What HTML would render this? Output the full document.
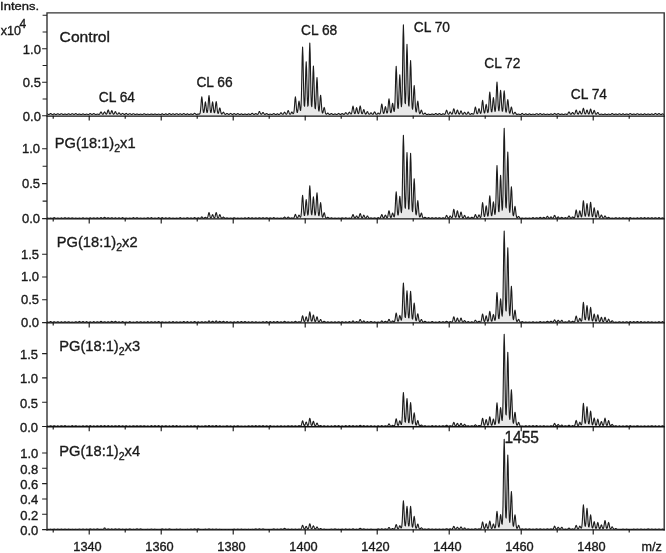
<!DOCTYPE html>
<html><head><meta charset="utf-8"><title>Mass spectra</title>
<style>
html,body{margin:0;padding:0;background:#fff}
body{width:666px;height:553px;overflow:hidden}
svg{display:block;filter:blur(0.35px)}
text{font-family:"Liberation Sans",sans-serif;fill:#1a1a1a;stroke:#1a1a1a;stroke-width:0.35px}
</style></head><body>
<svg width="666" height="553" viewBox="0 0 666 553">
<rect width="666" height="553" fill="#fff"/>
<g id="traces">
<path d="M47.0 113.7l0.4 0.1 0.4 0.3 0.4 0.3 0.4 0.1 0.4 0 0.4-0.2 0.4-0.3 0.4-0.4 0.4-0.1 0.4 0.1 0.4 0.4 0.4 0.3 0.4 0.2 0.4 0 0.4-0.1 0.4-0.2 0.4-0.3 0.4-0.1 0.4 0.1 0.4 0.3 0.4 0.2 0.4 0.1 0.4 0 0.4-0.1 0.4-0.3 0.4-0.2 0.4-0.1 0.4 0.1 0.4 0.2 0.4 0.3 0.4 0.1 0.4 0 0.4-0.1 0.4-0.3 0.4-0.3 0.4-0.1 0.4 0.1 0.4 0.3 0.4 0.3 0.4 0.1 0.4 0 0.4-0.1 0.4-0.1 0.4-0.2 0.4-0.1 0.4 0.1 0.4 0.2 0.4 0.1 0.4 0.1 0.4 0 0.4-0.1 0.4-0.3 0.4-0.2 0.4-0.1 0.4 0.1 0.4 0.2 0.4 0.3 0.4 0.1 0.4 0 0.4-0.1 0.4-0.3 0.4-0.3 0.4-0.1 0.4 0.1 0.4 0.3 0.4 0.2 0.4 0.2 0.4 0 0.4-0.2 0.4-0.3 0.4-0.3 0.4-0.1 0.4 0.1 0.4 0.3 0.4 0.3 0.4 0.2 0.4 0 0.4-0.1 0.4-0.1 0.4-0.2 0.4 0 0.4 0 0.4 0.2 0.4 0.2 0.4 0 0.4 0 0.4-0.1 0.4-0.2 0.4-0.2 0.4-0.1 0.4 0.1 0.4 0.2 0.4 0.2 0.4 0.1 0.4 0 0.4 0 0.4-0.2 0.4-0.1 0.4-0.1 0.4 0.1 0.4 0.1 0.4 0.2 0.4 0 0.4 0 0.4-0.2 0.4-0.3 0.4-0.3 0.4-0.2 0.4 0.2 0.4 0.3 0.4 0.3 0.4 0.2 0.4 0 0.4-0.2 0.4-0.2 0.4-0.3 0.4-0.2 0.4 0.2 0.4 0.3 0.4 0.2 0.4 0.2 0.4 0 0.4 0 0.4-0.2 0.4-0.1 0.4-0.1 0.4 0.1 0.4 0.1 0.4 0.1 0.4 0.1 0.4-0.2 0.4-0.4 0.4-0.8 0.4-0.8 0.4-0.4 0.4 0.4 0.4 0.8 0.4 0.8 0.4 0.3 0.4 0 0.4-0.3 0.4-0.8 0.4-0.8 0.4-0.4 0.4 0.4 0.4 0.8 0.4 0.7 0.4 0.4 0.4-0.2 0.4-0.6 0.4-1.4 0.4-1.4 0.4-0.7 0.4 0.7 0.4 1.4 0.4 1.3 0.4 0.7 0.4 0 0.4-0.5 0.4-1 0.4-1.3 0.4-0.5 0.4 0.5 0.4 1.3 0.4 1.1 0.4 0.5 0.4 0.1 0.4-0.4 0.4-0.9 0.4-0.9 0.4-0.4 0.4 0.4 0.4 1 0.4 0.8 0.4 0.4 0.4 0.1 0.4-0.2 0.4-0.5 0.4-0.6 0.4-0.2 0.4 0.3 0.4 0.5 0.4 0.5 0.4 0.3 0.4 0 0.4-0.1 0.4-0.4 0.4-0.3 0.4-0.2 0.4 0.2 0.4 0.3 0.4 0.4 0.4 0.1 0.4 0 0.4-0.1 0.4-0.3 0.4-0.4 0.4-0.2 0.4 0.2 0.4 0.4 0.4 0.3 0.4 0.2 0.4 0 0.4-0.2 0.4-0.2 0.4-0.3 0.4-0.1 0.4 0.1 0.4 0.3 0.4 0.2 0.4 0.2 0.4 0 0.4-0.1 0.4-0.3 0.4-0.3 0.4-0.1 0.4 0.1 0.4 0.3 0.4 0.3 0.4 0.1 0.4 0 0.4-0.1 0.4-0.1 0.4-0.2 0.4-0.1 0.4 0.1 0.4 0.2 0.4 0.1 0.4 0.1 0.4 0 0.4 0 0.4-0.2 0.4-0.1 0.4-0.1 0.4 0.1 0.4 0.1 0.4 0.2 0.4 0 0.4 0 0.4-0.1 0.4-0.3 0.4-0.2 0.4-0.1 0.4 0.1 0.4 0.2 0.4 0.3 0.4 0.1 0.4 0 0.4 0 0.4-0.2 0.4-0.1 0.4-0.1 0.4 0.1 0.4 0.1 0.4 0.2 0.4 0 0.4 0 0.4-0.1 0.4-0.1 0.4-0.2 0.4-0.1 0.4 0.1 0.4 0.2 0.4 0.1 0.4 0.1 0.4 0 0.4-0.1 0.4-0.1 0.4-0.2 0.4-0.1 0.4 0.1 0.4 0.2 0.4 0.1 0.4 0.1 0.4 0 0.4 0 0.4-0.2 0.4-0.1 0.4-0.1 0.4 0.1 0.4 0.1 0.4 0.2 0.4 0 0.4 0 0.4-0.1 0.4-0.2 0.4-0.3 0.4-0.1 0.4 0.1 0.4 0.3 0.4 0.2 0.4 0.1 0.4 0 0.4-0.1 0.4-0.2 0.4-0.3 0.4-0.1 0.4 0.1 0.4 0.3 0.4 0.2 0.4 0.1 0.4 0 0.4-0.2 0.4-0.3 0.4-0.3 0.4-0.2 0.4 0.2 0.4 0.3 0.4 0.3 0.4 0.2 0.4 0 0.4-0.1 0.4-0.3 0.4-0.2 0.4-0.1 0.4 0.1 0.4 0.2 0.4 0.3 0.4 0.1 0.4 0 0.4-0.2 0.4-0.2 0.4-0.3 0.4-0.1 0.4 0.1 0.4 0.3 0.4 0.2 0.4 0.2 0.4 0 0.4-0.1 0.4-0.3 0.4-0.2 0.4-0.1 0.4 0.1 0.4 0.2 0.4 0.3 0.4 0.1 0.4 0 0.4-0.2 0.4-0.2 0.4-0.3 0.4-0.2 0.4 0.2 0.4 0.3 0.4 0.2 0.4 0.2 0.4 0 0.4-0.1 0.4-0.2 0.4-0.3 0.4-0.1 0.4 0.1 0.4 0.3 0.4 0.2 0.4 0.1 0.4 0 0.4-0.1 0.4-0.2 0.4-0.2 0.4-0.1 0.4 0.1 0.4 0.2 0.4 0.2 0.4 0.1 0.4-0.1 0.4-0.2 0.4-0.4 0.4-0.4 0.4-0.2 0.4 0.2 0.4 0.4 0.4 0.4 0.4 0.2 0.4 0.1 0.4-0.1 0.4-0.1 0.4-0.2 0.4-0.1 0.4 0.1 0.4 0 0.4 0 0.4-0.3 0.4-1.1 0.4-2.7 0.4-5 0.4-5.7 0.4-2.5 0.4 2.5 0.4 5.5 0.4 4.9 0.4 2.5 0.4 0.3 0.4-1.6 0.4-3.3 0.4-3.9 0.4-1.8 0.4 1.8 0.4 3.8 0.4 3.4 0.4 1.6 0.4-0.4 0.4-2.7 0.4-5.2 0.4-5.9 0.4-2.7 0.4 2.7 0.4 5.9 0.4 5.2 0.4 2.7 0.4 0.4 0.4-1.6 0.4-3.4 0.4-3.8 0.4-1.8 0.4 1.8 0.4 3.9 0.4 3.4 0.4 1.7 0.4 0 0.4-1.7 0.4-3.6 0.4-4 0.4-1.9 0.4 1.9 0.4 4.1 0.4 3.6 0.4 1.9 0.4 0.4 0.4-0.8 0.4-1.8 0.4-2 0.4-0.9 0.4 0.9 0.4 2.2 0.4 1.8 0.4 1 0.4 0.3 0.4-0.3 0.4-0.6 0.4-0.8 0.4-0.3 0.4 0.3 0.4 0.8 0.4 0.7 0.4 0.4 0.4 0.1 0.4-0.1 0.4-0.4 0.4-0.3 0.4-0.2 0.4 0.2 0.4 0.3 0.4 0.4 0.4 0.1 0.4 0 0.4-0.1 0.4-0.4 0.4-0.3 0.4-0.2 0.4 0.2 0.4 0.3 0.4 0.4 0.4 0.1 0.4 0.1 0.4-0.2 0.4-0.3 0.4-0.3 0.4-0.2 0.4 0.2 0.4 0.3 0.4 0.3 0.4 0.2 0.4 0 0.4-0.2 0.4-0.2 0.4-0.3 0.4-0.2 0.4 0.2 0.4 0.3 0.4 0.2 0.4 0.2 0.4 0 0.4-0.1 0.4-0.2 0.4-0.2 0.4-0.1 0.4 0.1 0.4 0.2 0.4 0.2 0.4 0.1 0.4 0 0.4-0.1 0.4-0.1 0.4-0.2 0.4-0.1 0.4 0.1 0.4 0.2 0.4 0.1 0.4 0.1 0.4 0 0.4-0.1 0.4-0.2 0.4-0.2 0.4-0.1 0.4 0.1 0.4 0.2 0.4 0.2 0.4 0.1 0.4-0.1 0.4-0.2 0.4-0.4 0.4-0.4 0.4-0.2 0.4 0.2 0.4 0.4 0.4 0.4 0.4 0.2 0.4 0.1 0.4-0.2 0.4-0.3 0.4-0.3 0.4-0.1 0.4 0.1 0.4 0.3 0.4 0.3 0.4 0.1 0.4-0.1 0.4-0.5 0.4-0.9 0.4-1 0.4-0.4 0.4 0.4 0.4 1 0.4 0.9 0.4 0.4 0.4 0.1 0.4-0.3 0.4-0.6 0.4-0.6 0.4-0.3 0.4 0.3 0.4 0.7 0.4 0.5 0.4 0.4 0.4 0 0.4-0.1 0.4-0.3 0.4-0.3 0.4-0.1 0.4 0.1 0.4 0.4 0.4 0.2 0.4 0.2 0.4 0 0.4 0 0.4-0.2 0.4-0.1 0.4-0.1 0.4 0.1 0.4 0.1 0.4 0.2 0.4 0 0.4 0 0.4-0.2 0.4-0.3 0.4-0.3 0.4-0.1 0.4 0.1 0.4 0.3 0.4 0.3 0.4 0.2 0.4 0 0.4-0.1 0.4-0.2 0.4-0.2 0.4-0.2 0.4 0.1 0.4 0.3 0.4 0.2 0.4 0.1 0.4-0.1 0.4-0.3 0.4-0.5 0.4-0.6 0.4-0.3 0.4 0.3 0.4 0.6 0.4 0.5 0.4 0.2 0.4 0 0.4-0.4 0.4-0.7 0.4-0.8 0.4-0.3 0.4 0.3 0.4 0.8 0.4 0.7 0.4 0.3 0.4-0.1 0.4-0.6 0.4-1.1 0.4-1.3 0.4-0.6 0.4 0.6 0.4 1.3 0.4 1.1 0.4 0.6 0.4 0.1 0.4-0.3 0.4-0.7 0.4-0.8 0.4-0.4 0.4 0.3 0.4 0.7 0.4 0.6 0.4 0 0.4-0.9 0.4-2.7 0.4-5 0.4-5.6 0.4-2.5 0.4 2.5 0.4 5.4 0.4 4.9 0.4 2.5 0.4 0.2 0.4-1.7 0.4-3.6 0.4-4.1 0.4-1.9 0.4 1.7 0.4 3.8 0.4 3.1 0.4 0.7 0.4-3.4 0.4-10.2 0.4-18.8 0.4-21.2 0.4-9.8 0.4 9.6 0.4 20.9 0.4 18.5 0.4 9.4 0.4 0.9 0.4-6.8 0.4-14.1 0.4-16.2 0.4-7.5 0.4 7.4 0.4 16.2 0.4 14.2 0.4 6.7 0.4-1.2 0.4-10 0.4-19.6 0.4-22.1 0.4-10.2 0.4 10.2 0.4 22.2 0.4 19.6 0.4 10.1 0.4 1.4 0.4-6 0.4-13 0.4-14.8 0.4-6.8 0.4 6.9 0.4 15.1 0.4 13.2 0.4 6.8 0.4 0.7 0.4-4.7 0.4-9.9 0.4-11.3 0.4-5.2 0.4 5.3 0.4 11.5 0.4 10.2 0.4 5.4 0.4 1.1 0.4-2.3 0.4-5.1 0.4-5.9 0.4-2.6 0.4 2.8 0.4 6.1 0.4 5.3 0.4 2.9 0.4 0.8 0.4-0.7 0.4-1.9 0.4-2.1 0.4-1 0.4 1.1 0.4 2.2 0.4 2 0.4 1.1 0.4 0.4 0.4-0.1 0.4-0.4 0.4-0.4 0.4-0.2 0.4 0.2 0.4 0.5 0.4 0.4 0.4 0.2 0.4 0 0.4-0.1 0.4-0.3 0.4-0.3 0.4-0.2 0.4 0.2 0.4 0.3 0.4 0.3 0.4 0.2 0.4 0 0.4-0.1 0.4-0.2 0.4-0.2 0.4-0.1 0.4 0.1 0.4 0.2 0.4 0.2 0.4 0.1 0.4 0 0.4-0.2 0.4-0.3 0.4-0.4 0.4-0.2 0.4 0.2 0.4 0.4 0.4 0.3 0.4 0.1 0.4 0.1 0.4-0.2 0.4-0.3 0.4-0.3 0.4-0.2 0.4 0.2 0.4 0.3 0.4 0.3 0.4 0.1 0.4 0 0.4-0.3 0.4-0.6 0.4-0.6 0.4-0.3 0.4 0.3 0.4 0.6 0.4 0.5 0.4 0.3 0.4 0 0.4-0.4 0.4-0.7 0.4-0.8 0.4-0.3 0.4 0.3 0.4 0.8 0.4 0.6 0.4 0.2 0.4-0.3 0.4-1.3 0.4-2.4 0.4-2.7 0.4-1.2 0.4 1.2 0.4 2.7 0.4 2.3 0.4 1.2 0.4 0.1 0.4-0.9 0.4-1.9 0.4-2.2 0.4-1 0.4 1 0.4 2.2 0.4 1.9 0.4 0.9 0.4-0.1 0.4-1.2 0.4-2.4 0.4-2.8 0.4-1.2 0.4 1.2 0.4 2.8 0.4 2.4 0.4 1.3 0.4 0.2 0.4-0.6 0.4-1.4 0.4-1.5 0.4-0.7 0.4 0.7 0.4 1.6 0.4 1.4 0.4 0.7 0.4 0.1 0.4-0.3 0.4-0.9 0.4-0.9 0.4-0.4 0.4 0.4 0.4 1 0.4 0.8 0.4 0.4 0.4 0.1 0.4-0.2 0.4-0.5 0.4-0.6 0.4-0.2 0.4 0.2 0.4 0.6 0.4 0.5 0.4 0.2 0.4 0 0.4-0.4 0.4-0.8 0.4-0.9 0.4-0.4 0.4 0.4 0.4 0.9 0.4 0.8 0.4 0.4 0.4 0 0.4-0.1 0.4-0.4 0.4-0.5 0.4-0.2 0.4 0.1 0.4 0.5 0.4 0.3 0.4 0 0.4-0.6 0.4-1.6 0.4-3 0.4-3.3 0.4-1.5 0.4 1.5 0.4 3.3 0.4 2.9 0.4 1.5 0.4 0.2 0.4-1.1 0.4-2.1 0.4-2.4 0.4-1.2 0.4 1.1 0.4 2.5 0.4 2 0.4 0.9 0.4-0.4 0.4-2.3 0.4-4.4 0.4-4.9 0.4-2.3 0.4 2.3 0.4 4.9 0.4 4.3 0.4 2.2 0.4 0.2 0.4-1.4 0.4-3 0.4-3.4 0.4-1.7 0.4 1.5 0.4 3.3 0.4 2.7 0.4 0.7 0.4-2.3 0.4-7.3 0.4-13.5 0.4-15.2 0.4-6.9 0.4 6.8 0.4 15 0.4 13.2 0.4 6.7 0.4 0.5 0.4-5.1 0.4-10.7 0.4-12.2 0.4-5.7 0.4 5.5 0.4 12 0.4 10.3 0.4 4.3 0.4-3.1 0.4-13.2 0.4-24.8 0.4-28 0.4-12.8 0.4 12.7 0.4 27.8 0.4 24.6 0.4 12.5 0.4 1.2 0.4-9.1 0.4-18.8 0.4-21.6 0.4-9.8 0.4 10 0.4 21.8 0.4 19.1 0.4 9.8 0.4 1 0.4-6.9 0.4-14.5 0.4-16.6 0.4-7.6 0.4 7.8 0.4 16.8 0.4 14.9 0.4 7.8 0.4 1.5 0.4-3.3 0.4-7.6 0.4-8.8 0.4-4 0.4 4.2 0.4 9 0.4 8 0.4 4.2 0.4 1 0.4-1.5 0.4-3.6 0.4-4 0.4-1.9 0.4 2 0.4 4.2 0.4 3.8 0.4 2 0.4 0.6 0.4-0.4 0.4-1.1 0.4-1.4 0.4-0.5 0.4 0.6 0.4 1.4 0.4 1.2 0.4 0.7 0.4 0.2 0.4-0.2 0.4-0.4 0.4-0.4 0.4-0.2 0.4 0.2 0.4 0.5 0.4 0.4 0.4 0.2 0.4 0.1 0.4 0 0.4-0.2 0.4-0.1 0.4-0.1 0.4 0.1 0.4 0.2 0.4 0.1 0.4 0 0.4 0 0.4-0.1 0.4-0.1 0.4-0.2 0.4-0.1 0.4 0.1 0.4 0.2 0.4 0.1 0.4 0.1 0.4 0 0.4-0.2 0.4-0.3 0.4-0.4 0.4-0.1 0.4 0.1 0.4 0.4 0.4 0.3 0.4 0.1 0.4 0.1 0.4-0.2 0.4-0.3 0.4-0.3 0.4-0.2 0.4 0.2 0.4 0.3 0.4 0.3 0.4 0.2 0.4 0 0.4-0.1 0.4-0.2 0.4-0.3 0.4-0.1 0.4 0.1 0.4 0.2 0.4 0.2 0.4 0.1 0.4-0.3 0.4-0.6 0.4-1.3 0.4-1.4 0.4-0.6 0.4 0.6 0.4 1.4 0.4 1.2 0.4 0.7 0.4 0.1 0.4-0.3 0.4-0.7 0.4-0.9 0.4-0.3 0.4 0.3 0.4 0.8 0.4 0.7 0.4 0.3 0.4-0.2 0.4-0.8 0.4-1.7 0.4-1.9 0.4-0.8 0.4 0.8 0.4 1.9 0.4 1.6 0.4 0.9 0.4 0 0.4-0.6 0.4-1.2 0.4-1.5 0.4-0.6 0.4 0.6 0.4 1.5 0.4 1.3 0.4 0.6 0.4 0.1 0.4-0.5 0.4-1 0.4-1.2 0.4-0.5 0.4 0.5 0.4 1.2 0.4 1 0.4 0.6 0.4 0 0.4-0.2 0.4-0.7 0.4-0.7 0.4-0.3 0.4 0.3 0.4 0.7 0.4 0.7 0.4 0.3 0.4 0 0.4-0.4 0.4-0.7 0.4-0.8 0.4-0.4 0.4 0.4 0.4 0.8 0.4 0.7 0.4 0.4 0.4 0.1 0.4-0.1 0.4-0.3 0.4-0.4 0.4-0.1 0.4 0.1 0.4 0.3 0.4 0.3 0.4 0 0.4-0.4 0.4-1.2 0.4-2.1 0.4-2.4 0.4-1.1 0.4 1.1 0.4 2.4 0.4 2.1 0.4 1 0.4 0.1 0.4-0.7 0.4-1.7 0.4-1.8 0.4-0.9 0.4 0.9 0.4 1.8 0.4 1.5 0.4 0.6 0.4-0.5 0.4-2.1 0.4-3.9 0.4-4.5 0.4-2 0.4 2 0.4 4.4 0.4 3.9 0.4 2 0.4 0.3 0.4-1.3 0.4-2.7 0.4-3.2 0.4-1.4 0.4 1.4 0.4 3.1 0.4 2.6 0.4 1.1 0.4-0.7 0.4-3.3 0.4-6.3 0.4-7 0.4-3.3 0.4 3.2 0.4 7 0.4 6.2 0.4 3.2 0.4 0.3 0.4-2.2 0.4-4.5 0.4-5.2 0.4-2.5 0.4 2.4 0.4 5.2 0.4 4.4 0.4 2 0.4-1 0.4-4.7 0.4-8.9 0.4-10.2 0.4-4.6 0.4 4.6 0.4 10.1 0.4 8.9 0.4 4.5 0.4 0.6 0.4-3.1 0.4-6.5 0.4-7.4 0.4-3.4 0.4 3.5 0.4 7.4 0.4 6.5 0.4 3.3 0.4 0 0.4-3.2 0.4-6.4 0.4-7.4 0.4-3.3 0.4 3.4 0.4 7.4 0.4 6.5 0.4 3.4 0.4 0.6 0.4-1.9 0.4-4 0.4-4.6 0.4-2.1 0.4 2.2 0.4 4.7 0.4 4.2 0.4 2.1 0.4 0.5 0.4-0.9 0.4-2 0.4-2.3 0.4-1 0.4 1.1 0.4 2.4 0.4 2.1 0.4 1.2 0.4 0.3 0.4-0.2 0.4-0.6 0.4-0.7 0.4-0.3 0.4 0.3 0.4 0.8 0.4 0.6 0.4 0.4 0.4 0.1 0.4-0.1 0.4-0.1 0.4-0.1 0.4-0.1 0.4 0.1 0.4 0.1 0.4 0.2 0.4 0 0.4 0 0.4-0.2 0.4-0.3 0.4-0.4 0.4-0.2 0.4 0.2 0.4 0.4 0.4 0.3 0.4 0.2 0.4 0 0.4-0.1 0.4-0.2 0.4-0.3 0.4-0.1 0.4 0.1 0.4 0.3 0.4 0.2 0.4 0.1 0.4 0 0.4-0.1 0.4-0.2 0.4-0.2 0.4-0.2 0.4 0.2 0.4 0.2 0.4 0.2 0.4 0.1 0.4 0 0.4 0 0.4-0.2 0.4-0.1 0.4-0.1 0.4 0.1 0.4 0.1 0.4 0.2 0.4 0 0.4 0 0.4-0.1 0.4-0.3 0.4-0.3 0.4-0.1 0.4 0.1 0.4 0.3 0.4 0.2 0.4 0.2 0.4 0 0.4-0.2 0.4-0.3 0.4-0.3 0.4-0.1 0.4 0.1 0.4 0.3 0.4 0.3 0.4 0.2 0.4 0 0.4-0.1 0.4-0.2 0.4-0.2 0.4-0.1 0.4 0.1 0.4 0.2 0.4 0.2 0.4 0.1 0.4 0 0.4 0 0.4-0.2 0.4-0.1 0.4-0.1 0.4 0.1 0.4 0.1 0.4 0.2 0.4 0 0.4 0 0.4-0.1 0.4-0.2 0.4-0.2 0.4-0.1 0.4 0.1 0.4 0.2 0.4 0.2 0.4 0.1 0.4 0 0.4-0.2 0.4-0.3 0.4-0.4 0.4-0.2 0.4 0.2 0.4 0.4 0.4 0.3 0.4 0.1 0.4 0.1 0.4-0.2 0.4-0.3 0.4-0.3 0.4-0.1 0.4 0.1 0.4 0.3 0.4 0.3 0.4 0.2 0.4 0 0.4-0.1 0.4-0.1 0.4-0.2 0.4 0 0.4 0 0.4 0.2 0.4 0.2 0.4 0 0.4 0 0.4-0.1 0.4-0.1 0.4-0.2 0.4-0.1 0.4 0 0.4 0.2 0.4 0.2 0.4 0 0.4-0.1 0.4-0.4 0.4-0.8 0.4-0.8 0.4-0.4 0.4 0.4 0.4 0.8 0.4 0.8 0.4 0.4 0.4 0 0.4-0.3 0.4-0.6 0.4-0.6 0.4-0.3 0.4 0.3 0.4 0.6 0.4 0.6 0.4 0.2 0.4-0.1 0.4-0.7 0.4-1.3 0.4-1.4 0.4-0.7 0.4 0.6 0.4 1.5 0.4 1.3 0.4 0.6 0.4 0.1 0.4-0.5 0.4-0.9 0.4-1.1 0.4-0.5 0.4 0.5 0.4 1.1 0.4 0.9 0.4 0.4 0.4-0.1 0.4-1 0.4-1.7 0.4-2 0.4-0.9 0.4 0.9 0.4 2 0.4 1.7 0.4 0.9 0.4 0.1 0.4-0.6 0.4-1.2 0.4-1.5 0.4-0.6 0.4 0.6 0.4 1.5 0.4 1.2 0.4 0.6 0.4 0 0.4-0.8 0.4-1.6 0.4-1.7 0.4-0.8 0.4 0.8 0.4 1.7 0.4 1.6 0.4 0.8 0.4 0.1 0.4-0.6 0.4-1.1 0.4-1.3 0.4-0.6 0.4 0.6 0.4 1.3 0.4 1.2 0.4 0.6 0.4 0.1 0.4-0.2 0.4-0.6 0.4-0.6 0.4-0.3 0.4 0.3 0.4 0.7 0.4 0.6 0.4 0.3 0.4 0.1 0.4-0.1 0.4-0.1 0.4-0.1 0.4-0.1 0.4 0.1 0.4 0.1 0.4 0.2 0.4 0 0.4 0 0.4 0 0.4-0.2 0.4-0.2 0.4 0 0.4 0 0.4 0.2 0.4 0.2 0.4 0 0.4 0 0.4 0 0.4-0.2 0.4-0.1 0.4-0.1 0.4 0.1 0.4 0.1 0.4 0.2 0.4 0 0.4 0 0.4-0.2 0.4-0.3 0.4-0.3 0.4-0.2 0.4 0.2 0.4 0.3 0.4 0.3 0.4 0.2 0.4 0 0.4-0.1 0.4-0.1 0.4-0.2 0.4-0.1 0.4 0.1 0.4 0.2 0.4 0.1 0.4 0.1 0.4 0 0.4-0.1 0.4-0.3 0.4-0.2 0.4-0.2 0.4 0.2 0.4 0.2 0.4 0.3 0.4 0.1 0.4 0 0.4-0.1 0.4-0.2 0.4-0.3 0.4-0.1 0.4 0.1 0.4 0.3 0.4 0.2 0.4 0.1 0.4 0 0.4-0.1 0.4-0.1 0.4-0.2 0.4-0.1 0.4 0.1 0.4 0.2 0.4 0.1 0.4 0.1 0.4 0 0.4-0.2 0.4-0.2 0.4-0.4 0.4-0.1 0.4 0.1 0.4 0.4 0.4 0.2 0.4 0.2 0.4 0 0.4-0.1 0.4-0.1 0.4-0.2 0.4-0.1 0.4 0.1 0.4 0.2 0.4 0.1 0.4 0.1 0.4 0 0.4-0.1 0.4-0.3 0.4-0.3 0.4-0.1 0.4 0.1 0.4 0.3 0.4 0.3 0.4 0.1 0.4 0 0.4-0.1 0.4-0.1 0.4-0.2 0.4 0 0.4 0 0.4 0.2 0.4 0.2 0.4 0 0.4 0 0.4-0.1 0.4-0.2 0.4-0.3 0.4-0.1 0.4 0.1 0.4 0.3 0.4 0.2 0.4 0.1 0.4 0 0.4-0.1 0.4-0.1 0.4-0.2 0.4-0.1 0.4 0.1 0.4 0.2 0.4 0.1 0.4 0.1 0.4 0 0.4-0.1 0.4-0.2 0.4-0.2 0.4-0.1 0.4 0.1 0.4 0.2 0.4 0.2 0.4 0.1 0.4 0 0.4-0.2 0.4-0.3 0.4-0.4 0.4-0.2 0.4 0.2 0.4 0.4 0.4 0.3 0.4 0.1 0.4 0.1 0.4-0.2 0.4-0.3 0.4-0.3 0.4-0.2 0.4 0.2 0.4 0.3 0.4 0.3 0.4 0.2 0.4 0 0.4-0.1 0.4-0.2 0.4-0.2 0.4-0.1 0.4 0.1 0.4 0.2 0.4 0.2 0.4 0.1L664.2 115.8L47.0 115.8Z" fill="#e8e8e8"/>
<path d="M47.0 113.7l0.4 0.1 0.4 0.3 0.4 0.3 0.4 0.1 0.4 0 0.4-0.2 0.4-0.3 0.4-0.4 0.4-0.1 0.4 0.1 0.4 0.4 0.4 0.3 0.4 0.2 0.4 0 0.4-0.1 0.4-0.2 0.4-0.3 0.4-0.1 0.4 0.1 0.4 0.3 0.4 0.2 0.4 0.1 0.4 0 0.4-0.1 0.4-0.3 0.4-0.2 0.4-0.1 0.4 0.1 0.4 0.2 0.4 0.3 0.4 0.1 0.4 0 0.4-0.1 0.4-0.3 0.4-0.3 0.4-0.1 0.4 0.1 0.4 0.3 0.4 0.3 0.4 0.1 0.4 0 0.4-0.1 0.4-0.1 0.4-0.2 0.4-0.1 0.4 0.1 0.4 0.2 0.4 0.1 0.4 0.1 0.4 0 0.4-0.1 0.4-0.3 0.4-0.2 0.4-0.1 0.4 0.1 0.4 0.2 0.4 0.3 0.4 0.1 0.4 0 0.4-0.1 0.4-0.3 0.4-0.3 0.4-0.1 0.4 0.1 0.4 0.3 0.4 0.2 0.4 0.2 0.4 0 0.4-0.2 0.4-0.3 0.4-0.3 0.4-0.1 0.4 0.1 0.4 0.3 0.4 0.3 0.4 0.2 0.4 0 0.4-0.1 0.4-0.1 0.4-0.2 0.4 0 0.4 0 0.4 0.2 0.4 0.2 0.4 0 0.4 0 0.4-0.1 0.4-0.2 0.4-0.2 0.4-0.1 0.4 0.1 0.4 0.2 0.4 0.2 0.4 0.1 0.4 0 0.4 0 0.4-0.2 0.4-0.1 0.4-0.1 0.4 0.1 0.4 0.1 0.4 0.2 0.4 0 0.4 0 0.4-0.2 0.4-0.3 0.4-0.3 0.4-0.2 0.4 0.2 0.4 0.3 0.4 0.3 0.4 0.2 0.4 0 0.4-0.2 0.4-0.2 0.4-0.3 0.4-0.2 0.4 0.2 0.4 0.3 0.4 0.2 0.4 0.2 0.4 0 0.4 0 0.4-0.2 0.4-0.1 0.4-0.1 0.4 0.1 0.4 0.1 0.4 0.1 0.4 0.1 0.4-0.2 0.4-0.4 0.4-0.8 0.4-0.8 0.4-0.4 0.4 0.4 0.4 0.8 0.4 0.8 0.4 0.3 0.4 0 0.4-0.3 0.4-0.8 0.4-0.8 0.4-0.4 0.4 0.4 0.4 0.8 0.4 0.7 0.4 0.4 0.4-0.2 0.4-0.6 0.4-1.4 0.4-1.4 0.4-0.7 0.4 0.7 0.4 1.4 0.4 1.3 0.4 0.7 0.4 0 0.4-0.5 0.4-1 0.4-1.3 0.4-0.5 0.4 0.5 0.4 1.3 0.4 1.1 0.4 0.5 0.4 0.1 0.4-0.4 0.4-0.9 0.4-0.9 0.4-0.4 0.4 0.4 0.4 1 0.4 0.8 0.4 0.4 0.4 0.1 0.4-0.2 0.4-0.5 0.4-0.6 0.4-0.2 0.4 0.3 0.4 0.5 0.4 0.5 0.4 0.3 0.4 0 0.4-0.1 0.4-0.4 0.4-0.3 0.4-0.2 0.4 0.2 0.4 0.3 0.4 0.4 0.4 0.1 0.4 0 0.4-0.1 0.4-0.3 0.4-0.4 0.4-0.2 0.4 0.2 0.4 0.4 0.4 0.3 0.4 0.2 0.4 0 0.4-0.2 0.4-0.2 0.4-0.3 0.4-0.1 0.4 0.1 0.4 0.3 0.4 0.2 0.4 0.2 0.4 0 0.4-0.1 0.4-0.3 0.4-0.3 0.4-0.1 0.4 0.1 0.4 0.3 0.4 0.3 0.4 0.1 0.4 0 0.4-0.1 0.4-0.1 0.4-0.2 0.4-0.1 0.4 0.1 0.4 0.2 0.4 0.1 0.4 0.1 0.4 0 0.4 0 0.4-0.2 0.4-0.1 0.4-0.1 0.4 0.1 0.4 0.1 0.4 0.2 0.4 0 0.4 0 0.4-0.1 0.4-0.3 0.4-0.2 0.4-0.1 0.4 0.1 0.4 0.2 0.4 0.3 0.4 0.1 0.4 0 0.4 0 0.4-0.2 0.4-0.1 0.4-0.1 0.4 0.1 0.4 0.1 0.4 0.2 0.4 0 0.4 0 0.4-0.1 0.4-0.1 0.4-0.2 0.4-0.1 0.4 0.1 0.4 0.2 0.4 0.1 0.4 0.1 0.4 0 0.4-0.1 0.4-0.1 0.4-0.2 0.4-0.1 0.4 0.1 0.4 0.2 0.4 0.1 0.4 0.1 0.4 0 0.4 0 0.4-0.2 0.4-0.1 0.4-0.1 0.4 0.1 0.4 0.1 0.4 0.2 0.4 0 0.4 0 0.4-0.1 0.4-0.2 0.4-0.3 0.4-0.1 0.4 0.1 0.4 0.3 0.4 0.2 0.4 0.1 0.4 0 0.4-0.1 0.4-0.2 0.4-0.3 0.4-0.1 0.4 0.1 0.4 0.3 0.4 0.2 0.4 0.1 0.4 0 0.4-0.2 0.4-0.3 0.4-0.3 0.4-0.2 0.4 0.2 0.4 0.3 0.4 0.3 0.4 0.2 0.4 0 0.4-0.1 0.4-0.3 0.4-0.2 0.4-0.1 0.4 0.1 0.4 0.2 0.4 0.3 0.4 0.1 0.4 0 0.4-0.2 0.4-0.2 0.4-0.3 0.4-0.1 0.4 0.1 0.4 0.3 0.4 0.2 0.4 0.2 0.4 0 0.4-0.1 0.4-0.3 0.4-0.2 0.4-0.1 0.4 0.1 0.4 0.2 0.4 0.3 0.4 0.1 0.4 0 0.4-0.2 0.4-0.2 0.4-0.3 0.4-0.2 0.4 0.2 0.4 0.3 0.4 0.2 0.4 0.2 0.4 0 0.4-0.1 0.4-0.2 0.4-0.3 0.4-0.1 0.4 0.1 0.4 0.3 0.4 0.2 0.4 0.1 0.4 0 0.4-0.1 0.4-0.2 0.4-0.2 0.4-0.1 0.4 0.1 0.4 0.2 0.4 0.2 0.4 0.1 0.4-0.1 0.4-0.2 0.4-0.4 0.4-0.4 0.4-0.2 0.4 0.2 0.4 0.4 0.4 0.4 0.4 0.2 0.4 0.1 0.4-0.1 0.4-0.1 0.4-0.2 0.4-0.1 0.4 0.1 0.4 0 0.4 0 0.4-0.3 0.4-1.1 0.4-2.7 0.4-5 0.4-5.7 0.4-2.5 0.4 2.5 0.4 5.5 0.4 4.9 0.4 2.5 0.4 0.3 0.4-1.6 0.4-3.3 0.4-3.9 0.4-1.8 0.4 1.8 0.4 3.8 0.4 3.4 0.4 1.6 0.4-0.4 0.4-2.7 0.4-5.2 0.4-5.9 0.4-2.7 0.4 2.7 0.4 5.9 0.4 5.2 0.4 2.7 0.4 0.4 0.4-1.6 0.4-3.4 0.4-3.8 0.4-1.8 0.4 1.8 0.4 3.9 0.4 3.4 0.4 1.7 0.4 0 0.4-1.7 0.4-3.6 0.4-4 0.4-1.9 0.4 1.9 0.4 4.1 0.4 3.6 0.4 1.9 0.4 0.4 0.4-0.8 0.4-1.8 0.4-2 0.4-0.9 0.4 0.9 0.4 2.2 0.4 1.8 0.4 1 0.4 0.3 0.4-0.3 0.4-0.6 0.4-0.8 0.4-0.3 0.4 0.3 0.4 0.8 0.4 0.7 0.4 0.4 0.4 0.1 0.4-0.1 0.4-0.4 0.4-0.3 0.4-0.2 0.4 0.2 0.4 0.3 0.4 0.4 0.4 0.1 0.4 0 0.4-0.1 0.4-0.4 0.4-0.3 0.4-0.2 0.4 0.2 0.4 0.3 0.4 0.4 0.4 0.1 0.4 0.1 0.4-0.2 0.4-0.3 0.4-0.3 0.4-0.2 0.4 0.2 0.4 0.3 0.4 0.3 0.4 0.2 0.4 0 0.4-0.2 0.4-0.2 0.4-0.3 0.4-0.2 0.4 0.2 0.4 0.3 0.4 0.2 0.4 0.2 0.4 0 0.4-0.1 0.4-0.2 0.4-0.2 0.4-0.1 0.4 0.1 0.4 0.2 0.4 0.2 0.4 0.1 0.4 0 0.4-0.1 0.4-0.1 0.4-0.2 0.4-0.1 0.4 0.1 0.4 0.2 0.4 0.1 0.4 0.1 0.4 0 0.4-0.1 0.4-0.2 0.4-0.2 0.4-0.1 0.4 0.1 0.4 0.2 0.4 0.2 0.4 0.1 0.4-0.1 0.4-0.2 0.4-0.4 0.4-0.4 0.4-0.2 0.4 0.2 0.4 0.4 0.4 0.4 0.4 0.2 0.4 0.1 0.4-0.2 0.4-0.3 0.4-0.3 0.4-0.1 0.4 0.1 0.4 0.3 0.4 0.3 0.4 0.1 0.4-0.1 0.4-0.5 0.4-0.9 0.4-1 0.4-0.4 0.4 0.4 0.4 1 0.4 0.9 0.4 0.4 0.4 0.1 0.4-0.3 0.4-0.6 0.4-0.6 0.4-0.3 0.4 0.3 0.4 0.7 0.4 0.5 0.4 0.4 0.4 0 0.4-0.1 0.4-0.3 0.4-0.3 0.4-0.1 0.4 0.1 0.4 0.4 0.4 0.2 0.4 0.2 0.4 0 0.4 0 0.4-0.2 0.4-0.1 0.4-0.1 0.4 0.1 0.4 0.1 0.4 0.2 0.4 0 0.4 0 0.4-0.2 0.4-0.3 0.4-0.3 0.4-0.1 0.4 0.1 0.4 0.3 0.4 0.3 0.4 0.2 0.4 0 0.4-0.1 0.4-0.2 0.4-0.2 0.4-0.2 0.4 0.1 0.4 0.3 0.4 0.2 0.4 0.1 0.4-0.1 0.4-0.3 0.4-0.5 0.4-0.6 0.4-0.3 0.4 0.3 0.4 0.6 0.4 0.5 0.4 0.2 0.4 0 0.4-0.4 0.4-0.7 0.4-0.8 0.4-0.3 0.4 0.3 0.4 0.8 0.4 0.7 0.4 0.3 0.4-0.1 0.4-0.6 0.4-1.1 0.4-1.3 0.4-0.6 0.4 0.6 0.4 1.3 0.4 1.1 0.4 0.6 0.4 0.1 0.4-0.3 0.4-0.7 0.4-0.8 0.4-0.4 0.4 0.3 0.4 0.7 0.4 0.6 0.4 0 0.4-0.9 0.4-2.7 0.4-5 0.4-5.6 0.4-2.5 0.4 2.5 0.4 5.4 0.4 4.9 0.4 2.5 0.4 0.2 0.4-1.7 0.4-3.6 0.4-4.1 0.4-1.9 0.4 1.7 0.4 3.8 0.4 3.1 0.4 0.7 0.4-3.4 0.4-10.2 0.4-18.8 0.4-21.2 0.4-9.8 0.4 9.6 0.4 20.9 0.4 18.5 0.4 9.4 0.4 0.9 0.4-6.8 0.4-14.1 0.4-16.2 0.4-7.5 0.4 7.4 0.4 16.2 0.4 14.2 0.4 6.7 0.4-1.2 0.4-10 0.4-19.6 0.4-22.1 0.4-10.2 0.4 10.2 0.4 22.2 0.4 19.6 0.4 10.1 0.4 1.4 0.4-6 0.4-13 0.4-14.8 0.4-6.8 0.4 6.9 0.4 15.1 0.4 13.2 0.4 6.8 0.4 0.7 0.4-4.7 0.4-9.9 0.4-11.3 0.4-5.2 0.4 5.3 0.4 11.5 0.4 10.2 0.4 5.4 0.4 1.1 0.4-2.3 0.4-5.1 0.4-5.9 0.4-2.6 0.4 2.8 0.4 6.1 0.4 5.3 0.4 2.9 0.4 0.8 0.4-0.7 0.4-1.9 0.4-2.1 0.4-1 0.4 1.1 0.4 2.2 0.4 2 0.4 1.1 0.4 0.4 0.4-0.1 0.4-0.4 0.4-0.4 0.4-0.2 0.4 0.2 0.4 0.5 0.4 0.4 0.4 0.2 0.4 0 0.4-0.1 0.4-0.3 0.4-0.3 0.4-0.2 0.4 0.2 0.4 0.3 0.4 0.3 0.4 0.2 0.4 0 0.4-0.1 0.4-0.2 0.4-0.2 0.4-0.1 0.4 0.1 0.4 0.2 0.4 0.2 0.4 0.1 0.4 0 0.4-0.2 0.4-0.3 0.4-0.4 0.4-0.2 0.4 0.2 0.4 0.4 0.4 0.3 0.4 0.1 0.4 0.1 0.4-0.2 0.4-0.3 0.4-0.3 0.4-0.2 0.4 0.2 0.4 0.3 0.4 0.3 0.4 0.1 0.4 0 0.4-0.3 0.4-0.6 0.4-0.6 0.4-0.3 0.4 0.3 0.4 0.6 0.4 0.5 0.4 0.3 0.4 0 0.4-0.4 0.4-0.7 0.4-0.8 0.4-0.3 0.4 0.3 0.4 0.8 0.4 0.6 0.4 0.2 0.4-0.3 0.4-1.3 0.4-2.4 0.4-2.7 0.4-1.2 0.4 1.2 0.4 2.7 0.4 2.3 0.4 1.2 0.4 0.1 0.4-0.9 0.4-1.9 0.4-2.2 0.4-1 0.4 1 0.4 2.2 0.4 1.9 0.4 0.9 0.4-0.1 0.4-1.2 0.4-2.4 0.4-2.8 0.4-1.2 0.4 1.2 0.4 2.8 0.4 2.4 0.4 1.3 0.4 0.2 0.4-0.6 0.4-1.4 0.4-1.5 0.4-0.7 0.4 0.7 0.4 1.6 0.4 1.4 0.4 0.7 0.4 0.1 0.4-0.3 0.4-0.9 0.4-0.9 0.4-0.4 0.4 0.4 0.4 1 0.4 0.8 0.4 0.4 0.4 0.1 0.4-0.2 0.4-0.5 0.4-0.6 0.4-0.2 0.4 0.2 0.4 0.6 0.4 0.5 0.4 0.2 0.4 0 0.4-0.4 0.4-0.8 0.4-0.9 0.4-0.4 0.4 0.4 0.4 0.9 0.4 0.8 0.4 0.4 0.4 0 0.4-0.1 0.4-0.4 0.4-0.5 0.4-0.2 0.4 0.1 0.4 0.5 0.4 0.3 0.4 0 0.4-0.6 0.4-1.6 0.4-3 0.4-3.3 0.4-1.5 0.4 1.5 0.4 3.3 0.4 2.9 0.4 1.5 0.4 0.2 0.4-1.1 0.4-2.1 0.4-2.4 0.4-1.2 0.4 1.1 0.4 2.5 0.4 2 0.4 0.9 0.4-0.4 0.4-2.3 0.4-4.4 0.4-4.9 0.4-2.3 0.4 2.3 0.4 4.9 0.4 4.3 0.4 2.2 0.4 0.2 0.4-1.4 0.4-3 0.4-3.4 0.4-1.7 0.4 1.5 0.4 3.3 0.4 2.7 0.4 0.7 0.4-2.3 0.4-7.3 0.4-13.5 0.4-15.2 0.4-6.9 0.4 6.8 0.4 15 0.4 13.2 0.4 6.7 0.4 0.5 0.4-5.1 0.4-10.7 0.4-12.2 0.4-5.7 0.4 5.5 0.4 12 0.4 10.3 0.4 4.3 0.4-3.1 0.4-13.2 0.4-24.8 0.4-28 0.4-12.8 0.4 12.7 0.4 27.8 0.4 24.6 0.4 12.5 0.4 1.2 0.4-9.1 0.4-18.8 0.4-21.6 0.4-9.8 0.4 10 0.4 21.8 0.4 19.1 0.4 9.8 0.4 1 0.4-6.9 0.4-14.5 0.4-16.6 0.4-7.6 0.4 7.8 0.4 16.8 0.4 14.9 0.4 7.8 0.4 1.5 0.4-3.3 0.4-7.6 0.4-8.8 0.4-4 0.4 4.2 0.4 9 0.4 8 0.4 4.2 0.4 1 0.4-1.5 0.4-3.6 0.4-4 0.4-1.9 0.4 2 0.4 4.2 0.4 3.8 0.4 2 0.4 0.6 0.4-0.4 0.4-1.1 0.4-1.4 0.4-0.5 0.4 0.6 0.4 1.4 0.4 1.2 0.4 0.7 0.4 0.2 0.4-0.2 0.4-0.4 0.4-0.4 0.4-0.2 0.4 0.2 0.4 0.5 0.4 0.4 0.4 0.2 0.4 0.1 0.4 0 0.4-0.2 0.4-0.1 0.4-0.1 0.4 0.1 0.4 0.2 0.4 0.1 0.4 0 0.4 0 0.4-0.1 0.4-0.1 0.4-0.2 0.4-0.1 0.4 0.1 0.4 0.2 0.4 0.1 0.4 0.1 0.4 0 0.4-0.2 0.4-0.3 0.4-0.4 0.4-0.1 0.4 0.1 0.4 0.4 0.4 0.3 0.4 0.1 0.4 0.1 0.4-0.2 0.4-0.3 0.4-0.3 0.4-0.2 0.4 0.2 0.4 0.3 0.4 0.3 0.4 0.2 0.4 0 0.4-0.1 0.4-0.2 0.4-0.3 0.4-0.1 0.4 0.1 0.4 0.2 0.4 0.2 0.4 0.1 0.4-0.3 0.4-0.6 0.4-1.3 0.4-1.4 0.4-0.6 0.4 0.6 0.4 1.4 0.4 1.2 0.4 0.7 0.4 0.1 0.4-0.3 0.4-0.7 0.4-0.9 0.4-0.3 0.4 0.3 0.4 0.8 0.4 0.7 0.4 0.3 0.4-0.2 0.4-0.8 0.4-1.7 0.4-1.9 0.4-0.8 0.4 0.8 0.4 1.9 0.4 1.6 0.4 0.9 0.4 0 0.4-0.6 0.4-1.2 0.4-1.5 0.4-0.6 0.4 0.6 0.4 1.5 0.4 1.3 0.4 0.6 0.4 0.1 0.4-0.5 0.4-1 0.4-1.2 0.4-0.5 0.4 0.5 0.4 1.2 0.4 1 0.4 0.6 0.4 0 0.4-0.2 0.4-0.7 0.4-0.7 0.4-0.3 0.4 0.3 0.4 0.7 0.4 0.7 0.4 0.3 0.4 0 0.4-0.4 0.4-0.7 0.4-0.8 0.4-0.4 0.4 0.4 0.4 0.8 0.4 0.7 0.4 0.4 0.4 0.1 0.4-0.1 0.4-0.3 0.4-0.4 0.4-0.1 0.4 0.1 0.4 0.3 0.4 0.3 0.4 0 0.4-0.4 0.4-1.2 0.4-2.1 0.4-2.4 0.4-1.1 0.4 1.1 0.4 2.4 0.4 2.1 0.4 1 0.4 0.1 0.4-0.7 0.4-1.7 0.4-1.8 0.4-0.9 0.4 0.9 0.4 1.8 0.4 1.5 0.4 0.6 0.4-0.5 0.4-2.1 0.4-3.9 0.4-4.5 0.4-2 0.4 2 0.4 4.4 0.4 3.9 0.4 2 0.4 0.3 0.4-1.3 0.4-2.7 0.4-3.2 0.4-1.4 0.4 1.4 0.4 3.1 0.4 2.6 0.4 1.1 0.4-0.7 0.4-3.3 0.4-6.3 0.4-7 0.4-3.3 0.4 3.2 0.4 7 0.4 6.2 0.4 3.2 0.4 0.3 0.4-2.2 0.4-4.5 0.4-5.2 0.4-2.5 0.4 2.4 0.4 5.2 0.4 4.4 0.4 2 0.4-1 0.4-4.7 0.4-8.9 0.4-10.2 0.4-4.6 0.4 4.6 0.4 10.1 0.4 8.9 0.4 4.5 0.4 0.6 0.4-3.1 0.4-6.5 0.4-7.4 0.4-3.4 0.4 3.5 0.4 7.4 0.4 6.5 0.4 3.3 0.4 0 0.4-3.2 0.4-6.4 0.4-7.4 0.4-3.3 0.4 3.4 0.4 7.4 0.4 6.5 0.4 3.4 0.4 0.6 0.4-1.9 0.4-4 0.4-4.6 0.4-2.1 0.4 2.2 0.4 4.7 0.4 4.2 0.4 2.1 0.4 0.5 0.4-0.9 0.4-2 0.4-2.3 0.4-1 0.4 1.1 0.4 2.4 0.4 2.1 0.4 1.2 0.4 0.3 0.4-0.2 0.4-0.6 0.4-0.7 0.4-0.3 0.4 0.3 0.4 0.8 0.4 0.6 0.4 0.4 0.4 0.1 0.4-0.1 0.4-0.1 0.4-0.1 0.4-0.1 0.4 0.1 0.4 0.1 0.4 0.2 0.4 0 0.4 0 0.4-0.2 0.4-0.3 0.4-0.4 0.4-0.2 0.4 0.2 0.4 0.4 0.4 0.3 0.4 0.2 0.4 0 0.4-0.1 0.4-0.2 0.4-0.3 0.4-0.1 0.4 0.1 0.4 0.3 0.4 0.2 0.4 0.1 0.4 0 0.4-0.1 0.4-0.2 0.4-0.2 0.4-0.2 0.4 0.2 0.4 0.2 0.4 0.2 0.4 0.1 0.4 0 0.4 0 0.4-0.2 0.4-0.1 0.4-0.1 0.4 0.1 0.4 0.1 0.4 0.2 0.4 0 0.4 0 0.4-0.1 0.4-0.3 0.4-0.3 0.4-0.1 0.4 0.1 0.4 0.3 0.4 0.2 0.4 0.2 0.4 0 0.4-0.2 0.4-0.3 0.4-0.3 0.4-0.1 0.4 0.1 0.4 0.3 0.4 0.3 0.4 0.2 0.4 0 0.4-0.1 0.4-0.2 0.4-0.2 0.4-0.1 0.4 0.1 0.4 0.2 0.4 0.2 0.4 0.1 0.4 0 0.4 0 0.4-0.2 0.4-0.1 0.4-0.1 0.4 0.1 0.4 0.1 0.4 0.2 0.4 0 0.4 0 0.4-0.1 0.4-0.2 0.4-0.2 0.4-0.1 0.4 0.1 0.4 0.2 0.4 0.2 0.4 0.1 0.4 0 0.4-0.2 0.4-0.3 0.4-0.4 0.4-0.2 0.4 0.2 0.4 0.4 0.4 0.3 0.4 0.1 0.4 0.1 0.4-0.2 0.4-0.3 0.4-0.3 0.4-0.1 0.4 0.1 0.4 0.3 0.4 0.3 0.4 0.2 0.4 0 0.4-0.1 0.4-0.1 0.4-0.2 0.4 0 0.4 0 0.4 0.2 0.4 0.2 0.4 0 0.4 0 0.4-0.1 0.4-0.1 0.4-0.2 0.4-0.1 0.4 0 0.4 0.2 0.4 0.2 0.4 0 0.4-0.1 0.4-0.4 0.4-0.8 0.4-0.8 0.4-0.4 0.4 0.4 0.4 0.8 0.4 0.8 0.4 0.4 0.4 0 0.4-0.3 0.4-0.6 0.4-0.6 0.4-0.3 0.4 0.3 0.4 0.6 0.4 0.6 0.4 0.2 0.4-0.1 0.4-0.7 0.4-1.3 0.4-1.4 0.4-0.7 0.4 0.6 0.4 1.5 0.4 1.3 0.4 0.6 0.4 0.1 0.4-0.5 0.4-0.9 0.4-1.1 0.4-0.5 0.4 0.5 0.4 1.1 0.4 0.9 0.4 0.4 0.4-0.1 0.4-1 0.4-1.7 0.4-2 0.4-0.9 0.4 0.9 0.4 2 0.4 1.7 0.4 0.9 0.4 0.1 0.4-0.6 0.4-1.2 0.4-1.5 0.4-0.6 0.4 0.6 0.4 1.5 0.4 1.2 0.4 0.6 0.4 0 0.4-0.8 0.4-1.6 0.4-1.7 0.4-0.8 0.4 0.8 0.4 1.7 0.4 1.6 0.4 0.8 0.4 0.1 0.4-0.6 0.4-1.1 0.4-1.3 0.4-0.6 0.4 0.6 0.4 1.3 0.4 1.2 0.4 0.6 0.4 0.1 0.4-0.2 0.4-0.6 0.4-0.6 0.4-0.3 0.4 0.3 0.4 0.7 0.4 0.6 0.4 0.3 0.4 0.1 0.4-0.1 0.4-0.1 0.4-0.1 0.4-0.1 0.4 0.1 0.4 0.1 0.4 0.2 0.4 0 0.4 0 0.4 0 0.4-0.2 0.4-0.2 0.4 0 0.4 0 0.4 0.2 0.4 0.2 0.4 0 0.4 0 0.4 0 0.4-0.2 0.4-0.1 0.4-0.1 0.4 0.1 0.4 0.1 0.4 0.2 0.4 0 0.4 0 0.4-0.2 0.4-0.3 0.4-0.3 0.4-0.2 0.4 0.2 0.4 0.3 0.4 0.3 0.4 0.2 0.4 0 0.4-0.1 0.4-0.1 0.4-0.2 0.4-0.1 0.4 0.1 0.4 0.2 0.4 0.1 0.4 0.1 0.4 0 0.4-0.1 0.4-0.3 0.4-0.2 0.4-0.2 0.4 0.2 0.4 0.2 0.4 0.3 0.4 0.1 0.4 0 0.4-0.1 0.4-0.2 0.4-0.3 0.4-0.1 0.4 0.1 0.4 0.3 0.4 0.2 0.4 0.1 0.4 0 0.4-0.1 0.4-0.1 0.4-0.2 0.4-0.1 0.4 0.1 0.4 0.2 0.4 0.1 0.4 0.1 0.4 0 0.4-0.2 0.4-0.2 0.4-0.4 0.4-0.1 0.4 0.1 0.4 0.4 0.4 0.2 0.4 0.2 0.4 0 0.4-0.1 0.4-0.1 0.4-0.2 0.4-0.1 0.4 0.1 0.4 0.2 0.4 0.1 0.4 0.1 0.4 0 0.4-0.1 0.4-0.3 0.4-0.3 0.4-0.1 0.4 0.1 0.4 0.3 0.4 0.3 0.4 0.1 0.4 0 0.4-0.1 0.4-0.1 0.4-0.2 0.4 0 0.4 0 0.4 0.2 0.4 0.2 0.4 0 0.4 0 0.4-0.1 0.4-0.2 0.4-0.3 0.4-0.1 0.4 0.1 0.4 0.3 0.4 0.2 0.4 0.1 0.4 0 0.4-0.1 0.4-0.1 0.4-0.2 0.4-0.1 0.4 0.1 0.4 0.2 0.4 0.1 0.4 0.1 0.4 0 0.4-0.1 0.4-0.2 0.4-0.2 0.4-0.1 0.4 0.1 0.4 0.2 0.4 0.2 0.4 0.1 0.4 0 0.4-0.2 0.4-0.3 0.4-0.4 0.4-0.2 0.4 0.2 0.4 0.4 0.4 0.3 0.4 0.1 0.4 0.1 0.4-0.2 0.4-0.3 0.4-0.3 0.4-0.2 0.4 0.2 0.4 0.3 0.4 0.3 0.4 0.2 0.4 0 0.4-0.1 0.4-0.2 0.4-0.2 0.4-0.1 0.4 0.1 0.4 0.2 0.4 0.2 0.4 0.1" fill="none" stroke="#1c1c1c" stroke-width="1.1" stroke-linejoin="round"/>
<path d="M47.0 217.7l0.4 0.1 0.4 0.2 0.4 0.2 0.4 0.1 0.4 0 0.4 0 0.4-0.1 0.4-0.1 0.4-0.1 0.4 0.1 0.4 0.1 0.4 0.1 0.4 0 0.4 0 0.4-0.1 0.4-0.3 0.4-0.2 0.4-0.1 0.4 0.1 0.4 0.2 0.4 0.3 0.4 0.1 0.4 0 0.4 0 0.4-0.1 0.4-0.2 0.4 0 0.4 0 0.4 0.2 0.4 0.1 0.4 0 0.4 0 0.4 0 0.4-0.1 0.4-0.2 0.4-0.1 0.4 0.1 0.4 0.2 0.4 0.1 0.4 0 0.4 0 0.4-0.1 0.4-0.2 0.4-0.2 0.4-0.1 0.4 0.1 0.4 0.2 0.4 0.2 0.4 0.1 0.4 0 0.4 0 0.4-0.2 0.4-0.1 0.4-0.1 0.4 0.1 0.4 0.1 0.4 0.2 0.4 0 0.4 0 0.4 0 0.4-0.2 0.4-0.1 0.4-0.1 0.4 0.1 0.4 0.1 0.4 0.2 0.4 0 0.4 0 0.4 0 0.4-0.1 0.4-0.1 0.4-0.1 0.4 0.1 0.4 0.1 0.4 0.1 0.4 0.1 0.4 0 0.4-0.1 0.4-0.1 0.4-0.1 0.4-0.1 0.4 0.1 0.4 0.1 0.4 0.1 0.4 0 0.4 0 0.4-0.1 0.4-0.1 0.4-0.2 0.4-0.1 0.4 0.1 0.4 0.2 0.4 0.1 0.4 0.1 0.4 0 0.4 0 0.4-0.1 0.4-0.2 0.4 0 0.4 0 0.4 0.2 0.4 0.1 0.4 0 0.4 0 0.4-0.1 0.4-0.1 0.4-0.2 0.4-0.1 0.4 0.1 0.4 0.2 0.4 0.1 0.4 0.1 0.4 0 0.4 0 0.4-0.2 0.4-0.1 0.4-0.1 0.4 0.1 0.4 0.1 0.4 0.2 0.4 0 0.4 0 0.4 0 0.4-0.2 0.4-0.2 0.4-0.1 0.4 0.1 0.4 0.2 0.4 0.1 0.4 0.1 0.4 0 0.4-0.1 0.4-0.2 0.4-0.3 0.4-0.1 0.4 0.1 0.4 0.3 0.4 0.2 0.4 0.1 0.4 0 0.4-0.2 0.4-0.2 0.4-0.4 0.4-0.1 0.4 0.1 0.4 0.4 0.4 0.2 0.4 0.2 0.4 0 0.4-0.1 0.4-0.2 0.4-0.2 0.4-0.1 0.4 0.1 0.4 0.2 0.4 0.2 0.4 0.1 0.4 0 0.4-0.1 0.4-0.2 0.4-0.2 0.4-0.1 0.4 0.1 0.4 0.2 0.4 0.2 0.4 0.1 0.4 0 0.4-0.1 0.4-0.1 0.4-0.2 0.4-0.1 0.4 0.1 0.4 0.2 0.4 0.1 0.4 0.1 0.4 0 0.4-0.1 0.4-0.1 0.4-0.2 0.4-0.1 0.4 0.1 0.4 0.2 0.4 0.1 0.4 0.1 0.4 0 0.4-0.1 0.4-0.2 0.4-0.3 0.4-0.1 0.4 0.1 0.4 0.3 0.4 0.2 0.4 0.1 0.4 0 0.4 0 0.4-0.1 0.4-0.2 0.4 0 0.4 0 0.4 0.2 0.4 0.1 0.4 0 0.4 0 0.4 0 0.4-0.1 0.4-0.1 0.4-0.1 0.4 0.1 0.4 0.1 0.4 0.1 0.4 0 0.4 0 0.4-0.1 0.4-0.2 0.4-0.3 0.4-0.1 0.4 0.1 0.4 0.3 0.4 0.2 0.4 0.1 0.4 0 0.4-0.1 0.4-0.2 0.4-0.2 0.4-0.1 0.4 0.1 0.4 0.2 0.4 0.2 0.4 0.1 0.4 0 0.4 0 0.4-0.1 0.4-0.2 0.4 0 0.4 0 0.4 0.2 0.4 0.1 0.4 0 0.4 0 0.4 0 0.4-0.1 0.4-0.2 0.4 0 0.4 0 0.4 0.2 0.4 0.1 0.4 0 0.4 0 0.4-0.1 0.4-0.2 0.4-0.2 0.4-0.1 0.4 0.1 0.4 0.2 0.4 0.2 0.4 0.1 0.4 0 0.4-0.1 0.4-0.2 0.4-0.3 0.4-0.1 0.4 0.1 0.4 0.3 0.4 0.2 0.4 0.1 0.4 0 0.4 0 0.4-0.1 0.4-0.2 0.4 0 0.4 0 0.4 0.2 0.4 0.1 0.4 0 0.4 0 0.4-0.1 0.4-0.2 0.4-0.3 0.4-0.1 0.4 0.1 0.4 0.3 0.4 0.2 0.4 0.1 0.4 0 0.4-0.1 0.4-0.2 0.4-0.3 0.4-0.1 0.4 0.1 0.4 0.3 0.4 0.2 0.4 0.1 0.4 0 0.4-0.1 0.4-0.1 0.4-0.2 0.4-0.1 0.4 0.1 0.4 0.2 0.4 0.1 0.4 0.1 0.4 0 0.4 0 0.4-0.2 0.4-0.2 0.4 0 0.4 0 0.4 0.2 0.4 0.2 0.4 0 0.4 0 0.4 0 0.4-0.1 0.4-0.1 0.4-0.1 0.4 0.1 0.4 0.1 0.4 0.1 0.4 0.1 0.4 0 0.4-0.1 0.4-0.1 0.4-0.1 0.4 0 0.4 0 0.4 0.1 0.4 0.1 0.4 0 0.4 0 0.4-0.1 0.4-0.2 0.4-0.3 0.4-0.1 0.4 0.1 0.4 0.3 0.4 0.2 0.4 0.1 0.4 0 0.4 0 0.4-0.1 0.4-0.2 0.4 0 0.4 0 0.4 0.2 0.4 0.1 0.4 0 0.4 0 0.4-0.1 0.4-0.2 0.4-0.2 0.4-0.1 0.4 0.1 0.4 0.2 0.4 0.2 0.4 0.1 0.4 0 0.4 0 0.4-0.1 0.4-0.2 0.4-0.1 0.4 0.1 0.4 0.2 0.4 0.1 0.4 0 0.4 0 0.4-0.1 0.4-0.2 0.4-0.2 0.4-0.2 0.4 0.2 0.4 0.2 0.4 0.2 0.4 0.1 0.4 0 0.4-0.1 0.4-0.1 0.4-0.2 0.4-0.1 0.4 0.1 0.4 0.1 0.4 0.2 0.4 0.1 0.4-0.1 0.4-0.2 0.4-0.4 0.4-0.5 0.4-0.2 0.4 0.2 0.4 0.5 0.4 0.4 0.4 0.2 0.4 0 0.4-0.1 0.4-0.3 0.4-0.3 0.4-0.1 0.4 0.1 0.4 0.3 0.4 0.2 0.4 0.1 0.4-0.3 0.4-0.9 0.4-1.6 0.4-1.9 0.4-0.8 0.4 0.8 0.4 1.8 0.4 1.7 0.4 0.8 0.4 0.1 0.4-0.4 0.4-1 0.4-1.2 0.4-0.5 0.4 0.5 0.4 1.2 0.4 1 0.4 0.4 0.4-0.1 0.4-0.8 0.4-1.7 0.4-1.8 0.4-0.8 0.4 0.8 0.4 1.8 0.4 1.7 0.4 0.8 0.4 0.1 0.4-0.4 0.4-1 0.4-1.2 0.4-0.5 0.4 0.5 0.4 1.2 0.4 1 0.4 0.6 0.4 0.1 0.4-0.1 0.4-0.3 0.4-0.4 0.4-0.2 0.4 0.2 0.4 0.4 0.4 0.4 0.4 0.2 0.4 0 0.4 0 0.4-0.2 0.4-0.1 0.4-0.1 0.4 0.1 0.4 0.1 0.4 0.2 0.4 0 0.4 0 0.4 0 0.4-0.1 0.4-0.2 0.4 0 0.4 0 0.4 0.2 0.4 0.1 0.4 0 0.4 0 0.4-0.1 0.4-0.2 0.4-0.2 0.4-0.1 0.4 0.1 0.4 0.2 0.4 0.2 0.4 0.1 0.4 0 0.4 0 0.4-0.1 0.4-0.1 0.4-0.1 0.4 0.1 0.4 0.1 0.4 0.1 0.4 0 0.4 0 0.4 0 0.4-0.1 0.4-0.2 0.4 0 0.4 0 0.4 0.2 0.4 0.1 0.4 0 0.4 0 0.4-0.1 0.4-0.1 0.4-0.2 0.4-0.1 0.4 0.1 0.4 0.2 0.4 0.1 0.4 0.1 0.4 0 0.4-0.1 0.4-0.2 0.4-0.3 0.4-0.1 0.4 0.1 0.4 0.3 0.4 0.2 0.4 0.1 0.4 0 0.4-0.1 0.4-0.2 0.4-0.1 0.4-0.1 0.4 0.1 0.4 0.2 0.4 0.1 0.4 0.1 0.4 0 0.4 0 0.4-0.2 0.4-0.1 0.4-0.1 0.4 0.1 0.4 0.1 0.4 0.2 0.4 0 0.4 0 0.4-0.1 0.4-0.2 0.4-0.2 0.4-0.1 0.4 0.1 0.4 0.2 0.4 0.2 0.4 0.1 0.4 0 0.4-0.1 0.4-0.2 0.4-0.2 0.4-0.1 0.4 0.1 0.4 0.2 0.4 0.2 0.4 0.1 0.4 0 0.4-0.1 0.4-0.2 0.4-0.2 0.4-0.1 0.4 0.1 0.4 0.2 0.4 0.2 0.4 0.1 0.4 0 0.4 0 0.4-0.2 0.4-0.1 0.4-0.1 0.4 0.1 0.4 0.1 0.4 0.2 0.4 0 0.4 0 0.4-0.1 0.4-0.2 0.4-0.3 0.4-0.1 0.4 0.1 0.4 0.3 0.4 0.2 0.4 0.1 0.4 0 0.4 0 0.4-0.1 0.4-0.2 0.4 0 0.4 0 0.4 0.2 0.4 0.1 0.4 0 0.4 0.1 0.4-0.1 0.4-0.1 0.4-0.1 0.4 0 0.4 0 0.4 0.1 0.4 0.1 0.4 0 0.4 0 0.4-0.2 0.4-0.4 0.4-0.4 0.4-0.2 0.4 0.2 0.4 0.4 0.4 0.3 0.4 0.2 0.4 0 0.4-0.2 0.4-0.3 0.4-0.4 0.4-0.2 0.4 0.2 0.4 0.4 0.4 0.4 0.4 0.2 0.4 0 0.4 0 0.4-0.2 0.4-0.1 0.4-0.1 0.4 0.1 0.4 0.1 0.4 0.1 0.4 0 0.4-0.2 0.4-0.6 0.4-1.2 0.4-1.2 0.4-0.6 0.4 0.6 0.4 1.2 0.4 1.1 0.4 0.6 0.4 0 0.4-0.4 0.4-0.9 0.4-1 0.4-0.5 0.4 0.4 0.4 0.9 0.4 0.7 0.4 0 0.4-1.2 0.4-3.6 0.4-6.4 0.4-7.3 0.4-3.4 0.4 3.3 0.4 7.2 0.4 6.3 0.4 3.2 0.4 0.3 0.4-2.4 0.4-5.1 0.4-5.7 0.4-2.7 0.4 2.6 0.4 5.7 0.4 5 0.4 2.2 0.4-0.9 0.4-4.7 0.4-9 0.4-10.1 0.4-4.7 0.4 4.6 0.4 10.2 0.4 9 0.4 4.6 0.4 0.7 0.4-2.6 0.4-5.8 0.4-6.6 0.4-3 0.4 3.1 0.4 6.6 0.4 5.8 0.4 2.8 0.4-0.3 0.4-3.5 0.4-7 0.4-8 0.4-3.6 0.4 3.7 0.4 8 0.4 7 0.4 3.7 0.4 0.6 0.4-1.9 0.4-4.2 0.4-4.8 0.4-2.2 0.4 2.3 0.4 4.9 0.4 4.4 0.4 2.3 0.4 0.7 0.4-0.6 0.4-1.5 0.4-1.7 0.4-0.7 0.4 0.8 0.4 1.8 0.4 1.6 0.4 0.9 0.4 0.3 0.4-0.1 0.4-0.3 0.4-0.4 0.4-0.1 0.4 0.2 0.4 0.3 0.4 0.4 0.4 0.2 0.4 0 0.4-0.1 0.4-0.1 0.4-0.2 0.4-0.1 0.4 0.1 0.4 0.2 0.4 0.2 0.4 0 0.4 0 0.4 0 0.4-0.1 0.4-0.1 0.4 0 0.4 0 0.4 0.1 0.4 0.1 0.4 0.1 0.4-0.1 0.4 0 0.4-0.1 0.4-0.2 0.4 0 0.4 0 0.4 0.2 0.4 0.1 0.4 0 0.4 0 0.4 0 0.4-0.2 0.4-0.1 0.4-0.1 0.4 0.1 0.4 0.1 0.4 0.2 0.4 0 0.4 0 0.4-0.1 0.4-0.1 0.4-0.2 0.4-0.1 0.4 0.1 0.4 0.2 0.4 0.1 0.4 0.1 0.4 0 0.4 0 0.4-0.1 0.4-0.1 0.4-0.1 0.4 0.1 0.4 0.1 0.4 0 0.4 0 0.4-0.2 0.4-0.6 0.4-1.1 0.4-1.2 0.4-0.6 0.4 0.6 0.4 1.2 0.4 1.1 0.4 0.5 0.4 0.1 0.4-0.3 0.4-0.6 0.4-0.8 0.4-0.3 0.4 0.3 0.4 0.8 0.4 0.6 0.4 0.3 0.4-0.2 0.4-0.7 0.4-1.4 0.4-1.5 0.4-0.7 0.4 0.7 0.4 1.5 0.4 1.4 0.4 0.7 0.4 0.1 0.4-0.4 0.4-0.9 0.4-1 0.4-0.4 0.4 0.4 0.4 1.1 0.4 0.8 0.4 0.5 0.4 0 0.4-0.3 0.4-0.6 0.4-0.8 0.4-0.3 0.4 0.3 0.4 0.8 0.4 0.7 0.4 0.3 0.4 0.2 0.4-0.1 0.4-0.1 0.4-0.1 0.4-0.1 0.4 0.1 0.4 0.1 0.4 0.2 0.4 0 0.4 0 0.4 0 0.4-0.2 0.4-0.1 0.4-0.1 0.4 0.1 0.4 0.1 0.4 0.2 0.4 0 0.4 0 0.4-0.1 0.4-0.2 0.4-0.3 0.4-0.1 0.4 0.1 0.4 0.2 0.4 0.2 0.4 0.1 0.4-0.2 0.4-0.6 0.4-1.1 0.4-1.2 0.4-0.6 0.4 0.5 0.4 1.3 0.4 1.1 0.4 0.5 0.4 0 0.4-0.4 0.4-0.9 0.4-1.1 0.4-0.4 0.4 0.4 0.4 1.1 0.4 0.8 0.4 0.4 0.4-0.3 0.4-1.1 0.4-2.2 0.4-2.4 0.4-1.1 0.4 1.1 0.4 2.4 0.4 2.1 0.4 1.1 0.4 0.2 0.4-0.7 0.4-1.5 0.4-1.6 0.4-0.8 0.4 0.7 0.4 1.5 0.4 1.3 0.4 0.3 0.4-1.3 0.4-4.1 0.4-7.3 0.4-8.4 0.4-3.8 0.4 3.7 0.4 8.2 0.4 7.3 0.4 3.6 0.4 0.3 0.4-2.9 0.4-5.9 0.4-6.8 0.4-3.2 0.4 2.9 0.4 6.5 0.4 5.4 0.4 1.7 0.4-3.8 0.4-12.5 0.4-23.2 0.4-26.1 0.4-11.9 0.4 11.7 0.4 25.9 0.4 22.7 0.4 11.6 0.4 1.1 0.4-8.5 0.4-17.7 0.4-20.3 0.4-9.2 0.4 9.3 0.4 20.4 0.4 17.8 0.4 8.9 0.4 0 0.4-8.7 0.4-17.6 0.4-20.1 0.4-9.2 0.4 9.3 0.4 20.3 0.4 17.8 0.4 9.3 0.4 1.6 0.4-4.8 0.4-10.5 0.4-12.1 0.4-5.4 0.4 5.7 0.4 12.3 0.4 11 0.4 5.8 0.4 1.3 0.4-1.9 0.4-4.6 0.4-5.4 0.4-2.4 0.4 2.6 0.4 5.5 0.4 5 0.4 2.6 0.4 0.8 0.4-0.4 0.4-1.4 0.4-1.5 0.4-0.8 0.4 0.8 0.4 1.7 0.4 1.5 0.4 0.8 0.4 0.3 0.4-0.1 0.4-0.3 0.4-0.4 0.4-0.1 0.4 0.2 0.4 0.3 0.4 0.4 0.4 0.2 0.4 0 0.4-0.1 0.4-0.3 0.4-0.2 0.4-0.1 0.4 0.1 0.4 0.2 0.4 0.3 0.4 0.1 0.4 0 0.4-0.1 0.4-0.2 0.4-0.2 0.4-0.1 0.4 0.1 0.4 0.2 0.4 0.2 0.4 0.1 0.4 0 0.4-0.1 0.4-0.2 0.4-0.2 0.4-0.1 0.4 0.1 0.4 0.2 0.4 0.2 0.4 0.1 0.4 0 0.4-0.1 0.4-0.2 0.4-0.2 0.4-0.1 0.4 0.1 0.4 0.2 0.4 0.2 0.4 0.1 0.4 0 0.4-0.1 0.4-0.1 0.4-0.2 0.4-0.1 0.4 0.1 0.4 0.1 0.4 0.2 0.4 0 0.4-0.1 0.4-0.5 0.4-0.8 0.4-1 0.4-0.4 0.4 0.4 0.4 1 0.4 0.8 0.4 0.4 0.4 0.1 0.4-0.4 0.4-0.6 0.4-0.8 0.4-0.3 0.4 0.3 0.4 0.7 0.4 0.6 0.4 0.2 0.4-0.4 0.4-1.4 0.4-2.6 0.4-2.9 0.4-1.3 0.4 1.3 0.4 2.9 0.4 2.5 0.4 1.3 0.4 0.1 0.4-1 0.4-2.1 0.4-2.4 0.4-1.1 0.4 1.1 0.4 2.4 0.4 2.1 0.4 1.1 0.4 0.1 0.4-0.9 0.4-1.7 0.4-2 0.4-0.9 0.4 0.9 0.4 2 0.4 1.8 0.4 1 0.4 0.2 0.4-0.4 0.4-0.8 0.4-0.9 0.4-0.4 0.4 0.4 0.4 1 0.4 0.8 0.4 0.5 0.4 0 0.4-0.1 0.4-0.4 0.4-0.5 0.4-0.2 0.4 0.2 0.4 0.5 0.4 0.4 0.4 0.2 0.4 0 0.4-0.1 0.4-0.3 0.4-0.4 0.4-0.1 0.4 0.1 0.4 0.4 0.4 0.3 0.4 0 0.4-0.1 0.4-0.6 0.4-1.1 0.4-1.2 0.4-0.6 0.4 0.5 0.4 1.3 0.4 1 0.4 0.6 0.4 0 0.4-0.5 0.4-0.9 0.4-1 0.4-0.6 0.4 0.5 0.4 1 0.4 0.8 0.4 0.2 0.4-0.8 0.4-2.4 0.4-4.4 0.4-5 0.4-2.3 0.4 2.2 0.4 5 0.4 4.3 0.4 2.2 0.4 0.2 0.4-1.6 0.4-3.4 0.4-3.8 0.4-1.8 0.4 1.7 0.4 3.9 0.4 3.3 0.4 1.5 0.4-0.7 0.4-3.2 0.4-6.2 0.4-7.1 0.4-3.2 0.4 3.2 0.4 7 0.4 6.2 0.4 3.2 0.4 0.3 0.4-2 0.4-4.4 0.4-5.1 0.4-2.3 0.4 2.2 0.4 4.8 0.4 4.2 0.4 1.4 0.4-2.3 0.4-7.8 0.4-14.7 0.4-16.6 0.4-7.6 0.4 7.5 0.4 16.4 0.4 14.4 0.4 7.3 0.4 0.6 0.4-5.6 0.4-11.5 0.4-13.3 0.4-6.1 0.4 5.9 0.4 13.1 0.4 11.2 0.4 4.8 0.4-2.9 0.4-13.2 0.4-24.9 0.4-28.1 0.4-12.9 0.4 12.8 0.4 28 0.4 24.7 0.4 12.7 0.4 1.5 0.4-8.5 0.4-17.7 0.4-20.4 0.4-9.2 0.4 9.5 0.4 20.7 0.4 18.3 0.4 9.6 0.4 2.2 0.4-3.6 0.4-8.2 0.4-9.6 0.4-4.3 0.4 4.6 0.4 9.9 0.4 8.7 0.4 4.7 0.4 1.2 0.4-1.2 0.4-3 0.4-3.6 0.4-1.6 0.4 1.8 0.4 3.7 0.4 3.3 0.4 1.9 0.4 0.6 0.4-0.1 0.4-0.4 0.4-0.6 0.4-0.2 0.4 0.3 0.4 0.6 0.4 0.6 0.4 0.3 0.4 0.1 0.4 0 0.4-0.1 0.4-0.1 0.4-0.1 0.4 0.1 0.4 0.1 0.4 0.1 0.4 0 0.4 0.1 0.4-0.1 0.4-0.1 0.4-0.1 0.4 0 0.4 0 0.4 0.1 0.4 0.1 0.4 0.1 0.4 0 0.4-0.1 0.4-0.1 0.4-0.1 0.4 0 0.4 0 0.4 0.1 0.4 0.1 0.4 0 0.4 0 0.4-0.1 0.4-0.2 0.4-0.3 0.4-0.1 0.4 0.1 0.4 0.3 0.4 0.2 0.4 0.1 0.4 0 0.4-0.1 0.4-0.2 0.4-0.2 0.4-0.1 0.4 0.1 0.4 0.2 0.4 0.2 0.4 0.1 0.4 0 0.4-0.2 0.4-0.2 0.4-0.4 0.4-0.1 0.4 0.1 0.4 0.4 0.4 0.2 0.4 0.2 0.4 0 0.4-0.2 0.4-0.2 0.4-0.4 0.4-0.1 0.4 0.1 0.4 0.3 0.4 0.3 0.4 0.1 0.4 0 0.4-0.4 0.4-0.5 0.4-0.7 0.4-0.3 0.4 0.3 0.4 0.7 0.4 0.5 0.4 0.3 0.4 0.1 0.4-0.2 0.4-0.4 0.4-0.5 0.4-0.2 0.4 0.2 0.4 0.5 0.4 0.4 0.4 0.1 0.4-0.1 0.4-0.4 0.4-0.9 0.4-1 0.4-0.4 0.4 0.4 0.4 1 0.4 0.9 0.4 0.4 0.4 0.1 0.4-0.1 0.4-0.4 0.4-0.5 0.4-0.2 0.4 0.2 0.4 0.5 0.4 0.4 0.4 0.2 0.4 0 0.4-0.1 0.4-0.3 0.4-0.3 0.4-0.1 0.4 0.1 0.4 0.4 0.4 0.2 0.4 0.2 0.4 0 0.4-0.1 0.4-0.3 0.4-0.2 0.4-0.1 0.4 0.1 0.4 0.2 0.4 0.2 0.4 0.1 0.4-0.1 0.4-0.4 0.4-0.7 0.4-0.7 0.4-0.4 0.4 0.4 0.4 0.7 0.4 0.7 0.4 0.4 0.4 0.1 0.4-0.2 0.4-0.4 0.4-0.5 0.4-0.2 0.4 0.2 0.4 0.4 0.4 0.4 0.4 0 0.4-0.4 0.4-1.3 0.4-2.4 0.4-2.7 0.4-1.2 0.4 1.2 0.4 2.7 0.4 2.3 0.4 1.2 0.4 0 0.4-1 0.4-2.1 0.4-2.4 0.4-1.1 0.4 1.1 0.4 2.3 0.4 2 0.4 0.8 0.4-0.6 0.4-2.6 0.4-4.9 0.4-5.5 0.4-2.6 0.4 2.5 0.4 5.5 0.4 4.8 0.4 2.5 0.4 0.1 0.4-1.9 0.4-4 0.4-4.6 0.4-2.1 0.4 2.1 0.4 4.6 0.4 4 0.4 2 0.4-0.1 0.4-2.2 0.4-4.4 0.4-5 0.4-2.3 0.4 2.3 0.4 5.1 0.4 4.4 0.4 2.3 0.4 0.4 0.4-1.3 0.4-2.9 0.4-3.3 0.4-1.5 0.4 1.6 0.4 3.3 0.4 2.9 0.4 1.6 0.4 0.1 0.4-1 0.4-2.1 0.4-2.4 0.4-1.1 0.4 1.1 0.4 2.5 0.4 2.2 0.4 1.1 0.4 0.3 0.4-0.4 0.4-0.9 0.4-1.1 0.4-0.4 0.4 0.5 0.4 1 0.4 1 0.4 0.5 0.4 0 0.4-0.3 0.4-0.7 0.4-0.8 0.4-0.3 0.4 0.4 0.4 0.7 0.4 0.7 0.4 0.4 0.4 0.1 0.4-0.1 0.4-0.3 0.4-0.3 0.4-0.1 0.4 0.1 0.4 0.4 0.4 0.2 0.4 0.2 0.4 0 0.4 0 0.4-0.1 0.4-0.1 0.4 0 0.4 0 0.4 0.1 0.4 0.1 0.4 0 0.4 0 0.4-0.1 0.4-0.2 0.4-0.2 0.4-0.1 0.4 0.1 0.4 0.2 0.4 0.2 0.4 0.1 0.4 0 0.4-0.1 0.4-0.1 0.4-0.2 0.4-0.1 0.4 0.1 0.4 0.2 0.4 0.1 0.4 0.1 0.4 0 0.4-0.1 0.4-0.2 0.4-0.2 0.4-0.1 0.4 0.1 0.4 0.2 0.4 0.2 0.4 0.1 0.4 0 0.4 0 0.4-0.2 0.4-0.1 0.4-0.1 0.4 0.1 0.4 0.1 0.4 0.2 0.4 0 0.4 0 0.4-0.1 0.4-0.3 0.4-0.2 0.4-0.1 0.4 0.1 0.4 0.2 0.4 0.3 0.4 0.1 0.4 0 0.4 0 0.4-0.1 0.4-0.1 0.4-0.1 0.4 0.1 0.4 0.1 0.4 0.1 0.4 0 0.4 0 0.4-0.1 0.4-0.1 0.4-0.2 0.4-0.1 0.4 0.1 0.4 0.2 0.4 0.1 0.4 0.1 0.4 0 0.4-0.1 0.4-0.2 0.4-0.2 0.4-0.1 0.4 0.1 0.4 0.2 0.4 0.2 0.4 0.1 0.4 0 0.4-0.1 0.4-0.2 0.4-0.3 0.4-0.1 0.4 0.1 0.4 0.3 0.4 0.2 0.4 0.1 0.4 0 0.4-0.1 0.4-0.2 0.4-0.2 0.4-0.1 0.4 0.1 0.4 0.2 0.4 0.2 0.4 0.1 0.4 0 0.4-0.1 0.4-0.2 0.4-0.2 0.4-0.1 0.4 0.1 0.4 0.2 0.4 0.2 0.4 0.1 0.4 0 0.4-0.1 0.4-0.2 0.4-0.2 0.4-0.1 0.4 0.1 0.4 0.2 0.4 0.2 0.4 0.1 0.4 0 0.4-0.1 0.4-0.2 0.4-0.3 0.4-0.1 0.4 0.1 0.4 0.3 0.4 0.2 0.4 0.1 0.4 0 0.4 0 0.4-0.2 0.4-0.1 0.4-0.1 0.4 0.1 0.4 0.1 0.4 0.2 0.4 0L664.2 218.6L47.0 218.6Z" fill="#e8e8e8"/>
<path d="M47.0 217.7l0.4 0.1 0.4 0.2 0.4 0.2 0.4 0.1 0.4 0 0.4 0 0.4-0.1 0.4-0.1 0.4-0.1 0.4 0.1 0.4 0.1 0.4 0.1 0.4 0 0.4 0 0.4-0.1 0.4-0.3 0.4-0.2 0.4-0.1 0.4 0.1 0.4 0.2 0.4 0.3 0.4 0.1 0.4 0 0.4 0 0.4-0.1 0.4-0.2 0.4 0 0.4 0 0.4 0.2 0.4 0.1 0.4 0 0.4 0 0.4 0 0.4-0.1 0.4-0.2 0.4-0.1 0.4 0.1 0.4 0.2 0.4 0.1 0.4 0 0.4 0 0.4-0.1 0.4-0.2 0.4-0.2 0.4-0.1 0.4 0.1 0.4 0.2 0.4 0.2 0.4 0.1 0.4 0 0.4 0 0.4-0.2 0.4-0.1 0.4-0.1 0.4 0.1 0.4 0.1 0.4 0.2 0.4 0 0.4 0 0.4 0 0.4-0.2 0.4-0.1 0.4-0.1 0.4 0.1 0.4 0.1 0.4 0.2 0.4 0 0.4 0 0.4 0 0.4-0.1 0.4-0.1 0.4-0.1 0.4 0.1 0.4 0.1 0.4 0.1 0.4 0.1 0.4 0 0.4-0.1 0.4-0.1 0.4-0.1 0.4-0.1 0.4 0.1 0.4 0.1 0.4 0.1 0.4 0 0.4 0 0.4-0.1 0.4-0.1 0.4-0.2 0.4-0.1 0.4 0.1 0.4 0.2 0.4 0.1 0.4 0.1 0.4 0 0.4 0 0.4-0.1 0.4-0.2 0.4 0 0.4 0 0.4 0.2 0.4 0.1 0.4 0 0.4 0 0.4-0.1 0.4-0.1 0.4-0.2 0.4-0.1 0.4 0.1 0.4 0.2 0.4 0.1 0.4 0.1 0.4 0 0.4 0 0.4-0.2 0.4-0.1 0.4-0.1 0.4 0.1 0.4 0.1 0.4 0.2 0.4 0 0.4 0 0.4 0 0.4-0.2 0.4-0.2 0.4-0.1 0.4 0.1 0.4 0.2 0.4 0.1 0.4 0.1 0.4 0 0.4-0.1 0.4-0.2 0.4-0.3 0.4-0.1 0.4 0.1 0.4 0.3 0.4 0.2 0.4 0.1 0.4 0 0.4-0.2 0.4-0.2 0.4-0.4 0.4-0.1 0.4 0.1 0.4 0.4 0.4 0.2 0.4 0.2 0.4 0 0.4-0.1 0.4-0.2 0.4-0.2 0.4-0.1 0.4 0.1 0.4 0.2 0.4 0.2 0.4 0.1 0.4 0 0.4-0.1 0.4-0.2 0.4-0.2 0.4-0.1 0.4 0.1 0.4 0.2 0.4 0.2 0.4 0.1 0.4 0 0.4-0.1 0.4-0.1 0.4-0.2 0.4-0.1 0.4 0.1 0.4 0.2 0.4 0.1 0.4 0.1 0.4 0 0.4-0.1 0.4-0.1 0.4-0.2 0.4-0.1 0.4 0.1 0.4 0.2 0.4 0.1 0.4 0.1 0.4 0 0.4-0.1 0.4-0.2 0.4-0.3 0.4-0.1 0.4 0.1 0.4 0.3 0.4 0.2 0.4 0.1 0.4 0 0.4 0 0.4-0.1 0.4-0.2 0.4 0 0.4 0 0.4 0.2 0.4 0.1 0.4 0 0.4 0 0.4 0 0.4-0.1 0.4-0.1 0.4-0.1 0.4 0.1 0.4 0.1 0.4 0.1 0.4 0 0.4 0 0.4-0.1 0.4-0.2 0.4-0.3 0.4-0.1 0.4 0.1 0.4 0.3 0.4 0.2 0.4 0.1 0.4 0 0.4-0.1 0.4-0.2 0.4-0.2 0.4-0.1 0.4 0.1 0.4 0.2 0.4 0.2 0.4 0.1 0.4 0 0.4 0 0.4-0.1 0.4-0.2 0.4 0 0.4 0 0.4 0.2 0.4 0.1 0.4 0 0.4 0 0.4 0 0.4-0.1 0.4-0.2 0.4 0 0.4 0 0.4 0.2 0.4 0.1 0.4 0 0.4 0 0.4-0.1 0.4-0.2 0.4-0.2 0.4-0.1 0.4 0.1 0.4 0.2 0.4 0.2 0.4 0.1 0.4 0 0.4-0.1 0.4-0.2 0.4-0.3 0.4-0.1 0.4 0.1 0.4 0.3 0.4 0.2 0.4 0.1 0.4 0 0.4 0 0.4-0.1 0.4-0.2 0.4 0 0.4 0 0.4 0.2 0.4 0.1 0.4 0 0.4 0 0.4-0.1 0.4-0.2 0.4-0.3 0.4-0.1 0.4 0.1 0.4 0.3 0.4 0.2 0.4 0.1 0.4 0 0.4-0.1 0.4-0.2 0.4-0.3 0.4-0.1 0.4 0.1 0.4 0.3 0.4 0.2 0.4 0.1 0.4 0 0.4-0.1 0.4-0.1 0.4-0.2 0.4-0.1 0.4 0.1 0.4 0.2 0.4 0.1 0.4 0.1 0.4 0 0.4 0 0.4-0.2 0.4-0.2 0.4 0 0.4 0 0.4 0.2 0.4 0.2 0.4 0 0.4 0 0.4 0 0.4-0.1 0.4-0.1 0.4-0.1 0.4 0.1 0.4 0.1 0.4 0.1 0.4 0.1 0.4 0 0.4-0.1 0.4-0.1 0.4-0.1 0.4 0 0.4 0 0.4 0.1 0.4 0.1 0.4 0 0.4 0 0.4-0.1 0.4-0.2 0.4-0.3 0.4-0.1 0.4 0.1 0.4 0.3 0.4 0.2 0.4 0.1 0.4 0 0.4 0 0.4-0.1 0.4-0.2 0.4 0 0.4 0 0.4 0.2 0.4 0.1 0.4 0 0.4 0 0.4-0.1 0.4-0.2 0.4-0.2 0.4-0.1 0.4 0.1 0.4 0.2 0.4 0.2 0.4 0.1 0.4 0 0.4 0 0.4-0.1 0.4-0.2 0.4-0.1 0.4 0.1 0.4 0.2 0.4 0.1 0.4 0 0.4 0 0.4-0.1 0.4-0.2 0.4-0.2 0.4-0.2 0.4 0.2 0.4 0.2 0.4 0.2 0.4 0.1 0.4 0 0.4-0.1 0.4-0.1 0.4-0.2 0.4-0.1 0.4 0.1 0.4 0.1 0.4 0.2 0.4 0.1 0.4-0.1 0.4-0.2 0.4-0.4 0.4-0.5 0.4-0.2 0.4 0.2 0.4 0.5 0.4 0.4 0.4 0.2 0.4 0 0.4-0.1 0.4-0.3 0.4-0.3 0.4-0.1 0.4 0.1 0.4 0.3 0.4 0.2 0.4 0.1 0.4-0.3 0.4-0.9 0.4-1.6 0.4-1.9 0.4-0.8 0.4 0.8 0.4 1.8 0.4 1.7 0.4 0.8 0.4 0.1 0.4-0.4 0.4-1 0.4-1.2 0.4-0.5 0.4 0.5 0.4 1.2 0.4 1 0.4 0.4 0.4-0.1 0.4-0.8 0.4-1.7 0.4-1.8 0.4-0.8 0.4 0.8 0.4 1.8 0.4 1.7 0.4 0.8 0.4 0.1 0.4-0.4 0.4-1 0.4-1.2 0.4-0.5 0.4 0.5 0.4 1.2 0.4 1 0.4 0.6 0.4 0.1 0.4-0.1 0.4-0.3 0.4-0.4 0.4-0.2 0.4 0.2 0.4 0.4 0.4 0.4 0.4 0.2 0.4 0 0.4 0 0.4-0.2 0.4-0.1 0.4-0.1 0.4 0.1 0.4 0.1 0.4 0.2 0.4 0 0.4 0 0.4 0 0.4-0.1 0.4-0.2 0.4 0 0.4 0 0.4 0.2 0.4 0.1 0.4 0 0.4 0 0.4-0.1 0.4-0.2 0.4-0.2 0.4-0.1 0.4 0.1 0.4 0.2 0.4 0.2 0.4 0.1 0.4 0 0.4 0 0.4-0.1 0.4-0.1 0.4-0.1 0.4 0.1 0.4 0.1 0.4 0.1 0.4 0 0.4 0 0.4 0 0.4-0.1 0.4-0.2 0.4 0 0.4 0 0.4 0.2 0.4 0.1 0.4 0 0.4 0 0.4-0.1 0.4-0.1 0.4-0.2 0.4-0.1 0.4 0.1 0.4 0.2 0.4 0.1 0.4 0.1 0.4 0 0.4-0.1 0.4-0.2 0.4-0.3 0.4-0.1 0.4 0.1 0.4 0.3 0.4 0.2 0.4 0.1 0.4 0 0.4-0.1 0.4-0.2 0.4-0.1 0.4-0.1 0.4 0.1 0.4 0.2 0.4 0.1 0.4 0.1 0.4 0 0.4 0 0.4-0.2 0.4-0.1 0.4-0.1 0.4 0.1 0.4 0.1 0.4 0.2 0.4 0 0.4 0 0.4-0.1 0.4-0.2 0.4-0.2 0.4-0.1 0.4 0.1 0.4 0.2 0.4 0.2 0.4 0.1 0.4 0 0.4-0.1 0.4-0.2 0.4-0.2 0.4-0.1 0.4 0.1 0.4 0.2 0.4 0.2 0.4 0.1 0.4 0 0.4-0.1 0.4-0.2 0.4-0.2 0.4-0.1 0.4 0.1 0.4 0.2 0.4 0.2 0.4 0.1 0.4 0 0.4 0 0.4-0.2 0.4-0.1 0.4-0.1 0.4 0.1 0.4 0.1 0.4 0.2 0.4 0 0.4 0 0.4-0.1 0.4-0.2 0.4-0.3 0.4-0.1 0.4 0.1 0.4 0.3 0.4 0.2 0.4 0.1 0.4 0 0.4 0 0.4-0.1 0.4-0.2 0.4 0 0.4 0 0.4 0.2 0.4 0.1 0.4 0 0.4 0.1 0.4-0.1 0.4-0.1 0.4-0.1 0.4 0 0.4 0 0.4 0.1 0.4 0.1 0.4 0 0.4 0 0.4-0.2 0.4-0.4 0.4-0.4 0.4-0.2 0.4 0.2 0.4 0.4 0.4 0.3 0.4 0.2 0.4 0 0.4-0.2 0.4-0.3 0.4-0.4 0.4-0.2 0.4 0.2 0.4 0.4 0.4 0.4 0.4 0.2 0.4 0 0.4 0 0.4-0.2 0.4-0.1 0.4-0.1 0.4 0.1 0.4 0.1 0.4 0.1 0.4 0 0.4-0.2 0.4-0.6 0.4-1.2 0.4-1.2 0.4-0.6 0.4 0.6 0.4 1.2 0.4 1.1 0.4 0.6 0.4 0 0.4-0.4 0.4-0.9 0.4-1 0.4-0.5 0.4 0.4 0.4 0.9 0.4 0.7 0.4 0 0.4-1.2 0.4-3.6 0.4-6.4 0.4-7.3 0.4-3.4 0.4 3.3 0.4 7.2 0.4 6.3 0.4 3.2 0.4 0.3 0.4-2.4 0.4-5.1 0.4-5.7 0.4-2.7 0.4 2.6 0.4 5.7 0.4 5 0.4 2.2 0.4-0.9 0.4-4.7 0.4-9 0.4-10.1 0.4-4.7 0.4 4.6 0.4 10.2 0.4 9 0.4 4.6 0.4 0.7 0.4-2.6 0.4-5.8 0.4-6.6 0.4-3 0.4 3.1 0.4 6.6 0.4 5.8 0.4 2.8 0.4-0.3 0.4-3.5 0.4-7 0.4-8 0.4-3.6 0.4 3.7 0.4 8 0.4 7 0.4 3.7 0.4 0.6 0.4-1.9 0.4-4.2 0.4-4.8 0.4-2.2 0.4 2.3 0.4 4.9 0.4 4.4 0.4 2.3 0.4 0.7 0.4-0.6 0.4-1.5 0.4-1.7 0.4-0.7 0.4 0.8 0.4 1.8 0.4 1.6 0.4 0.9 0.4 0.3 0.4-0.1 0.4-0.3 0.4-0.4 0.4-0.1 0.4 0.2 0.4 0.3 0.4 0.4 0.4 0.2 0.4 0 0.4-0.1 0.4-0.1 0.4-0.2 0.4-0.1 0.4 0.1 0.4 0.2 0.4 0.2 0.4 0 0.4 0 0.4 0 0.4-0.1 0.4-0.1 0.4 0 0.4 0 0.4 0.1 0.4 0.1 0.4 0.1 0.4-0.1 0.4 0 0.4-0.1 0.4-0.2 0.4 0 0.4 0 0.4 0.2 0.4 0.1 0.4 0 0.4 0 0.4 0 0.4-0.2 0.4-0.1 0.4-0.1 0.4 0.1 0.4 0.1 0.4 0.2 0.4 0 0.4 0 0.4-0.1 0.4-0.1 0.4-0.2 0.4-0.1 0.4 0.1 0.4 0.2 0.4 0.1 0.4 0.1 0.4 0 0.4 0 0.4-0.1 0.4-0.1 0.4-0.1 0.4 0.1 0.4 0.1 0.4 0 0.4 0 0.4-0.2 0.4-0.6 0.4-1.1 0.4-1.2 0.4-0.6 0.4 0.6 0.4 1.2 0.4 1.1 0.4 0.5 0.4 0.1 0.4-0.3 0.4-0.6 0.4-0.8 0.4-0.3 0.4 0.3 0.4 0.8 0.4 0.6 0.4 0.3 0.4-0.2 0.4-0.7 0.4-1.4 0.4-1.5 0.4-0.7 0.4 0.7 0.4 1.5 0.4 1.4 0.4 0.7 0.4 0.1 0.4-0.4 0.4-0.9 0.4-1 0.4-0.4 0.4 0.4 0.4 1.1 0.4 0.8 0.4 0.5 0.4 0 0.4-0.3 0.4-0.6 0.4-0.8 0.4-0.3 0.4 0.3 0.4 0.8 0.4 0.7 0.4 0.3 0.4 0.2 0.4-0.1 0.4-0.1 0.4-0.1 0.4-0.1 0.4 0.1 0.4 0.1 0.4 0.2 0.4 0 0.4 0 0.4 0 0.4-0.2 0.4-0.1 0.4-0.1 0.4 0.1 0.4 0.1 0.4 0.2 0.4 0 0.4 0 0.4-0.1 0.4-0.2 0.4-0.3 0.4-0.1 0.4 0.1 0.4 0.2 0.4 0.2 0.4 0.1 0.4-0.2 0.4-0.6 0.4-1.1 0.4-1.2 0.4-0.6 0.4 0.5 0.4 1.3 0.4 1.1 0.4 0.5 0.4 0 0.4-0.4 0.4-0.9 0.4-1.1 0.4-0.4 0.4 0.4 0.4 1.1 0.4 0.8 0.4 0.4 0.4-0.3 0.4-1.1 0.4-2.2 0.4-2.4 0.4-1.1 0.4 1.1 0.4 2.4 0.4 2.1 0.4 1.1 0.4 0.2 0.4-0.7 0.4-1.5 0.4-1.6 0.4-0.8 0.4 0.7 0.4 1.5 0.4 1.3 0.4 0.3 0.4-1.3 0.4-4.1 0.4-7.3 0.4-8.4 0.4-3.8 0.4 3.7 0.4 8.2 0.4 7.3 0.4 3.6 0.4 0.3 0.4-2.9 0.4-5.9 0.4-6.8 0.4-3.2 0.4 2.9 0.4 6.5 0.4 5.4 0.4 1.7 0.4-3.8 0.4-12.5 0.4-23.2 0.4-26.1 0.4-11.9 0.4 11.7 0.4 25.9 0.4 22.7 0.4 11.6 0.4 1.1 0.4-8.5 0.4-17.7 0.4-20.3 0.4-9.2 0.4 9.3 0.4 20.4 0.4 17.8 0.4 8.9 0.4 0 0.4-8.7 0.4-17.6 0.4-20.1 0.4-9.2 0.4 9.3 0.4 20.3 0.4 17.8 0.4 9.3 0.4 1.6 0.4-4.8 0.4-10.5 0.4-12.1 0.4-5.4 0.4 5.7 0.4 12.3 0.4 11 0.4 5.8 0.4 1.3 0.4-1.9 0.4-4.6 0.4-5.4 0.4-2.4 0.4 2.6 0.4 5.5 0.4 5 0.4 2.6 0.4 0.8 0.4-0.4 0.4-1.4 0.4-1.5 0.4-0.8 0.4 0.8 0.4 1.7 0.4 1.5 0.4 0.8 0.4 0.3 0.4-0.1 0.4-0.3 0.4-0.4 0.4-0.1 0.4 0.2 0.4 0.3 0.4 0.4 0.4 0.2 0.4 0 0.4-0.1 0.4-0.3 0.4-0.2 0.4-0.1 0.4 0.1 0.4 0.2 0.4 0.3 0.4 0.1 0.4 0 0.4-0.1 0.4-0.2 0.4-0.2 0.4-0.1 0.4 0.1 0.4 0.2 0.4 0.2 0.4 0.1 0.4 0 0.4-0.1 0.4-0.2 0.4-0.2 0.4-0.1 0.4 0.1 0.4 0.2 0.4 0.2 0.4 0.1 0.4 0 0.4-0.1 0.4-0.2 0.4-0.2 0.4-0.1 0.4 0.1 0.4 0.2 0.4 0.2 0.4 0.1 0.4 0 0.4-0.1 0.4-0.1 0.4-0.2 0.4-0.1 0.4 0.1 0.4 0.1 0.4 0.2 0.4 0 0.4-0.1 0.4-0.5 0.4-0.8 0.4-1 0.4-0.4 0.4 0.4 0.4 1 0.4 0.8 0.4 0.4 0.4 0.1 0.4-0.4 0.4-0.6 0.4-0.8 0.4-0.3 0.4 0.3 0.4 0.7 0.4 0.6 0.4 0.2 0.4-0.4 0.4-1.4 0.4-2.6 0.4-2.9 0.4-1.3 0.4 1.3 0.4 2.9 0.4 2.5 0.4 1.3 0.4 0.1 0.4-1 0.4-2.1 0.4-2.4 0.4-1.1 0.4 1.1 0.4 2.4 0.4 2.1 0.4 1.1 0.4 0.1 0.4-0.9 0.4-1.7 0.4-2 0.4-0.9 0.4 0.9 0.4 2 0.4 1.8 0.4 1 0.4 0.2 0.4-0.4 0.4-0.8 0.4-0.9 0.4-0.4 0.4 0.4 0.4 1 0.4 0.8 0.4 0.5 0.4 0 0.4-0.1 0.4-0.4 0.4-0.5 0.4-0.2 0.4 0.2 0.4 0.5 0.4 0.4 0.4 0.2 0.4 0 0.4-0.1 0.4-0.3 0.4-0.4 0.4-0.1 0.4 0.1 0.4 0.4 0.4 0.3 0.4 0 0.4-0.1 0.4-0.6 0.4-1.1 0.4-1.2 0.4-0.6 0.4 0.5 0.4 1.3 0.4 1 0.4 0.6 0.4 0 0.4-0.5 0.4-0.9 0.4-1 0.4-0.6 0.4 0.5 0.4 1 0.4 0.8 0.4 0.2 0.4-0.8 0.4-2.4 0.4-4.4 0.4-5 0.4-2.3 0.4 2.2 0.4 5 0.4 4.3 0.4 2.2 0.4 0.2 0.4-1.6 0.4-3.4 0.4-3.8 0.4-1.8 0.4 1.7 0.4 3.9 0.4 3.3 0.4 1.5 0.4-0.7 0.4-3.2 0.4-6.2 0.4-7.1 0.4-3.2 0.4 3.2 0.4 7 0.4 6.2 0.4 3.2 0.4 0.3 0.4-2 0.4-4.4 0.4-5.1 0.4-2.3 0.4 2.2 0.4 4.8 0.4 4.2 0.4 1.4 0.4-2.3 0.4-7.8 0.4-14.7 0.4-16.6 0.4-7.6 0.4 7.5 0.4 16.4 0.4 14.4 0.4 7.3 0.4 0.6 0.4-5.6 0.4-11.5 0.4-13.3 0.4-6.1 0.4 5.9 0.4 13.1 0.4 11.2 0.4 4.8 0.4-2.9 0.4-13.2 0.4-24.9 0.4-28.1 0.4-12.9 0.4 12.8 0.4 28 0.4 24.7 0.4 12.7 0.4 1.5 0.4-8.5 0.4-17.7 0.4-20.4 0.4-9.2 0.4 9.5 0.4 20.7 0.4 18.3 0.4 9.6 0.4 2.2 0.4-3.6 0.4-8.2 0.4-9.6 0.4-4.3 0.4 4.6 0.4 9.9 0.4 8.7 0.4 4.7 0.4 1.2 0.4-1.2 0.4-3 0.4-3.6 0.4-1.6 0.4 1.8 0.4 3.7 0.4 3.3 0.4 1.9 0.4 0.6 0.4-0.1 0.4-0.4 0.4-0.6 0.4-0.2 0.4 0.3 0.4 0.6 0.4 0.6 0.4 0.3 0.4 0.1 0.4 0 0.4-0.1 0.4-0.1 0.4-0.1 0.4 0.1 0.4 0.1 0.4 0.1 0.4 0 0.4 0.1 0.4-0.1 0.4-0.1 0.4-0.1 0.4 0 0.4 0 0.4 0.1 0.4 0.1 0.4 0.1 0.4 0 0.4-0.1 0.4-0.1 0.4-0.1 0.4 0 0.4 0 0.4 0.1 0.4 0.1 0.4 0 0.4 0 0.4-0.1 0.4-0.2 0.4-0.3 0.4-0.1 0.4 0.1 0.4 0.3 0.4 0.2 0.4 0.1 0.4 0 0.4-0.1 0.4-0.2 0.4-0.2 0.4-0.1 0.4 0.1 0.4 0.2 0.4 0.2 0.4 0.1 0.4 0 0.4-0.2 0.4-0.2 0.4-0.4 0.4-0.1 0.4 0.1 0.4 0.4 0.4 0.2 0.4 0.2 0.4 0 0.4-0.2 0.4-0.2 0.4-0.4 0.4-0.1 0.4 0.1 0.4 0.3 0.4 0.3 0.4 0.1 0.4 0 0.4-0.4 0.4-0.5 0.4-0.7 0.4-0.3 0.4 0.3 0.4 0.7 0.4 0.5 0.4 0.3 0.4 0.1 0.4-0.2 0.4-0.4 0.4-0.5 0.4-0.2 0.4 0.2 0.4 0.5 0.4 0.4 0.4 0.1 0.4-0.1 0.4-0.4 0.4-0.9 0.4-1 0.4-0.4 0.4 0.4 0.4 1 0.4 0.9 0.4 0.4 0.4 0.1 0.4-0.1 0.4-0.4 0.4-0.5 0.4-0.2 0.4 0.2 0.4 0.5 0.4 0.4 0.4 0.2 0.4 0 0.4-0.1 0.4-0.3 0.4-0.3 0.4-0.1 0.4 0.1 0.4 0.4 0.4 0.2 0.4 0.2 0.4 0 0.4-0.1 0.4-0.3 0.4-0.2 0.4-0.1 0.4 0.1 0.4 0.2 0.4 0.2 0.4 0.1 0.4-0.1 0.4-0.4 0.4-0.7 0.4-0.7 0.4-0.4 0.4 0.4 0.4 0.7 0.4 0.7 0.4 0.4 0.4 0.1 0.4-0.2 0.4-0.4 0.4-0.5 0.4-0.2 0.4 0.2 0.4 0.4 0.4 0.4 0.4 0 0.4-0.4 0.4-1.3 0.4-2.4 0.4-2.7 0.4-1.2 0.4 1.2 0.4 2.7 0.4 2.3 0.4 1.2 0.4 0 0.4-1 0.4-2.1 0.4-2.4 0.4-1.1 0.4 1.1 0.4 2.3 0.4 2 0.4 0.8 0.4-0.6 0.4-2.6 0.4-4.9 0.4-5.5 0.4-2.6 0.4 2.5 0.4 5.5 0.4 4.8 0.4 2.5 0.4 0.1 0.4-1.9 0.4-4 0.4-4.6 0.4-2.1 0.4 2.1 0.4 4.6 0.4 4 0.4 2 0.4-0.1 0.4-2.2 0.4-4.4 0.4-5 0.4-2.3 0.4 2.3 0.4 5.1 0.4 4.4 0.4 2.3 0.4 0.4 0.4-1.3 0.4-2.9 0.4-3.3 0.4-1.5 0.4 1.6 0.4 3.3 0.4 2.9 0.4 1.6 0.4 0.1 0.4-1 0.4-2.1 0.4-2.4 0.4-1.1 0.4 1.1 0.4 2.5 0.4 2.2 0.4 1.1 0.4 0.3 0.4-0.4 0.4-0.9 0.4-1.1 0.4-0.4 0.4 0.5 0.4 1 0.4 1 0.4 0.5 0.4 0 0.4-0.3 0.4-0.7 0.4-0.8 0.4-0.3 0.4 0.4 0.4 0.7 0.4 0.7 0.4 0.4 0.4 0.1 0.4-0.1 0.4-0.3 0.4-0.3 0.4-0.1 0.4 0.1 0.4 0.4 0.4 0.2 0.4 0.2 0.4 0 0.4 0 0.4-0.1 0.4-0.1 0.4 0 0.4 0 0.4 0.1 0.4 0.1 0.4 0 0.4 0 0.4-0.1 0.4-0.2 0.4-0.2 0.4-0.1 0.4 0.1 0.4 0.2 0.4 0.2 0.4 0.1 0.4 0 0.4-0.1 0.4-0.1 0.4-0.2 0.4-0.1 0.4 0.1 0.4 0.2 0.4 0.1 0.4 0.1 0.4 0 0.4-0.1 0.4-0.2 0.4-0.2 0.4-0.1 0.4 0.1 0.4 0.2 0.4 0.2 0.4 0.1 0.4 0 0.4 0 0.4-0.2 0.4-0.1 0.4-0.1 0.4 0.1 0.4 0.1 0.4 0.2 0.4 0 0.4 0 0.4-0.1 0.4-0.3 0.4-0.2 0.4-0.1 0.4 0.1 0.4 0.2 0.4 0.3 0.4 0.1 0.4 0 0.4 0 0.4-0.1 0.4-0.1 0.4-0.1 0.4 0.1 0.4 0.1 0.4 0.1 0.4 0 0.4 0 0.4-0.1 0.4-0.1 0.4-0.2 0.4-0.1 0.4 0.1 0.4 0.2 0.4 0.1 0.4 0.1 0.4 0 0.4-0.1 0.4-0.2 0.4-0.2 0.4-0.1 0.4 0.1 0.4 0.2 0.4 0.2 0.4 0.1 0.4 0 0.4-0.1 0.4-0.2 0.4-0.3 0.4-0.1 0.4 0.1 0.4 0.3 0.4 0.2 0.4 0.1 0.4 0 0.4-0.1 0.4-0.2 0.4-0.2 0.4-0.1 0.4 0.1 0.4 0.2 0.4 0.2 0.4 0.1 0.4 0 0.4-0.1 0.4-0.2 0.4-0.2 0.4-0.1 0.4 0.1 0.4 0.2 0.4 0.2 0.4 0.1 0.4 0 0.4-0.1 0.4-0.2 0.4-0.2 0.4-0.1 0.4 0.1 0.4 0.2 0.4 0.2 0.4 0.1 0.4 0 0.4-0.1 0.4-0.2 0.4-0.3 0.4-0.1 0.4 0.1 0.4 0.3 0.4 0.2 0.4 0.1 0.4 0 0.4 0 0.4-0.2 0.4-0.1 0.4-0.1 0.4 0.1 0.4 0.1 0.4 0.2 0.4 0" fill="none" stroke="#1c1c1c" stroke-width="1.1" stroke-linejoin="round"/>
<path d="M47.0 321.6l0.4 0.1 0.4 0.2 0.4 0.3 0.4 0.1 0.4 0 0.4-0.1 0.4-0.3 0.4-0.3 0.4-0.1 0.4 0.1 0.4 0.3 0.4 0.3 0.4 0.1 0.4 0 0.4-0.1 0.4-0.2 0.4-0.2 0.4-0.1 0.4 0.1 0.4 0.2 0.4 0.2 0.4 0.1 0.4 0 0.4-0.1 0.4-0.2 0.4-0.2 0.4-0.1 0.4 0.1 0.4 0.2 0.4 0.2 0.4 0.1 0.4 0 0.4-0.1 0.4-0.1 0.4-0.2 0.4-0.1 0.4 0.1 0.4 0.2 0.4 0.1 0.4 0.1 0.4 0 0.4-0.1 0.4-0.2 0.4-0.2 0.4-0.1 0.4 0.1 0.4 0.2 0.4 0.2 0.4 0.1 0.4 0 0.4-0.1 0.4-0.2 0.4-0.2 0.4-0.1 0.4 0.1 0.4 0.2 0.4 0.2 0.4 0.1 0.4 0 0.4 0 0.4-0.1 0.4-0.2 0.4 0 0.4 0 0.4 0.2 0.4 0.1 0.4 0 0.4 0 0.4-0.1 0.4-0.2 0.4-0.2 0.4-0.1 0.4 0.1 0.4 0.2 0.4 0.2 0.4 0.1 0.4 0 0.4-0.2 0.4-0.2 0.4-0.3 0.4-0.2 0.4 0.2 0.4 0.3 0.4 0.2 0.4 0.2 0.4 0 0.4-0.1 0.4-0.3 0.4-0.3 0.4-0.1 0.4 0.1 0.4 0.3 0.4 0.3 0.4 0.1 0.4 0 0.4-0.1 0.4-0.2 0.4-0.3 0.4-0.1 0.4 0.1 0.4 0.3 0.4 0.2 0.4 0.1 0.4 0 0.4-0.1 0.4-0.1 0.4-0.2 0.4-0.1 0.4 0.1 0.4 0.2 0.4 0.1 0.4 0.1 0.4 0 0.4-0.1 0.4-0.2 0.4-0.3 0.4-0.1 0.4 0.1 0.4 0.3 0.4 0.2 0.4 0.1 0.4 0 0.4-0.1 0.4-0.2 0.4-0.2 0.4-0.1 0.4 0.1 0.4 0.2 0.4 0.2 0.4 0.1 0.4 0 0.4-0.2 0.4-0.2 0.4-0.4 0.4-0.1 0.4 0.1 0.4 0.4 0.4 0.2 0.4 0.2 0.4 0 0.4-0.1 0.4-0.2 0.4-0.2 0.4-0.1 0.4 0.1 0.4 0.2 0.4 0.2 0.4 0.1 0.4 0 0.4-0.1 0.4-0.2 0.4-0.2 0.4-0.1 0.4 0.1 0.4 0.2 0.4 0.2 0.4 0.1 0.4 0 0.4-0.2 0.4-0.2 0.4-0.4 0.4-0.1 0.4 0.1 0.4 0.4 0.4 0.2 0.4 0.2 0.4 0 0.4-0.2 0.4-0.2 0.4-0.4 0.4-0.1 0.4 0.1 0.4 0.4 0.4 0.2 0.4 0.2 0.4 0 0.4-0.1 0.4-0.1 0.4-0.2 0.4-0.1 0.4 0.1 0.4 0.2 0.4 0.1 0.4 0.1 0.4 0 0.4-0.1 0.4-0.3 0.4-0.2 0.4-0.2 0.4 0.2 0.4 0.2 0.4 0.3 0.4 0.1 0.4 0 0.4 0 0.4-0.1 0.4-0.2 0.4 0 0.4 0 0.4 0.2 0.4 0.1 0.4 0 0.4 0 0.4-0.1 0.4-0.2 0.4-0.3 0.4-0.1 0.4 0.1 0.4 0.3 0.4 0.2 0.4 0.1 0.4 0 0.4 0 0.4-0.1 0.4-0.1 0.4-0.1 0.4 0.1 0.4 0.1 0.4 0.1 0.4 0 0.4 0 0.4-0.1 0.4-0.2 0.4-0.2 0.4-0.1 0.4 0.1 0.4 0.2 0.4 0.2 0.4 0.1 0.4 0 0.4-0.1 0.4-0.2 0.4-0.2 0.4-0.1 0.4 0.1 0.4 0.2 0.4 0.2 0.4 0.1 0.4 0 0.4 0 0.4-0.2 0.4-0.1 0.4-0.1 0.4 0.1 0.4 0.1 0.4 0.2 0.4 0 0.4 0 0.4-0.1 0.4-0.2 0.4-0.3 0.4-0.1 0.4 0.1 0.4 0.3 0.4 0.2 0.4 0.1 0.4 0 0.4-0.1 0.4-0.2 0.4-0.2 0.4-0.1 0.4 0.1 0.4 0.2 0.4 0.2 0.4 0.1 0.4 0 0.4-0.1 0.4-0.2 0.4-0.2 0.4-0.1 0.4 0.1 0.4 0.2 0.4 0.2 0.4 0.1 0.4 0 0.4-0.1 0.4-0.3 0.4-0.3 0.4-0.1 0.4 0.1 0.4 0.3 0.4 0.3 0.4 0.1 0.4 0 0.4 0 0.4-0.2 0.4-0.1 0.4-0.1 0.4 0.1 0.4 0.1 0.4 0.2 0.4 0 0.4 0 0.4 0 0.4-0.1 0.4-0.1 0.4-0.1 0.4 0.1 0.4 0.1 0.4 0.1 0.4 0 0.4 0 0.4 0 0.4-0.2 0.4-0.2 0.4 0 0.4 0 0.4 0.2 0.4 0.1 0.4 0.1 0.4 0 0.4-0.1 0.4-0.2 0.4-0.3 0.4-0.1 0.4 0.1 0.4 0.3 0.4 0.2 0.4 0.1 0.4 0 0.4 0 0.4-0.2 0.4-0.1 0.4-0.1 0.4 0.1 0.4 0.1 0.4 0.2 0.4 0 0.4 0 0.4 0 0.4-0.2 0.4-0.1 0.4-0.1 0.4 0.1 0.4 0.1 0.4 0.2 0.4 0 0.4 0 0.4-0.1 0.4-0.3 0.4-0.3 0.4-0.1 0.4 0.1 0.4 0.3 0.4 0.3 0.4 0.1 0.4 0 0.4-0.1 0.4-0.2 0.4-0.3 0.4-0.1 0.4 0.1 0.4 0.3 0.4 0.2 0.4 0.1 0.4 0 0.4-0.1 0.4-0.1 0.4-0.2 0.4-0.1 0.4 0.1 0.4 0.2 0.4 0.1 0.4 0.1 0.4 0 0.4-0.1 0.4-0.3 0.4-0.3 0.4-0.1 0.4 0.1 0.4 0.3 0.4 0.3 0.4 0.1 0.4 0 0.4-0.1 0.4-0.1 0.4-0.2 0.4-0.1 0.4 0.1 0.4 0.2 0.4 0.1 0.4 0.1 0.4 0 0.4-0.1 0.4-0.2 0.4-0.2 0.4-0.1 0.4 0.1 0.4 0.2 0.4 0.2 0.4 0.1 0.4 0 0.4-0.1 0.4-0.2 0.4-0.2 0.4-0.1 0.4 0.1 0.4 0.2 0.4 0.2 0.4 0.1 0.4-0.1 0.4-0.2 0.4-0.4 0.4-0.5 0.4-0.2 0.4 0.2 0.4 0.5 0.4 0.4 0.4 0.2 0.4 0 0.4-0.1 0.4-0.3 0.4-0.4 0.4-0.1 0.4 0.1 0.4 0.4 0.4 0.3 0.4 0.1 0.4 0 0.4-0.2 0.4-0.4 0.4-0.5 0.4-0.2 0.4 0.2 0.4 0.5 0.4 0.4 0.4 0.2 0.4 0 0.4-0.1 0.4-0.3 0.4-0.3 0.4-0.1 0.4 0.1 0.4 0.4 0.4 0.2 0.4 0.2 0.4 0 0.4-0.2 0.4-0.2 0.4-0.4 0.4-0.1 0.4 0.1 0.4 0.4 0.4 0.2 0.4 0.2 0.4 0 0.4-0.1 0.4-0.2 0.4-0.3 0.4-0.1 0.4 0.1 0.4 0.3 0.4 0.2 0.4 0.1 0.4 0 0.4 0 0.4-0.2 0.4-0.1 0.4-0.1 0.4 0.1 0.4 0.1 0.4 0.2 0.4 0 0.4 0 0.4-0.1 0.4-0.1 0.4-0.2 0.4-0.1 0.4 0.1 0.4 0.2 0.4 0.1 0.4 0.1 0.4 0 0.4-0.1 0.4-0.3 0.4-0.2 0.4-0.1 0.4 0.1 0.4 0.2 0.4 0.3 0.4 0.1 0.4 0 0.4-0.1 0.4-0.3 0.4-0.3 0.4-0.1 0.4 0.1 0.4 0.3 0.4 0.3 0.4 0.1 0.4 0 0.4-0.1 0.4-0.3 0.4-0.3 0.4-0.1 0.4 0.1 0.4 0.3 0.4 0.3 0.4 0.1 0.4 0 0.4-0.1 0.4-0.1 0.4-0.2 0.4-0.1 0.4 0.1 0.4 0.2 0.4 0.1 0.4 0.1 0.4 0 0.4-0.1 0.4-0.2 0.4-0.2 0.4-0.1 0.4 0.1 0.4 0.2 0.4 0.2 0.4 0.1 0.4 0 0.4-0.1 0.4-0.1 0.4-0.2 0.4-0.1 0.4 0.1 0.4 0.2 0.4 0.2 0.4 0 0.4 0 0.4 0 0.4-0.1 0.4-0.2 0.4 0 0.4 0 0.4 0.2 0.4 0.1 0.4 0 0.4 0 0.4-0.1 0.4-0.2 0.4-0.2 0.4-0.1 0.4 0.1 0.4 0.2 0.4 0.2 0.4 0.1 0.4 0 0.4-0.1 0.4-0.3 0.4-0.2 0.4-0.2 0.4 0.2 0.4 0.2 0.4 0.3 0.4 0.1 0.4 0 0.4-0.1 0.4-0.3 0.4-0.2 0.4-0.2 0.4 0.2 0.4 0.2 0.4 0.3 0.4 0.1 0.4 0 0.4-0.1 0.4-0.2 0.4-0.3 0.4-0.1 0.4 0.1 0.4 0.3 0.4 0.2 0.4 0.1 0.4 0 0.4-0.2 0.4-0.2 0.4-0.3 0.4-0.1 0.4 0.1 0.4 0.3 0.4 0.3 0.4 0.1 0.4 0 0.4 0 0.4-0.2 0.4-0.2 0.4 0 0.4 0 0.4 0.2 0.4 0.1 0.4 0.1 0.4 0 0.4-0.2 0.4-0.2 0.4-0.4 0.4-0.1 0.4 0.1 0.4 0.4 0.4 0.2 0.4 0.2 0.4 0 0.4 0 0.4-0.2 0.4-0.1 0.4-0.1 0.4 0.1 0.4 0.1 0.4 0.2 0.4 0 0.4 0 0.4-0.1 0.4-0.1 0.4-0.2 0.4-0.1 0.4 0.1 0.4 0.2 0.4 0.1 0.4 0.1 0.4 0 0.4-0.2 0.4-0.2 0.4-0.4 0.4-0.1 0.4 0.1 0.4 0.4 0.4 0.2 0.4 0.2 0.4 0 0.4-0.1 0.4-0.2 0.4-0.2 0.4-0.1 0.4 0.1 0.4 0.2 0.4 0.1 0.4 0 0.4-0.4 0.4-1 0.4-1.9 0.4-2.1 0.4-0.9 0.4 0.9 0.4 2.1 0.4 1.8 0.4 0.9 0.4 0.1 0.4-0.7 0.4-1.6 0.4-1.7 0.4-0.8 0.4 0.7 0.4 1.8 0.4 1.5 0.4 0.7 0.4-0.3 0.4-1.6 0.4-3 0.4-3.3 0.4-1.5 0.4 1.5 0.4 3.3 0.4 3 0.4 1.5 0.4 0.2 0.4-1 0.4-2 0.4-2.3 0.4-1 0.4 1 0.4 2.4 0.4 2 0.4 1.1 0.4 0.1 0.4-0.8 0.4-1.5 0.4-1.7 0.4-0.8 0.4 0.8 0.4 1.8 0.4 1.5 0.4 0.8 0.4 0.2 0.4-0.3 0.4-0.8 0.4-0.9 0.4-0.4 0.4 0.4 0.4 0.9 0.4 0.8 0.4 0.5 0.4 0.1 0.4-0.1 0.4-0.3 0.4-0.4 0.4-0.1 0.4 0.2 0.4 0.3 0.4 0.3 0.4 0.2 0.4 0 0.4-0.1 0.4-0.1 0.4-0.2 0.4 0 0.4 0 0.4 0.2 0.4 0.2 0.4 0 0.4 0 0.4 0 0.4-0.2 0.4-0.1 0.4-0.1 0.4 0.1 0.4 0.1 0.4 0.2 0.4 0 0.4 0 0.4-0.1 0.4-0.1 0.4-0.2 0.4-0.1 0.4 0.1 0.4 0.2 0.4 0.1 0.4 0.1 0.4 0 0.4-0.1 0.4-0.2 0.4-0.2 0.4-0.1 0.4 0.1 0.4 0.2 0.4 0.2 0.4 0.1 0.4 0 0.4-0.1 0.4-0.2 0.4-0.2 0.4-0.1 0.4 0.1 0.4 0.2 0.4 0.2 0.4 0.1 0.4 0 0.4-0.1 0.4-0.1 0.4-0.2 0.4-0.1 0.4 0.1 0.4 0.2 0.4 0.1 0.4 0.1 0.4 0 0.4-0.1 0.4-0.3 0.4-0.2 0.4-0.2 0.4 0.2 0.4 0.2 0.4 0.3 0.4 0.1 0.4-0.1 0.4-0.2 0.4-0.4 0.4-0.5 0.4-0.2 0.4 0.2 0.4 0.5 0.4 0.4 0.4 0.2 0.4 0.1 0.4-0.1 0.4-0.2 0.4-0.3 0.4-0.1 0.4 0.1 0.4 0.2 0.4 0.2 0.4 0.1 0.4-0.1 0.4-0.5 0.4-0.8 0.4-0.9 0.4-0.4 0.4 0.4 0.4 0.9 0.4 0.8 0.4 0.5 0.4 0 0.4-0.1 0.4-0.4 0.4-0.5 0.4-0.2 0.4 0.2 0.4 0.5 0.4 0.4 0.4 0.2 0.4 0.1 0.4-0.1 0.4-0.2 0.4-0.3 0.4-0.1 0.4 0.1 0.4 0.3 0.4 0.2 0.4 0.1 0.4 0 0.4-0.2 0.4-0.2 0.4-0.3 0.4-0.2 0.4 0.2 0.4 0.3 0.4 0.2 0.4 0.2 0.4 0 0.4-0.1 0.4-0.1 0.4-0.2 0.4-0.1 0.4 0.1 0.4 0.2 0.4 0.1 0.4 0.1 0.4 0 0.4 0 0.4-0.1 0.4-0.2 0.4 0 0.4 0 0.4 0.2 0.4 0.1 0.4 0 0.4-0.1 0.4-0.2 0.4-0.4 0.4-0.5 0.4-0.2 0.4 0.2 0.4 0.5 0.4 0.4 0.4 0.2 0.4 0 0.4-0.1 0.4-0.3 0.4-0.3 0.4-0.1 0.4 0.1 0.4 0.3 0.4 0.3 0.4 0.1 0.4-0.1 0.4-0.5 0.4-0.9 0.4-1 0.4-0.4 0.4 0.4 0.4 1 0.4 0.9 0.4 0.4 0.4 0.1 0.4-0.1 0.4-0.4 0.4-0.5 0.4-0.2 0.4 0.2 0.4 0.4 0.4 0.4 0.4 0 0.4-0.5 0.4-1.4 0.4-2.7 0.4-3 0.4-1.3 0.4 1.3 0.4 3 0.4 2.6 0.4 1.3 0.4 0.1 0.4-0.9 0.4-1.8 0.4-2.2 0.4-1 0.4 0.8 0.4 2 0.4 1.6 0.4 0.3 0.4-2 0.4-6 0.4-11 0.4-12.4 0.4-5.7 0.4 5.6 0.4 12.2 0.4 10.8 0.4 5.4 0.4 0.5 0.4-4.1 0.4-8.5 0.4-9.7 0.4-4.5 0.4 4.5 0.4 9.8 0.4 8.6 0.4 4.2 0.4 0.1 0.4-4.2 0.4-8.4 0.4-9.7 0.4-4.3 0.4 4.4 0.4 9.7 0.4 8.5 0.4 4.5 0.4 0.7 0.4-2.3 0.4-5.2 0.4-5.9 0.4-2.7 0.4 2.8 0.4 6.1 0.4 5.3 0.4 2.9 0.4 0.6 0.4-0.9 0.4-2.3 0.4-2.6 0.4-1.2 0.4 1.3 0.4 2.7 0.4 2.4 0.4 1.3 0.4 0.4 0.4-0.3 0.4-0.7 0.4-0.9 0.4-0.4 0.4 0.4 0.4 0.9 0.4 0.8 0.4 0.5 0.4 0.1 0.4-0.1 0.4-0.3 0.4-0.4 0.4-0.1 0.4 0.2 0.4 0.3 0.4 0.3 0.4 0.2 0.4 0 0.4 0 0.4-0.1 0.4-0.1 0.4-0.1 0.4 0.1 0.4 0.1 0.4 0.1 0.4 0 0.4 0 0.4-0.1 0.4-0.3 0.4-0.3 0.4-0.1 0.4 0.1 0.4 0.3 0.4 0.3 0.4 0.1 0.4 0 0.4 0 0.4-0.1 0.4-0.1 0.4-0.1 0.4 0.1 0.4 0.1 0.4 0.1 0.4 0 0.4 0 0.4-0.1 0.4-0.2 0.4-0.3 0.4-0.1 0.4 0.1 0.4 0.3 0.4 0.2 0.4 0.1 0.4 0 0.4-0.1 0.4-0.2 0.4-0.2 0.4-0.1 0.4 0.1 0.4 0.2 0.4 0.2 0.4 0.1 0.4 0 0.4-0.2 0.4-0.4 0.4-0.3 0.4-0.2 0.4 0.2 0.4 0.3 0.4 0.4 0.4 0.2 0.4 0 0.4-0.1 0.4-0.2 0.4-0.3 0.4-0.1 0.4 0.1 0.4 0.2 0.4 0.2 0.4 0 0.4-0.3 0.4-0.8 0.4-1.6 0.4-1.8 0.4-0.8 0.4 0.8 0.4 1.7 0.4 1.6 0.4 0.8 0.4 0.1 0.4-0.6 0.4-1.2 0.4-1.4 0.4-0.6 0.4 0.6 0.4 1.4 0.4 1.2 0.4 0.6 0.4 0 0.4-0.6 0.4-1.2 0.4-1.4 0.4-0.6 0.4 0.6 0.4 1.4 0.4 1.2 0.4 0.7 0.4 0.2 0.4-0.2 0.4-0.5 0.4-0.6 0.4-0.2 0.4 0.3 0.4 0.5 0.4 0.5 0.4 0.3 0.4 0.1 0.4-0.1 0.4-0.2 0.4-0.3 0.4-0.1 0.4 0.1 0.4 0.3 0.4 0.2 0.4 0.1 0.4 0 0.4-0.1 0.4-0.1 0.4-0.2 0.4-0.1 0.4 0.1 0.4 0.2 0.4 0.1 0.4 0.1 0.4-0.1 0.4-0.4 0.4-0.6 0.4-0.7 0.4-0.3 0.4 0.3 0.4 0.7 0.4 0.6 0.4 0.3 0.4 0.1 0.4-0.1 0.4-0.4 0.4-0.3 0.4-0.2 0.4 0.1 0.4 0.4 0.4 0.3 0.4 0 0.4-0.5 0.4-1.3 0.4-2.3 0.4-2.7 0.4-1.2 0.4 1.2 0.4 2.6 0.4 2.4 0.4 1.1 0.4 0.2 0.4-0.9 0.4-1.8 0.4-2 0.4-1 0.4 1 0.4 2 0.4 1.8 0.4 0.8 0.4-0.3 0.4-1.6 0.4-3.1 0.4-3.5 0.4-1.6 0.4 1.6 0.4 3.4 0.4 3.1 0.4 1.6 0.4 0.2 0.4-1 0.4-2.2 0.4-2.5 0.4-1.1 0.4 1 0.4 2.4 0.4 2 0.4 0.6 0.4-1.4 0.4-4.5 0.4-8.2 0.4-9.4 0.4-4.3 0.4 4.2 0.4 9.2 0.4 8.2 0.4 4.1 0.4 0.4 0.4-3.1 0.4-6.3 0.4-7.2 0.4-3.4 0.4 3.1 0.4 6.9 0.4 5.7 0.4 1.8 0.4-4.2 0.4-13.7 0.4-25.4 0.4-28.6 0.4-13.2 0.4 12.9 0.4 28.3 0.4 25 0.4 12.7 0.4 1 0.4-9.7 0.4-20.1 0.4-23 0.4-10.5 0.4 10.8 0.4 23.2 0.4 20.6 0.4 10.9 0.4 2.4 0.4-4 0.4-9.4 0.4-10.9 0.4-4.9 0.4 5.2 0.4 11.2 0.4 10 0.4 5.3 0.4 1.5 0.4-1.1 0.4-3.1 0.4-3.7 0.4-1.6 0.4 1.8 0.4 3.8 0.4 3.4 0.4 1.9 0.4 0.6 0.4-0.3 0.4-0.7 0.4-0.9 0.4-0.4 0.4 0.4 0.4 1 0.4 0.9 0.4 0.4 0.4 0.2 0.4-0.1 0.4-0.2 0.4-0.2 0.4-0.1 0.4 0.1 0.4 0.2 0.4 0.3 0.4 0.1 0.4 0 0.4 0 0.4-0.1 0.4-0.1 0.4-0.1 0.4 0.1 0.4 0.1 0.4 0.1 0.4 0 0.4 0 0.4 0 0.4-0.1 0.4-0.2 0.4 0 0.4 0 0.4 0.2 0.4 0.1 0.4 0 0.4 0 0.4-0.1 0.4-0.1 0.4-0.2 0.4-0.1 0.4 0.1 0.4 0.2 0.4 0.1 0.4 0.1 0.4 0 0.4 0 0.4-0.1 0.4-0.1 0.4-0.1 0.4 0.1 0.4 0.1 0.4 0.1 0.4 0 0.4 0 0.4-0.1 0.4-0.3 0.4-0.2 0.4-0.2 0.4 0.2 0.4 0.2 0.4 0.3 0.4 0.1 0.4 0 0.4 0 0.4-0.2 0.4-0.1 0.4-0.1 0.4 0.1 0.4 0.1 0.4 0.2 0.4 0 0.4 0 0.4-0.2 0.4-0.3 0.4-0.3 0.4-0.2 0.4 0.2 0.4 0.3 0.4 0.3 0.4 0.2 0.4 0 0.4-0.2 0.4-0.3 0.4-0.4 0.4-0.1 0.4 0.1 0.4 0.4 0.4 0.3 0.4 0.1 0.4-0.1 0.4-0.4 0.4-0.7 0.4-0.8 0.4-0.4 0.4 0.4 0.4 0.8 0.4 0.7 0.4 0.4 0.4 0 0.4-0.3 0.4-0.6 0.4-0.6 0.4-0.3 0.4 0.3 0.4 0.6 0.4 0.6 0.4 0.3 0.4 0 0.4-0.3 0.4-0.5 0.4-0.7 0.4-0.3 0.4 0.3 0.4 0.7 0.4 0.6 0.4 0.3 0.4 0.1 0.4 0 0.4-0.2 0.4-0.1 0.4-0.1 0.4 0.1 0.4 0.1 0.4 0.2 0.4 0 0.4-0.1 0.4-0.2 0.4-0.5 0.4-0.6 0.4-0.2 0.4 0.2 0.4 0.6 0.4 0.4 0.4 0.3 0.4 0 0.4-0.1 0.4-0.3 0.4-0.4 0.4-0.1 0.4 0.1 0.4 0.3 0.4 0.3 0.4 0.1 0.4-0.4 0.4-1 0.4-1.8 0.4-2 0.4-0.9 0.4 0.9 0.4 2 0.4 1.8 0.4 0.9 0.4 0.1 0.4-0.5 0.4-1 0.4-1.3 0.4-0.6 0.4 0.5 0.4 1.2 0.4 1 0.4 0.2 0.4-1 0.4-3.1 0.4-5.6 0.4-6.3 0.4-2.9 0.4 2.9 0.4 6.2 0.4 5.5 0.4 2.7 0.4 0.2 0.4-2.2 0.4-4.5 0.4-5.2 0.4-2.4 0.4 2.4 0.4 5.2 0.4 4.6 0.4 2.3 0.4 0.2 0.4-2 0.4-4.1 0.4-4.6 0.4-2.1 0.4 2.2 0.4 4.7 0.4 4.1 0.4 2.1 0.4 0.5 0.4-1 0.4-2.2 0.4-2.6 0.4-1.2 0.4 1.2 0.4 2.6 0.4 2.3 0.4 1.2 0.4 0 0.4-1 0.4-2.1 0.4-2.4 0.4-1.1 0.4 1.1 0.4 2.4 0.4 2.2 0.4 1.1 0.4 0.1 0.4-0.6 0.4-1.4 0.4-1.6 0.4-0.7 0.4 0.7 0.4 1.6 0.4 1.4 0.4 0.7 0.4 0 0.4-0.7 0.4-1.4 0.4-1.6 0.4-0.7 0.4 0.7 0.4 1.6 0.4 1.4 0.4 0.8 0.4 0.1 0.4-0.4 0.4-0.9 0.4-1 0.4-0.4 0.4 0.4 0.4 1.1 0.4 0.9 0.4 0.4 0.4 0.1 0.4-0.2 0.4-0.4 0.4-0.6 0.4-0.2 0.4 0.2 0.4 0.6 0.4 0.5 0.4 0.2 0.4 0.1 0.4 0 0.4-0.1 0.4-0.1 0.4-0.1 0.4 0.1 0.4 0.1 0.4 0.1 0.4 0 0.4 0 0.4-0.1 0.4-0.2 0.4-0.2 0.4-0.1 0.4 0.1 0.4 0.2 0.4 0.2 0.4 0.1 0.4 0 0.4-0.1 0.4-0.1 0.4-0.2 0.4-0.1 0.4 0.1 0.4 0.2 0.4 0.1 0.4 0.1 0.4 0 0.4-0.1 0.4-0.2 0.4-0.2 0.4-0.1 0.4 0.1 0.4 0.2 0.4 0.2 0.4 0.1 0.4 0 0.4-0.1 0.4-0.2 0.4-0.2 0.4-0.2 0.4 0.2 0.4 0.2 0.4 0.2 0.4 0.1 0.4 0 0.4-0.1 0.4-0.3 0.4-0.2 0.4-0.1 0.4 0.1 0.4 0.2 0.4 0.3 0.4 0.1 0.4 0 0.4-0.2 0.4-0.2 0.4-0.3 0.4-0.1 0.4 0.1 0.4 0.3 0.4 0.2 0.4 0.2 0.4 0 0.4-0.1 0.4-0.2 0.4-0.3 0.4-0.1 0.4 0.1 0.4 0.3 0.4 0.2 0.4 0.1 0.4 0 0.4 0 0.4-0.2 0.4-0.1 0.4-0.1 0.4 0.1 0.4 0.1 0.4 0.2 0.4 0 0.4 0 0.4-0.1 0.4-0.2 0.4-0.2 0.4 0 0.4 0 0.4 0.2 0.4 0.2 0.4 0.1 0.4 0 0.4 0 0.4-0.2 0.4-0.1 0.4-0.1 0.4 0.1 0.4 0.1 0.4 0.2 0.4 0 0.4 0 0.4 0 0.4-0.1 0.4-0.1 0.4-0.1 0.4 0.1 0.4 0.1 0.4 0.1 0.4 0 0.4 0 0.4-0.1 0.4-0.1 0.4-0.3 0.4 0 0.4 0 0.4 0.2 0.4 0.2 0.4 0.1 0.4 0 0.4-0.1 0.4-0.2 0.4-0.3 0.4-0.1 0.4 0.1 0.4 0.3 0.4 0.2 0.4 0.1L664.2 322.6L47.0 322.6Z" fill="#e8e8e8"/>
<path d="M47.0 321.6l0.4 0.1 0.4 0.2 0.4 0.3 0.4 0.1 0.4 0 0.4-0.1 0.4-0.3 0.4-0.3 0.4-0.1 0.4 0.1 0.4 0.3 0.4 0.3 0.4 0.1 0.4 0 0.4-0.1 0.4-0.2 0.4-0.2 0.4-0.1 0.4 0.1 0.4 0.2 0.4 0.2 0.4 0.1 0.4 0 0.4-0.1 0.4-0.2 0.4-0.2 0.4-0.1 0.4 0.1 0.4 0.2 0.4 0.2 0.4 0.1 0.4 0 0.4-0.1 0.4-0.1 0.4-0.2 0.4-0.1 0.4 0.1 0.4 0.2 0.4 0.1 0.4 0.1 0.4 0 0.4-0.1 0.4-0.2 0.4-0.2 0.4-0.1 0.4 0.1 0.4 0.2 0.4 0.2 0.4 0.1 0.4 0 0.4-0.1 0.4-0.2 0.4-0.2 0.4-0.1 0.4 0.1 0.4 0.2 0.4 0.2 0.4 0.1 0.4 0 0.4 0 0.4-0.1 0.4-0.2 0.4 0 0.4 0 0.4 0.2 0.4 0.1 0.4 0 0.4 0 0.4-0.1 0.4-0.2 0.4-0.2 0.4-0.1 0.4 0.1 0.4 0.2 0.4 0.2 0.4 0.1 0.4 0 0.4-0.2 0.4-0.2 0.4-0.3 0.4-0.2 0.4 0.2 0.4 0.3 0.4 0.2 0.4 0.2 0.4 0 0.4-0.1 0.4-0.3 0.4-0.3 0.4-0.1 0.4 0.1 0.4 0.3 0.4 0.3 0.4 0.1 0.4 0 0.4-0.1 0.4-0.2 0.4-0.3 0.4-0.1 0.4 0.1 0.4 0.3 0.4 0.2 0.4 0.1 0.4 0 0.4-0.1 0.4-0.1 0.4-0.2 0.4-0.1 0.4 0.1 0.4 0.2 0.4 0.1 0.4 0.1 0.4 0 0.4-0.1 0.4-0.2 0.4-0.3 0.4-0.1 0.4 0.1 0.4 0.3 0.4 0.2 0.4 0.1 0.4 0 0.4-0.1 0.4-0.2 0.4-0.2 0.4-0.1 0.4 0.1 0.4 0.2 0.4 0.2 0.4 0.1 0.4 0 0.4-0.2 0.4-0.2 0.4-0.4 0.4-0.1 0.4 0.1 0.4 0.4 0.4 0.2 0.4 0.2 0.4 0 0.4-0.1 0.4-0.2 0.4-0.2 0.4-0.1 0.4 0.1 0.4 0.2 0.4 0.2 0.4 0.1 0.4 0 0.4-0.1 0.4-0.2 0.4-0.2 0.4-0.1 0.4 0.1 0.4 0.2 0.4 0.2 0.4 0.1 0.4 0 0.4-0.2 0.4-0.2 0.4-0.4 0.4-0.1 0.4 0.1 0.4 0.4 0.4 0.2 0.4 0.2 0.4 0 0.4-0.2 0.4-0.2 0.4-0.4 0.4-0.1 0.4 0.1 0.4 0.4 0.4 0.2 0.4 0.2 0.4 0 0.4-0.1 0.4-0.1 0.4-0.2 0.4-0.1 0.4 0.1 0.4 0.2 0.4 0.1 0.4 0.1 0.4 0 0.4-0.1 0.4-0.3 0.4-0.2 0.4-0.2 0.4 0.2 0.4 0.2 0.4 0.3 0.4 0.1 0.4 0 0.4 0 0.4-0.1 0.4-0.2 0.4 0 0.4 0 0.4 0.2 0.4 0.1 0.4 0 0.4 0 0.4-0.1 0.4-0.2 0.4-0.3 0.4-0.1 0.4 0.1 0.4 0.3 0.4 0.2 0.4 0.1 0.4 0 0.4 0 0.4-0.1 0.4-0.1 0.4-0.1 0.4 0.1 0.4 0.1 0.4 0.1 0.4 0 0.4 0 0.4-0.1 0.4-0.2 0.4-0.2 0.4-0.1 0.4 0.1 0.4 0.2 0.4 0.2 0.4 0.1 0.4 0 0.4-0.1 0.4-0.2 0.4-0.2 0.4-0.1 0.4 0.1 0.4 0.2 0.4 0.2 0.4 0.1 0.4 0 0.4 0 0.4-0.2 0.4-0.1 0.4-0.1 0.4 0.1 0.4 0.1 0.4 0.2 0.4 0 0.4 0 0.4-0.1 0.4-0.2 0.4-0.3 0.4-0.1 0.4 0.1 0.4 0.3 0.4 0.2 0.4 0.1 0.4 0 0.4-0.1 0.4-0.2 0.4-0.2 0.4-0.1 0.4 0.1 0.4 0.2 0.4 0.2 0.4 0.1 0.4 0 0.4-0.1 0.4-0.2 0.4-0.2 0.4-0.1 0.4 0.1 0.4 0.2 0.4 0.2 0.4 0.1 0.4 0 0.4-0.1 0.4-0.3 0.4-0.3 0.4-0.1 0.4 0.1 0.4 0.3 0.4 0.3 0.4 0.1 0.4 0 0.4 0 0.4-0.2 0.4-0.1 0.4-0.1 0.4 0.1 0.4 0.1 0.4 0.2 0.4 0 0.4 0 0.4 0 0.4-0.1 0.4-0.1 0.4-0.1 0.4 0.1 0.4 0.1 0.4 0.1 0.4 0 0.4 0 0.4 0 0.4-0.2 0.4-0.2 0.4 0 0.4 0 0.4 0.2 0.4 0.1 0.4 0.1 0.4 0 0.4-0.1 0.4-0.2 0.4-0.3 0.4-0.1 0.4 0.1 0.4 0.3 0.4 0.2 0.4 0.1 0.4 0 0.4 0 0.4-0.2 0.4-0.1 0.4-0.1 0.4 0.1 0.4 0.1 0.4 0.2 0.4 0 0.4 0 0.4 0 0.4-0.2 0.4-0.1 0.4-0.1 0.4 0.1 0.4 0.1 0.4 0.2 0.4 0 0.4 0 0.4-0.1 0.4-0.3 0.4-0.3 0.4-0.1 0.4 0.1 0.4 0.3 0.4 0.3 0.4 0.1 0.4 0 0.4-0.1 0.4-0.2 0.4-0.3 0.4-0.1 0.4 0.1 0.4 0.3 0.4 0.2 0.4 0.1 0.4 0 0.4-0.1 0.4-0.1 0.4-0.2 0.4-0.1 0.4 0.1 0.4 0.2 0.4 0.1 0.4 0.1 0.4 0 0.4-0.1 0.4-0.3 0.4-0.3 0.4-0.1 0.4 0.1 0.4 0.3 0.4 0.3 0.4 0.1 0.4 0 0.4-0.1 0.4-0.1 0.4-0.2 0.4-0.1 0.4 0.1 0.4 0.2 0.4 0.1 0.4 0.1 0.4 0 0.4-0.1 0.4-0.2 0.4-0.2 0.4-0.1 0.4 0.1 0.4 0.2 0.4 0.2 0.4 0.1 0.4 0 0.4-0.1 0.4-0.2 0.4-0.2 0.4-0.1 0.4 0.1 0.4 0.2 0.4 0.2 0.4 0.1 0.4-0.1 0.4-0.2 0.4-0.4 0.4-0.5 0.4-0.2 0.4 0.2 0.4 0.5 0.4 0.4 0.4 0.2 0.4 0 0.4-0.1 0.4-0.3 0.4-0.4 0.4-0.1 0.4 0.1 0.4 0.4 0.4 0.3 0.4 0.1 0.4 0 0.4-0.2 0.4-0.4 0.4-0.5 0.4-0.2 0.4 0.2 0.4 0.5 0.4 0.4 0.4 0.2 0.4 0 0.4-0.1 0.4-0.3 0.4-0.3 0.4-0.1 0.4 0.1 0.4 0.4 0.4 0.2 0.4 0.2 0.4 0 0.4-0.2 0.4-0.2 0.4-0.4 0.4-0.1 0.4 0.1 0.4 0.4 0.4 0.2 0.4 0.2 0.4 0 0.4-0.1 0.4-0.2 0.4-0.3 0.4-0.1 0.4 0.1 0.4 0.3 0.4 0.2 0.4 0.1 0.4 0 0.4 0 0.4-0.2 0.4-0.1 0.4-0.1 0.4 0.1 0.4 0.1 0.4 0.2 0.4 0 0.4 0 0.4-0.1 0.4-0.1 0.4-0.2 0.4-0.1 0.4 0.1 0.4 0.2 0.4 0.1 0.4 0.1 0.4 0 0.4-0.1 0.4-0.3 0.4-0.2 0.4-0.1 0.4 0.1 0.4 0.2 0.4 0.3 0.4 0.1 0.4 0 0.4-0.1 0.4-0.3 0.4-0.3 0.4-0.1 0.4 0.1 0.4 0.3 0.4 0.3 0.4 0.1 0.4 0 0.4-0.1 0.4-0.3 0.4-0.3 0.4-0.1 0.4 0.1 0.4 0.3 0.4 0.3 0.4 0.1 0.4 0 0.4-0.1 0.4-0.1 0.4-0.2 0.4-0.1 0.4 0.1 0.4 0.2 0.4 0.1 0.4 0.1 0.4 0 0.4-0.1 0.4-0.2 0.4-0.2 0.4-0.1 0.4 0.1 0.4 0.2 0.4 0.2 0.4 0.1 0.4 0 0.4-0.1 0.4-0.1 0.4-0.2 0.4-0.1 0.4 0.1 0.4 0.2 0.4 0.2 0.4 0 0.4 0 0.4 0 0.4-0.1 0.4-0.2 0.4 0 0.4 0 0.4 0.2 0.4 0.1 0.4 0 0.4 0 0.4-0.1 0.4-0.2 0.4-0.2 0.4-0.1 0.4 0.1 0.4 0.2 0.4 0.2 0.4 0.1 0.4 0 0.4-0.1 0.4-0.3 0.4-0.2 0.4-0.2 0.4 0.2 0.4 0.2 0.4 0.3 0.4 0.1 0.4 0 0.4-0.1 0.4-0.3 0.4-0.2 0.4-0.2 0.4 0.2 0.4 0.2 0.4 0.3 0.4 0.1 0.4 0 0.4-0.1 0.4-0.2 0.4-0.3 0.4-0.1 0.4 0.1 0.4 0.3 0.4 0.2 0.4 0.1 0.4 0 0.4-0.2 0.4-0.2 0.4-0.3 0.4-0.1 0.4 0.1 0.4 0.3 0.4 0.3 0.4 0.1 0.4 0 0.4 0 0.4-0.2 0.4-0.2 0.4 0 0.4 0 0.4 0.2 0.4 0.1 0.4 0.1 0.4 0 0.4-0.2 0.4-0.2 0.4-0.4 0.4-0.1 0.4 0.1 0.4 0.4 0.4 0.2 0.4 0.2 0.4 0 0.4 0 0.4-0.2 0.4-0.1 0.4-0.1 0.4 0.1 0.4 0.1 0.4 0.2 0.4 0 0.4 0 0.4-0.1 0.4-0.1 0.4-0.2 0.4-0.1 0.4 0.1 0.4 0.2 0.4 0.1 0.4 0.1 0.4 0 0.4-0.2 0.4-0.2 0.4-0.4 0.4-0.1 0.4 0.1 0.4 0.4 0.4 0.2 0.4 0.2 0.4 0 0.4-0.1 0.4-0.2 0.4-0.2 0.4-0.1 0.4 0.1 0.4 0.2 0.4 0.1 0.4 0 0.4-0.4 0.4-1 0.4-1.9 0.4-2.1 0.4-0.9 0.4 0.9 0.4 2.1 0.4 1.8 0.4 0.9 0.4 0.1 0.4-0.7 0.4-1.6 0.4-1.7 0.4-0.8 0.4 0.7 0.4 1.8 0.4 1.5 0.4 0.7 0.4-0.3 0.4-1.6 0.4-3 0.4-3.3 0.4-1.5 0.4 1.5 0.4 3.3 0.4 3 0.4 1.5 0.4 0.2 0.4-1 0.4-2 0.4-2.3 0.4-1 0.4 1 0.4 2.4 0.4 2 0.4 1.1 0.4 0.1 0.4-0.8 0.4-1.5 0.4-1.7 0.4-0.8 0.4 0.8 0.4 1.8 0.4 1.5 0.4 0.8 0.4 0.2 0.4-0.3 0.4-0.8 0.4-0.9 0.4-0.4 0.4 0.4 0.4 0.9 0.4 0.8 0.4 0.5 0.4 0.1 0.4-0.1 0.4-0.3 0.4-0.4 0.4-0.1 0.4 0.2 0.4 0.3 0.4 0.3 0.4 0.2 0.4 0 0.4-0.1 0.4-0.1 0.4-0.2 0.4 0 0.4 0 0.4 0.2 0.4 0.2 0.4 0 0.4 0 0.4 0 0.4-0.2 0.4-0.1 0.4-0.1 0.4 0.1 0.4 0.1 0.4 0.2 0.4 0 0.4 0 0.4-0.1 0.4-0.1 0.4-0.2 0.4-0.1 0.4 0.1 0.4 0.2 0.4 0.1 0.4 0.1 0.4 0 0.4-0.1 0.4-0.2 0.4-0.2 0.4-0.1 0.4 0.1 0.4 0.2 0.4 0.2 0.4 0.1 0.4 0 0.4-0.1 0.4-0.2 0.4-0.2 0.4-0.1 0.4 0.1 0.4 0.2 0.4 0.2 0.4 0.1 0.4 0 0.4-0.1 0.4-0.1 0.4-0.2 0.4-0.1 0.4 0.1 0.4 0.2 0.4 0.1 0.4 0.1 0.4 0 0.4-0.1 0.4-0.3 0.4-0.2 0.4-0.2 0.4 0.2 0.4 0.2 0.4 0.3 0.4 0.1 0.4-0.1 0.4-0.2 0.4-0.4 0.4-0.5 0.4-0.2 0.4 0.2 0.4 0.5 0.4 0.4 0.4 0.2 0.4 0.1 0.4-0.1 0.4-0.2 0.4-0.3 0.4-0.1 0.4 0.1 0.4 0.2 0.4 0.2 0.4 0.1 0.4-0.1 0.4-0.5 0.4-0.8 0.4-0.9 0.4-0.4 0.4 0.4 0.4 0.9 0.4 0.8 0.4 0.5 0.4 0 0.4-0.1 0.4-0.4 0.4-0.5 0.4-0.2 0.4 0.2 0.4 0.5 0.4 0.4 0.4 0.2 0.4 0.1 0.4-0.1 0.4-0.2 0.4-0.3 0.4-0.1 0.4 0.1 0.4 0.3 0.4 0.2 0.4 0.1 0.4 0 0.4-0.2 0.4-0.2 0.4-0.3 0.4-0.2 0.4 0.2 0.4 0.3 0.4 0.2 0.4 0.2 0.4 0 0.4-0.1 0.4-0.1 0.4-0.2 0.4-0.1 0.4 0.1 0.4 0.2 0.4 0.1 0.4 0.1 0.4 0 0.4 0 0.4-0.1 0.4-0.2 0.4 0 0.4 0 0.4 0.2 0.4 0.1 0.4 0 0.4-0.1 0.4-0.2 0.4-0.4 0.4-0.5 0.4-0.2 0.4 0.2 0.4 0.5 0.4 0.4 0.4 0.2 0.4 0 0.4-0.1 0.4-0.3 0.4-0.3 0.4-0.1 0.4 0.1 0.4 0.3 0.4 0.3 0.4 0.1 0.4-0.1 0.4-0.5 0.4-0.9 0.4-1 0.4-0.4 0.4 0.4 0.4 1 0.4 0.9 0.4 0.4 0.4 0.1 0.4-0.1 0.4-0.4 0.4-0.5 0.4-0.2 0.4 0.2 0.4 0.4 0.4 0.4 0.4 0 0.4-0.5 0.4-1.4 0.4-2.7 0.4-3 0.4-1.3 0.4 1.3 0.4 3 0.4 2.6 0.4 1.3 0.4 0.1 0.4-0.9 0.4-1.8 0.4-2.2 0.4-1 0.4 0.8 0.4 2 0.4 1.6 0.4 0.3 0.4-2 0.4-6 0.4-11 0.4-12.4 0.4-5.7 0.4 5.6 0.4 12.2 0.4 10.8 0.4 5.4 0.4 0.5 0.4-4.1 0.4-8.5 0.4-9.7 0.4-4.5 0.4 4.5 0.4 9.8 0.4 8.6 0.4 4.2 0.4 0.1 0.4-4.2 0.4-8.4 0.4-9.7 0.4-4.3 0.4 4.4 0.4 9.7 0.4 8.5 0.4 4.5 0.4 0.7 0.4-2.3 0.4-5.2 0.4-5.9 0.4-2.7 0.4 2.8 0.4 6.1 0.4 5.3 0.4 2.9 0.4 0.6 0.4-0.9 0.4-2.3 0.4-2.6 0.4-1.2 0.4 1.3 0.4 2.7 0.4 2.4 0.4 1.3 0.4 0.4 0.4-0.3 0.4-0.7 0.4-0.9 0.4-0.4 0.4 0.4 0.4 0.9 0.4 0.8 0.4 0.5 0.4 0.1 0.4-0.1 0.4-0.3 0.4-0.4 0.4-0.1 0.4 0.2 0.4 0.3 0.4 0.3 0.4 0.2 0.4 0 0.4 0 0.4-0.1 0.4-0.1 0.4-0.1 0.4 0.1 0.4 0.1 0.4 0.1 0.4 0 0.4 0 0.4-0.1 0.4-0.3 0.4-0.3 0.4-0.1 0.4 0.1 0.4 0.3 0.4 0.3 0.4 0.1 0.4 0 0.4 0 0.4-0.1 0.4-0.1 0.4-0.1 0.4 0.1 0.4 0.1 0.4 0.1 0.4 0 0.4 0 0.4-0.1 0.4-0.2 0.4-0.3 0.4-0.1 0.4 0.1 0.4 0.3 0.4 0.2 0.4 0.1 0.4 0 0.4-0.1 0.4-0.2 0.4-0.2 0.4-0.1 0.4 0.1 0.4 0.2 0.4 0.2 0.4 0.1 0.4 0 0.4-0.2 0.4-0.4 0.4-0.3 0.4-0.2 0.4 0.2 0.4 0.3 0.4 0.4 0.4 0.2 0.4 0 0.4-0.1 0.4-0.2 0.4-0.3 0.4-0.1 0.4 0.1 0.4 0.2 0.4 0.2 0.4 0 0.4-0.3 0.4-0.8 0.4-1.6 0.4-1.8 0.4-0.8 0.4 0.8 0.4 1.7 0.4 1.6 0.4 0.8 0.4 0.1 0.4-0.6 0.4-1.2 0.4-1.4 0.4-0.6 0.4 0.6 0.4 1.4 0.4 1.2 0.4 0.6 0.4 0 0.4-0.6 0.4-1.2 0.4-1.4 0.4-0.6 0.4 0.6 0.4 1.4 0.4 1.2 0.4 0.7 0.4 0.2 0.4-0.2 0.4-0.5 0.4-0.6 0.4-0.2 0.4 0.3 0.4 0.5 0.4 0.5 0.4 0.3 0.4 0.1 0.4-0.1 0.4-0.2 0.4-0.3 0.4-0.1 0.4 0.1 0.4 0.3 0.4 0.2 0.4 0.1 0.4 0 0.4-0.1 0.4-0.1 0.4-0.2 0.4-0.1 0.4 0.1 0.4 0.2 0.4 0.1 0.4 0.1 0.4-0.1 0.4-0.4 0.4-0.6 0.4-0.7 0.4-0.3 0.4 0.3 0.4 0.7 0.4 0.6 0.4 0.3 0.4 0.1 0.4-0.1 0.4-0.4 0.4-0.3 0.4-0.2 0.4 0.1 0.4 0.4 0.4 0.3 0.4 0 0.4-0.5 0.4-1.3 0.4-2.3 0.4-2.7 0.4-1.2 0.4 1.2 0.4 2.6 0.4 2.4 0.4 1.1 0.4 0.2 0.4-0.9 0.4-1.8 0.4-2 0.4-1 0.4 1 0.4 2 0.4 1.8 0.4 0.8 0.4-0.3 0.4-1.6 0.4-3.1 0.4-3.5 0.4-1.6 0.4 1.6 0.4 3.4 0.4 3.1 0.4 1.6 0.4 0.2 0.4-1 0.4-2.2 0.4-2.5 0.4-1.1 0.4 1 0.4 2.4 0.4 2 0.4 0.6 0.4-1.4 0.4-4.5 0.4-8.2 0.4-9.4 0.4-4.3 0.4 4.2 0.4 9.2 0.4 8.2 0.4 4.1 0.4 0.4 0.4-3.1 0.4-6.3 0.4-7.2 0.4-3.4 0.4 3.1 0.4 6.9 0.4 5.7 0.4 1.8 0.4-4.2 0.4-13.7 0.4-25.4 0.4-28.6 0.4-13.2 0.4 12.9 0.4 28.3 0.4 25 0.4 12.7 0.4 1 0.4-9.7 0.4-20.1 0.4-23 0.4-10.5 0.4 10.8 0.4 23.2 0.4 20.6 0.4 10.9 0.4 2.4 0.4-4 0.4-9.4 0.4-10.9 0.4-4.9 0.4 5.2 0.4 11.2 0.4 10 0.4 5.3 0.4 1.5 0.4-1.1 0.4-3.1 0.4-3.7 0.4-1.6 0.4 1.8 0.4 3.8 0.4 3.4 0.4 1.9 0.4 0.6 0.4-0.3 0.4-0.7 0.4-0.9 0.4-0.4 0.4 0.4 0.4 1 0.4 0.9 0.4 0.4 0.4 0.2 0.4-0.1 0.4-0.2 0.4-0.2 0.4-0.1 0.4 0.1 0.4 0.2 0.4 0.3 0.4 0.1 0.4 0 0.4 0 0.4-0.1 0.4-0.1 0.4-0.1 0.4 0.1 0.4 0.1 0.4 0.1 0.4 0 0.4 0 0.4 0 0.4-0.1 0.4-0.2 0.4 0 0.4 0 0.4 0.2 0.4 0.1 0.4 0 0.4 0 0.4-0.1 0.4-0.1 0.4-0.2 0.4-0.1 0.4 0.1 0.4 0.2 0.4 0.1 0.4 0.1 0.4 0 0.4 0 0.4-0.1 0.4-0.1 0.4-0.1 0.4 0.1 0.4 0.1 0.4 0.1 0.4 0 0.4 0 0.4-0.1 0.4-0.3 0.4-0.2 0.4-0.2 0.4 0.2 0.4 0.2 0.4 0.3 0.4 0.1 0.4 0 0.4 0 0.4-0.2 0.4-0.1 0.4-0.1 0.4 0.1 0.4 0.1 0.4 0.2 0.4 0 0.4 0 0.4-0.2 0.4-0.3 0.4-0.3 0.4-0.2 0.4 0.2 0.4 0.3 0.4 0.3 0.4 0.2 0.4 0 0.4-0.2 0.4-0.3 0.4-0.4 0.4-0.1 0.4 0.1 0.4 0.4 0.4 0.3 0.4 0.1 0.4-0.1 0.4-0.4 0.4-0.7 0.4-0.8 0.4-0.4 0.4 0.4 0.4 0.8 0.4 0.7 0.4 0.4 0.4 0 0.4-0.3 0.4-0.6 0.4-0.6 0.4-0.3 0.4 0.3 0.4 0.6 0.4 0.6 0.4 0.3 0.4 0 0.4-0.3 0.4-0.5 0.4-0.7 0.4-0.3 0.4 0.3 0.4 0.7 0.4 0.6 0.4 0.3 0.4 0.1 0.4 0 0.4-0.2 0.4-0.1 0.4-0.1 0.4 0.1 0.4 0.1 0.4 0.2 0.4 0 0.4-0.1 0.4-0.2 0.4-0.5 0.4-0.6 0.4-0.2 0.4 0.2 0.4 0.6 0.4 0.4 0.4 0.3 0.4 0 0.4-0.1 0.4-0.3 0.4-0.4 0.4-0.1 0.4 0.1 0.4 0.3 0.4 0.3 0.4 0.1 0.4-0.4 0.4-1 0.4-1.8 0.4-2 0.4-0.9 0.4 0.9 0.4 2 0.4 1.8 0.4 0.9 0.4 0.1 0.4-0.5 0.4-1 0.4-1.3 0.4-0.6 0.4 0.5 0.4 1.2 0.4 1 0.4 0.2 0.4-1 0.4-3.1 0.4-5.6 0.4-6.3 0.4-2.9 0.4 2.9 0.4 6.2 0.4 5.5 0.4 2.7 0.4 0.2 0.4-2.2 0.4-4.5 0.4-5.2 0.4-2.4 0.4 2.4 0.4 5.2 0.4 4.6 0.4 2.3 0.4 0.2 0.4-2 0.4-4.1 0.4-4.6 0.4-2.1 0.4 2.2 0.4 4.7 0.4 4.1 0.4 2.1 0.4 0.5 0.4-1 0.4-2.2 0.4-2.6 0.4-1.2 0.4 1.2 0.4 2.6 0.4 2.3 0.4 1.2 0.4 0 0.4-1 0.4-2.1 0.4-2.4 0.4-1.1 0.4 1.1 0.4 2.4 0.4 2.2 0.4 1.1 0.4 0.1 0.4-0.6 0.4-1.4 0.4-1.6 0.4-0.7 0.4 0.7 0.4 1.6 0.4 1.4 0.4 0.7 0.4 0 0.4-0.7 0.4-1.4 0.4-1.6 0.4-0.7 0.4 0.7 0.4 1.6 0.4 1.4 0.4 0.8 0.4 0.1 0.4-0.4 0.4-0.9 0.4-1 0.4-0.4 0.4 0.4 0.4 1.1 0.4 0.9 0.4 0.4 0.4 0.1 0.4-0.2 0.4-0.4 0.4-0.6 0.4-0.2 0.4 0.2 0.4 0.6 0.4 0.5 0.4 0.2 0.4 0.1 0.4 0 0.4-0.1 0.4-0.1 0.4-0.1 0.4 0.1 0.4 0.1 0.4 0.1 0.4 0 0.4 0 0.4-0.1 0.4-0.2 0.4-0.2 0.4-0.1 0.4 0.1 0.4 0.2 0.4 0.2 0.4 0.1 0.4 0 0.4-0.1 0.4-0.1 0.4-0.2 0.4-0.1 0.4 0.1 0.4 0.2 0.4 0.1 0.4 0.1 0.4 0 0.4-0.1 0.4-0.2 0.4-0.2 0.4-0.1 0.4 0.1 0.4 0.2 0.4 0.2 0.4 0.1 0.4 0 0.4-0.1 0.4-0.2 0.4-0.2 0.4-0.2 0.4 0.2 0.4 0.2 0.4 0.2 0.4 0.1 0.4 0 0.4-0.1 0.4-0.3 0.4-0.2 0.4-0.1 0.4 0.1 0.4 0.2 0.4 0.3 0.4 0.1 0.4 0 0.4-0.2 0.4-0.2 0.4-0.3 0.4-0.1 0.4 0.1 0.4 0.3 0.4 0.2 0.4 0.2 0.4 0 0.4-0.1 0.4-0.2 0.4-0.3 0.4-0.1 0.4 0.1 0.4 0.3 0.4 0.2 0.4 0.1 0.4 0 0.4 0 0.4-0.2 0.4-0.1 0.4-0.1 0.4 0.1 0.4 0.1 0.4 0.2 0.4 0 0.4 0 0.4-0.1 0.4-0.2 0.4-0.2 0.4 0 0.4 0 0.4 0.2 0.4 0.2 0.4 0.1 0.4 0 0.4 0 0.4-0.2 0.4-0.1 0.4-0.1 0.4 0.1 0.4 0.1 0.4 0.2 0.4 0 0.4 0 0.4 0 0.4-0.1 0.4-0.1 0.4-0.1 0.4 0.1 0.4 0.1 0.4 0.1 0.4 0 0.4 0 0.4-0.1 0.4-0.1 0.4-0.3 0.4 0 0.4 0 0.4 0.2 0.4 0.2 0.4 0.1 0.4 0 0.4-0.1 0.4-0.2 0.4-0.3 0.4-0.1 0.4 0.1 0.4 0.3 0.4 0.2 0.4 0.1" fill="none" stroke="#1c1c1c" stroke-width="1.1" stroke-linejoin="round"/>
<path d="M47.0 425.8l0.4 0.1 0.4 0.1 0.4 0.2 0.4 0 0.4 0 0.4 0 0.4-0.2 0.4-0.2 0.4 0 0.4 0 0.4 0.2 0.4 0.2 0.4 0 0.4 0 0.4-0.1 0.4-0.1 0.4-0.2 0.4-0.1 0.4 0.1 0.4 0.2 0.4 0.1 0.4 0.1 0.4 0 0.4 0 0.4-0.1 0.4-0.2 0.4-0.1 0.4 0.1 0.4 0.2 0.4 0.1 0.4 0 0.4 0 0.4-0.1 0.4-0.1 0.4-0.2 0.4-0.1 0.4 0.1 0.4 0.2 0.4 0.1 0.4 0.1 0.4 0 0.4-0.1 0.4-0.2 0.4-0.2 0.4-0.1 0.4 0.1 0.4 0.2 0.4 0.2 0.4 0.1 0.4 0 0.4 0 0.4-0.1 0.4-0.1 0.4 0 0.4 0 0.4 0.1 0.4 0.1 0.4 0 0.4 0 0.4-0.1 0.4-0.2 0.4-0.2 0.4-0.1 0.4 0.1 0.4 0.2 0.4 0.2 0.4 0.1 0.4 0 0.4-0.1 0.4-0.1 0.4-0.2 0.4-0.1 0.4 0.1 0.4 0.2 0.4 0.1 0.4 0.1 0.4 0 0.4 0 0.4-0.1 0.4-0.1 0.4 0 0.4 0 0.4 0.1 0.4 0.1 0.4 0.1 0.4-0.1 0.4 0 0.4-0.2 0.4-0.1 0.4-0.1 0.4 0.1 0.4 0.1 0.4 0.2 0.4 0 0.4 0 0.4 0 0.4-0.2 0.4-0.2 0.4-0.1 0.4 0.1 0.4 0.2 0.4 0.1 0.4 0.1 0.4 0 0.4-0.1 0.4-0.2 0.4-0.2 0.4-0.1 0.4 0.1 0.4 0.2 0.4 0.2 0.4 0.1 0.4 0 0.4 0 0.4-0.1 0.4-0.2 0.4 0 0.4 0 0.4 0.2 0.4 0.1 0.4 0 0.4 0 0.4 0 0.4-0.2 0.4-0.2 0.4 0 0.4 0 0.4 0.2 0.4 0.2 0.4 0 0.4 0 0.4-0.1 0.4-0.2 0.4-0.2 0.4-0.1 0.4 0.1 0.4 0.2 0.4 0.2 0.4 0.1 0.4 0 0.4-0.1 0.4-0.2 0.4-0.2 0.4-0.1 0.4 0.1 0.4 0.2 0.4 0.2 0.4 0.1 0.4 0 0.4-0.1 0.4-0.2 0.4-0.2 0.4-0.1 0.4 0.1 0.4 0.2 0.4 0.2 0.4 0.1 0.4 0 0.4 0 0.4-0.2 0.4-0.1 0.4-0.1 0.4 0.1 0.4 0.1 0.4 0.2 0.4 0 0.4 0 0.4-0.1 0.4-0.1 0.4-0.2 0.4-0.1 0.4 0.1 0.4 0.2 0.4 0.1 0.4 0.1 0.4 0 0.4-0.1 0.4-0.2 0.4-0.2 0.4-0.1 0.4 0.1 0.4 0.2 0.4 0.2 0.4 0.1 0.4 0 0.4 0 0.4-0.2 0.4-0.1 0.4-0.1 0.4 0.1 0.4 0.1 0.4 0.2 0.4 0 0.4 0 0.4-0.1 0.4-0.1 0.4-0.2 0.4-0.1 0.4 0.1 0.4 0.2 0.4 0.2 0.4 0 0.4 0 0.4 0 0.4-0.1 0.4-0.1 0.4-0.1 0.4 0.1 0.4 0.1 0.4 0.1 0.4 0 0.4 0 0.4-0.1 0.4-0.1 0.4-0.2 0.4-0.1 0.4 0.1 0.4 0.2 0.4 0.1 0.4 0.1 0.4 0 0.4-0.1 0.4-0.1 0.4-0.2 0.4-0.1 0.4 0.1 0.4 0.2 0.4 0.1 0.4 0.1 0.4 0 0.4-0.1 0.4-0.1 0.4-0.2 0.4-0.1 0.4 0.1 0.4 0.2 0.4 0.1 0.4 0.1 0.4 0 0.4-0.1 0.4-0.1 0.4-0.2 0.4-0.1 0.4 0.1 0.4 0.2 0.4 0.1 0.4 0.1 0.4 0 0.4 0 0.4-0.1 0.4-0.1 0.4-0.1 0.4 0.1 0.4 0.1 0.4 0.1 0.4 0 0.4 0 0.4-0.1 0.4-0.2 0.4-0.2 0.4-0.1 0.4 0.1 0.4 0.2 0.4 0.2 0.4 0.1 0.4 0 0.4-0.1 0.4-0.2 0.4-0.2 0.4-0.1 0.4 0.1 0.4 0.2 0.4 0.2 0.4 0.1 0.4 0 0.4-0.1 0.4-0.2 0.4-0.2 0.4-0.1 0.4 0.1 0.4 0.2 0.4 0.2 0.4 0.1 0.4 0 0.4 0 0.4-0.2 0.4-0.1 0.4-0.1 0.4 0.1 0.4 0.1 0.4 0.2 0.4 0 0.4 0 0.4-0.1 0.4-0.1 0.4-0.2 0.4-0.1 0.4 0.1 0.4 0.2 0.4 0.1 0.4 0.1 0.4 0 0.4 0 0.4-0.1 0.4-0.2 0.4 0 0.4 0 0.4 0.2 0.4 0.1 0.4 0 0.4 0 0.4-0.1 0.4-0.2 0.4-0.2 0.4-0.1 0.4 0.1 0.4 0.2 0.4 0.2 0.4 0.1 0.4 0 0.4-0.1 0.4-0.2 0.4-0.2 0.4-0.1 0.4 0.1 0.4 0.2 0.4 0.2 0.4 0.1 0.4 0 0.4 0 0.4-0.1 0.4-0.2 0.4 0 0.4 0 0.4 0.2 0.4 0.1 0.4 0 0.4 0.1 0.4-0.1 0.4-0.1 0.4-0.1 0.4 0 0.4 0 0.4 0.1 0.4 0.1 0.4 0.1 0.4-0.1 0.4 0 0.4-0.2 0.4-0.1 0.4-0.1 0.4 0.1 0.4 0.1 0.4 0.2 0.4 0 0.4 0 0.4 0 0.4-0.2 0.4-0.1 0.4-0.1 0.4 0.1 0.4 0.1 0.4 0.2 0.4 0 0.4 0 0.4-0.1 0.4-0.1 0.4-0.2 0.4-0.1 0.4 0.1 0.4 0.2 0.4 0.1 0.4 0.1 0.4 0 0.4 0 0.4-0.2 0.4-0.1 0.4-0.1 0.4 0.1 0.4 0.1 0.4 0.2 0.4 0 0.4 0.1 0.4-0.1 0.4-0.1 0.4 0 0.4-0.1 0.4 0.1 0.4 0 0.4 0.1 0.4 0 0.4 0 0.4-0.1 0.4-0.1 0.4-0.2 0.4-0.1 0.4 0.1 0.4 0.2 0.4 0.1 0.4 0.1 0.4 0 0.4-0.1 0.4-0.2 0.4-0.3 0.4-0.1 0.4 0.1 0.4 0.3 0.4 0.2 0.4 0.1 0.4 0 0.4-0.1 0.4-0.1 0.4-0.2 0.4-0.1 0.4 0.1 0.4 0.2 0.4 0.1 0.4 0.1 0.4 0 0.4-0.1 0.4-0.2 0.4-0.3 0.4-0.1 0.4 0.1 0.4 0.3 0.4 0.2 0.4 0.1 0.4 0 0.4 0 0.4-0.2 0.4-0.1 0.4-0.1 0.4 0.1 0.4 0.1 0.4 0.2 0.4 0 0.4 0.1 0.4-0.1 0.4-0.1 0.4-0.1 0.4 0 0.4 0 0.4 0.1 0.4 0.1 0.4 0 0.4 0 0.4-0.1 0.4-0.1 0.4-0.2 0.4-0.1 0.4 0.1 0.4 0.2 0.4 0.1 0.4 0.1 0.4 0 0.4 0 0.4-0.1 0.4-0.1 0.4-0.1 0.4 0.1 0.4 0.1 0.4 0.1 0.4 0.1 0.4-0.1 0.4 0 0.4-0.1 0.4-0.2 0.4 0 0.4 0 0.4 0.2 0.4 0.1 0.4 0 0.4 0 0.4-0.1 0.4-0.1 0.4-0.2 0.4-0.1 0.4 0.1 0.4 0.2 0.4 0.1 0.4 0.1 0.4 0 0.4 0 0.4-0.1 0.4-0.1 0.4 0 0.4 0 0.4 0.1 0.4 0.1 0.4 0.1 0.4 0 0.4-0.1 0.4-0.1 0.4-0.1 0.4 0 0.4 0 0.4 0.1 0.4 0.1 0.4 0 0.4 0 0.4 0 0.4-0.2 0.4-0.1 0.4-0.1 0.4 0.1 0.4 0.1 0.4 0.2 0.4 0 0.4 0 0.4-0.1 0.4-0.1 0.4-0.2 0.4-0.1 0.4 0.1 0.4 0.2 0.4 0.1 0.4 0.1 0.4 0 0.4-0.1 0.4-0.2 0.4-0.2 0.4-0.1 0.4 0.1 0.4 0.2 0.4 0.2 0.4 0.1 0.4 0 0.4-0.1 0.4-0.1 0.4-0.2 0.4-0.1 0.4 0.1 0.4 0.2 0.4 0.1 0.4 0.1 0.4 0 0.4-0.1 0.4-0.2 0.4-0.2 0.4-0.1 0.4 0.1 0.4 0.2 0.4 0.2 0.4 0.1 0.4 0 0.4 0 0.4-0.2 0.4-0.1 0.4-0.1 0.4 0.1 0.4 0.1 0.4 0.2 0.4 0 0.4 0 0.4-0.1 0.4-0.2 0.4-0.2 0.4-0.1 0.4 0.1 0.4 0.2 0.4 0.2 0.4 0.1 0.4 0 0.4 0 0.4-0.1 0.4-0.1 0.4 0 0.4 0 0.4 0.1 0.4 0.1 0.4 0.1 0.4 0 0.4-0.1 0.4-0.1 0.4-0.1 0.4-0.1 0.4 0.1 0.4 0.1 0.4 0.1 0.4 0 0.4 0 0.4 0 0.4-0.2 0.4-0.1 0.4-0.1 0.4 0.1 0.4 0.1 0.4 0.2 0.4 0 0.4 0 0.4 0 0.4-0.1 0.4-0.1 0.4-0.1 0.4 0.1 0.4 0.1 0.4 0.1 0.4 0 0.4 0 0.4-0.1 0.4-0.1 0.4-0.2 0.4-0.1 0.4 0.1 0.4 0.2 0.4 0.1 0.4 0.1 0.4 0 0.4-0.1 0.4-0.1 0.4-0.2 0.4-0.1 0.4 0.1 0.4 0.2 0.4 0.1 0.4 0.1 0.4 0 0.4 0 0.4-0.2 0.4-0.1 0.4-0.1 0.4 0.1 0.4 0.1 0.4 0.2 0.4 0 0.4 0 0.4-0.1 0.4-0.2 0.4-0.2 0.4-0.1 0.4 0.1 0.4 0.2 0.4 0.1 0.4 0 0.4-0.3 0.4-0.8 0.4-1.6 0.4-1.7 0.4-0.8 0.4 0.8 0.4 1.7 0.4 1.5 0.4 0.8 0.4 0.1 0.4-0.6 0.4-1.2 0.4-1.3 0.4-0.6 0.4 0.6 0.4 1.3 0.4 1.2 0.4 0.5 0.4-0.2 0.4-1.2 0.4-2.2 0.4-2.6 0.4-1.1 0.4 1.1 0.4 2.5 0.4 2.3 0.4 1.1 0.4 0.2 0.4-0.6 0.4-1.4 0.4-1.5 0.4-0.7 0.4 0.7 0.4 1.6 0.4 1.4 0.4 0.7 0.4 0.1 0.4-0.4 0.4-0.9 0.4-1 0.4-0.5 0.4 0.5 0.4 1 0.4 0.9 0.4 0.5 0.4 0.2 0.4-0.1 0.4-0.2 0.4-0.2 0.4-0.1 0.4 0.1 0.4 0.3 0.4 0.2 0.4 0.1 0.4 0 0.4 0 0.4-0.2 0.4-0.2 0.4 0 0.4 0.1 0.4 0.1 0.4 0.2 0.4 0 0.4 0 0.4 0 0.4-0.1 0.4-0.2 0.4 0 0.4 0 0.4 0.2 0.4 0.1 0.4 0 0.4 0 0.4 0 0.4-0.1 0.4-0.2 0.4 0 0.4 0 0.4 0.2 0.4 0.1 0.4 0 0.4 0 0.4-0.1 0.4-0.2 0.4-0.2 0.4-0.1 0.4 0.1 0.4 0.2 0.4 0.2 0.4 0.1 0.4 0 0.4-0.1 0.4-0.2 0.4-0.2 0.4-0.1 0.4 0.1 0.4 0.2 0.4 0.2 0.4 0.1 0.4 0 0.4 0 0.4-0.1 0.4-0.1 0.4-0.1 0.4 0.1 0.4 0.1 0.4 0.1 0.4 0 0.4 0 0.4-0.1 0.4-0.2 0.4-0.2 0.4-0.1 0.4 0.1 0.4 0.2 0.4 0.2 0.4 0.1 0.4 0 0.4-0.1 0.4-0.2 0.4-0.2 0.4-0.1 0.4 0.1 0.4 0.2 0.4 0.2 0.4 0.1 0.4 0 0.4-0.1 0.4-0.2 0.4-0.2 0.4-0.1 0.4 0.1 0.4 0.2 0.4 0.2 0.4 0.1 0.4 0 0.4 0 0.4-0.2 0.4-0.1 0.4-0.1 0.4 0.1 0.4 0.1 0.4 0.2 0.4 0 0.4 0 0.4-0.1 0.4-0.3 0.4-0.3 0.4-0.1 0.4 0.1 0.4 0.3 0.4 0.3 0.4 0.1 0.4 0 0.4-0.1 0.4-0.2 0.4-0.2 0.4-0.1 0.4 0.1 0.4 0.2 0.4 0.2 0.4 0.1 0.4 0 0.4 0 0.4-0.2 0.4-0.1 0.4-0.1 0.4 0.1 0.4 0.1 0.4 0.2 0.4 0 0.4 0 0.4 0 0.4-0.2 0.4-0.2 0.4 0 0.4 0 0.4 0.2 0.4 0.2 0.4 0 0.4 0 0.4 0 0.4-0.1 0.4-0.1 0.4-0.1 0.4 0.1 0.4 0.1 0.4 0.1 0.4 0 0.4 0 0.4 0 0.4-0.2 0.4-0.1 0.4-0.1 0.4 0.1 0.4 0.1 0.4 0.2 0.4 0 0.4 0 0.4-0.1 0.4-0.2 0.4-0.2 0.4-0.1 0.4 0.1 0.4 0.2 0.4 0.2 0.4 0.1 0.4 0 0.4 0 0.4-0.2 0.4-0.1 0.4-0.1 0.4 0.1 0.4 0.1 0.4 0.1 0.4 0.1 0.4-0.2 0.4-0.3 0.4-0.7 0.4-0.8 0.4-0.4 0.4 0.4 0.4 0.7 0.4 0.7 0.4 0.4 0.4 0.1 0.4-0.1 0.4-0.2 0.4-0.3 0.4-0.1 0.4 0.1 0.4 0.2 0.4 0.2 0.4 0 0.4-0.4 0.4-1.1 0.4-2.1 0.4-2.4 0.4-1.1 0.4 1.1 0.4 2.3 0.4 2.1 0.4 1 0.4 0.1 0.4-0.7 0.4-1.5 0.4-1.7 0.4-0.8 0.4 0.7 0.4 1.5 0.4 1.3 0.4 0.2 0.4-1.8 0.4-5.2 0.4-9.4 0.4-10.6 0.4-4.9 0.4 4.8 0.4 10.5 0.4 9.2 0.4 4.7 0.4 0.4 0.4-3.6 0.4-7.5 0.4-8.5 0.4-3.9 0.4 4 0.4 8.5 0.4 7.6 0.4 3.8 0.4 0.2 0.4-3.1 0.4-6.4 0.4-7.4 0.4-3.3 0.4 3.4 0.4 7.4 0.4 6.6 0.4 3.4 0.4 0.6 0.4-1.5 0.4-3.6 0.4-4 0.4-1.9 0.4 2 0.4 4.1 0.4 3.7 0.4 2 0.4 0.5 0.4-0.7 0.4-1.5 0.4-1.7 0.4-0.8 0.4 0.8 0.4 1.9 0.4 1.6 0.4 0.9 0.4 0.2 0.4 0 0.4-0.4 0.4-0.3 0.4-0.2 0.4 0.2 0.4 0.4 0.4 0.4 0.4 0.2 0.4 0 0.4-0.1 0.4-0.1 0.4-0.2 0.4 0 0.4 0 0.4 0.2 0.4 0.2 0.4 0 0.4 0.1 0.4-0.1 0.4-0.1 0.4 0 0.4-0.1 0.4 0.1 0.4 0 0.4 0.1 0.4 0 0.4 0 0.4-0.1 0.4-0.2 0.4-0.2 0.4-0.1 0.4 0.1 0.4 0.2 0.4 0.2 0.4 0.1 0.4 0 0.4 0 0.4-0.2 0.4-0.1 0.4-0.1 0.4 0.1 0.4 0.1 0.4 0.2 0.4 0 0.4 0 0.4 0 0.4-0.1 0.4-0.2 0.4-0.1 0.4 0.1 0.4 0.2 0.4 0.1 0.4 0 0.4 0 0.4-0.1 0.4-0.1 0.4-0.2 0.4-0.1 0.4 0.1 0.4 0.2 0.4 0.1 0.4 0.1 0.4 0 0.4-0.2 0.4-0.2 0.4-0.4 0.4-0.1 0.4 0.1 0.4 0.4 0.4 0.2 0.4 0.2 0.4 0 0.4-0.1 0.4-0.1 0.4-0.2 0.4 0 0.4 0 0.4 0.2 0.4 0.1 0.4 0 0.4-0.2 0.4-0.6 0.4-1.1 0.4-1.2 0.4-0.6 0.4 0.5 0.4 1.3 0.4 1.1 0.4 0.5 0.4 0.1 0.4-0.4 0.4-0.9 0.4-0.9 0.4-0.4 0.4 0.4 0.4 1 0.4 0.8 0.4 0.4 0.4 0 0.4-0.4 0.4-0.8 0.4-1 0.4-0.4 0.4 0.4 0.4 1 0.4 0.8 0.4 0.4 0.4 0.1 0.4-0.3 0.4-0.5 0.4-0.6 0.4-0.3 0.4 0.3 0.4 0.6 0.4 0.6 0.4 0.3 0.4 0.1 0.4-0.1 0.4-0.1 0.4-0.1 0.4-0.1 0.4 0.1 0.4 0.1 0.4 0.2 0.4 0 0.4 0 0.4-0.1 0.4-0.1 0.4-0.2 0.4-0.1 0.4 0.1 0.4 0.2 0.4 0.1 0.4 0.1 0.4-0.1 0.4-0.2 0.4-0.4 0.4-0.5 0.4-0.2 0.4 0.2 0.4 0.5 0.4 0.4 0.4 0.2 0.4 0.1 0.4-0.1 0.4-0.2 0.4-0.3 0.4-0.1 0.4 0.1 0.4 0.2 0.4 0.2 0.4-0.1 0.4-0.4 0.4-1.3 0.4-2.3 0.4-2.5 0.4-1.2 0.4 1.1 0.4 2.6 0.4 2.2 0.4 1.2 0.4 0 0.4-0.9 0.4-1.8 0.4-2.2 0.4-0.9 0.4 0.9 0.4 2.2 0.4 1.8 0.4 0.9 0.4-0.2 0.4-1.4 0.4-2.6 0.4-3.1 0.4-1.3 0.4 1.3 0.4 3.1 0.4 2.6 0.4 1.4 0.4 0.1 0.4-0.9 0.4-2 0.4-2.2 0.4-1.1 0.4 1 0.4 2.1 0.4 1.9 0.4 0.6 0.4-1 0.4-3.5 0.4-6.5 0.4-7.3 0.4-3.4 0.4 3.3 0.4 7.3 0.4 6.3 0.4 3.3 0.4 0.2 0.4-2.4 0.4-5 0.4-5.7 0.4-2.7 0.4 2.4 0.4 5.3 0.4 4.4 0.4 0.9 0.4-4.5 0.4-13.9 0.4-25.7 0.4-28.9 0.4-13.3 0.4 13 0.4 28.6 0.4 25.2 0.4 12.8 0.4 1.1 0.4-9.6 0.4-19.9 0.4-22.7 0.4-10.4 0.4 10.7 0.4 23 0.4 20.4 0.4 10.7 0.4 2.4 0.4-4.1 0.4-9.6 0.4-11 0.4-4.9 0.4 5.2 0.4 11.4 0.4 10.1 0.4 5.3 0.4 1.4 0.4-1.4 0.4-3.6 0.4-4.2 0.4-1.9 0.4 2 0.4 4.5 0.4 3.9 0.4 2.1 0.4 0.6 0.4-0.3 0.4-1 0.4-1.1 0.4-0.5 0.4 0.5 0.4 1.3 0.4 1.1 0.4 0.6 0.4 0.2 0.4 0 0.4 0 0.4-0.1 0.4 0 0.4 0 0.4 0.1 0.4 0.1 0.4 0.1 0.4-0.1 0.4 0 0.4-0.2 0.4-0.1 0.4-0.1 0.4 0.1 0.4 0.1 0.4 0.2 0.4 0 0.4 0 0.4 0 0.4-0.2 0.4-0.1 0.4-0.1 0.4 0.1 0.4 0.1 0.4 0.2 0.4 0 0.4 0 0.4-0.1 0.4-0.2 0.4-0.2 0.4-0.1 0.4 0.1 0.4 0.2 0.4 0.2 0.4 0.1 0.4 0 0.4-0.1 0.4-0.2 0.4-0.2 0.4-0.1 0.4 0.1 0.4 0.2 0.4 0.2 0.4 0.1 0.4 0 0.4 0 0.4-0.1 0.4-0.1 0.4-0.1 0.4 0.1 0.4 0.1 0.4 0.1 0.4 0 0.4 0 0.4 0 0.4-0.2 0.4-0.1 0.4-0.1 0.4 0.1 0.4 0.1 0.4 0.2 0.4 0 0.4 0.1 0.4-0.1 0.4-0.1 0.4-0.1 0.4 0 0.4 0 0.4 0.1 0.4 0.1 0.4 0.1 0.4-0.1 0.4 0 0.4-0.2 0.4-0.1 0.4-0.1 0.4 0.1 0.4 0.1 0.4 0.1 0.4 0 0.4-0.1 0.4-0.4 0.4-0.9 0.4-0.9 0.4-0.4 0.4 0.4 0.4 0.9 0.4 0.8 0.4 0.4 0.4 0.1 0.4-0.2 0.4-0.5 0.4-0.6 0.4-0.3 0.4 0.3 0.4 0.6 0.4 0.5 0.4 0.3 0.4 0 0.4-0.1 0.4-0.4 0.4-0.3 0.4-0.2 0.4 0.2 0.4 0.3 0.4 0.4 0.4 0.2 0.4 0 0.4-0.1 0.4-0.2 0.4-0.2 0.4 0 0.4 0 0.4 0.2 0.4 0.2 0.4 0.1 0.4 0 0.4-0.2 0.4-0.2 0.4-0.4 0.4-0.1 0.4 0.1 0.4 0.4 0.4 0.2 0.4 0.2 0.4 0 0.4-0.1 0.4-0.2 0.4-0.2 0.4-0.1 0.4 0.1 0.4 0.2 0.4 0.1 0.4 0 0.4-0.3 0.4-0.9 0.4-1.7 0.4-1.9 0.4-0.8 0.4 0.8 0.4 1.9 0.4 1.6 0.4 0.9 0.4 0.1 0.4-0.5 0.4-1.1 0.4-1.3 0.4-0.6 0.4 0.5 0.4 1.2 0.4 0.9 0.4 0.1 0.4-1.1 0.4-3.5 0.4-6.4 0.4-7.2 0.4-3.4 0.4 3.3 0.4 7.1 0.4 6.3 0.4 3.1 0.4 0.2 0.4-2.5 0.4-5.3 0.4-6.1 0.4-2.7 0.4 2.8 0.4 6.1 0.4 5.3 0.4 2.7 0.4 0.3 0.4-1.9 0.4-4.2 0.4-4.6 0.4-2.2 0.4 2.2 0.4 4.8 0.4 4.2 0.4 2.2 0.4 0.5 0.4-1 0.4-2.2 0.4-2.5 0.4-1.2 0.4 1.2 0.4 2.6 0.4 2.3 0.4 1.1 0.4 0.1 0.4-1 0.4-2 0.4-2.2 0.4-1 0.4 1 0.4 2.3 0.4 2 0.4 1 0.4 0.2 0.4-0.6 0.4-1.4 0.4-1.5 0.4-0.6 0.4 0.6 0.4 1.5 0.4 1.3 0.4 0.6 0.4-0.2 0.4-1.2 0.4-2.3 0.4-2.5 0.4-1.2 0.4 1.2 0.4 2.5 0.4 2.3 0.4 1.2 0.4 0.1 0.4-0.7 0.4-1.5 0.4-1.8 0.4-0.8 0.4 0.8 0.4 1.8 0.4 1.6 0.4 0.9 0.4 0.2 0.4-0.2 0.4-0.5 0.4-0.6 0.4-0.2 0.4 0.3 0.4 0.6 0.4 0.5 0.4 0.3 0.4 0.1 0.4-0.1 0.4-0.1 0.4-0.1 0.4-0.1 0.4 0.1 0.4 0.1 0.4 0.2 0.4 0 0.4 0 0.4 0 0.4-0.1 0.4-0.2 0.4 0 0.4 0 0.4 0.2 0.4 0.1 0.4 0 0.4 0 0.4 0 0.4-0.1 0.4-0.1 0.4-0.1 0.4 0.1 0.4 0.1 0.4 0.1 0.4 0 0.4 0 0.4 0 0.4-0.2 0.4-0.2 0.4-0.1 0.4 0.1 0.4 0.2 0.4 0.1 0.4 0.1 0.4 0 0.4-0.1 0.4-0.2 0.4-0.2 0.4-0.1 0.4 0.1 0.4 0.2 0.4 0.2 0.4 0.1 0.4 0 0.4 0 0.4-0.1 0.4-0.1 0.4 0 0.4 0 0.4 0.1 0.4 0.1 0.4 0 0.4 0 0.4-0.1 0.4-0.1 0.4-0.2 0.4-0.1 0.4 0.1 0.4 0.2 0.4 0.1 0.4 0.1 0.4 0 0.4 0 0.4-0.1 0.4 0 0.4-0.1 0.4 0.1 0.4 0 0.4 0.1 0.4 0.1 0.4 0 0.4-0.1 0.4-0.1 0.4-0.1 0.4-0.1 0.4 0.1 0.4 0.1 0.4 0.1 0.4 0.1 0.4 0 0.4-0.1 0.4-0.1 0.4-0.1 0.4-0.1 0.4 0.1 0.4 0.1 0.4 0.1 0.4 0 0.4 0 0.4-0.1 0.4-0.1 0.4-0.2 0.4-0.1 0.4 0.1 0.4 0.2 0.4 0.1 0.4 0.1 0.4 0 0.4 0 0.4-0.1 0.4-0.2 0.4 0 0.4 0 0.4 0.2 0.4 0.1 0.4 0 0.4 0 0.4 0 0.4-0.1 0.4-0.2 0.4 0 0.4 0 0.4 0.2 0.4 0.1 0.4 0 0.4 0 0.4 0 0.4-0.2 0.4-0.2 0.4-0.1 0.4 0.1 0.4 0.2 0.4 0.2 0.4 0L664.2 426.5L47.0 426.5Z" fill="#e8e8e8"/>
<path d="M47.0 425.8l0.4 0.1 0.4 0.1 0.4 0.2 0.4 0 0.4 0 0.4 0 0.4-0.2 0.4-0.2 0.4 0 0.4 0 0.4 0.2 0.4 0.2 0.4 0 0.4 0 0.4-0.1 0.4-0.1 0.4-0.2 0.4-0.1 0.4 0.1 0.4 0.2 0.4 0.1 0.4 0.1 0.4 0 0.4 0 0.4-0.1 0.4-0.2 0.4-0.1 0.4 0.1 0.4 0.2 0.4 0.1 0.4 0 0.4 0 0.4-0.1 0.4-0.1 0.4-0.2 0.4-0.1 0.4 0.1 0.4 0.2 0.4 0.1 0.4 0.1 0.4 0 0.4-0.1 0.4-0.2 0.4-0.2 0.4-0.1 0.4 0.1 0.4 0.2 0.4 0.2 0.4 0.1 0.4 0 0.4 0 0.4-0.1 0.4-0.1 0.4 0 0.4 0 0.4 0.1 0.4 0.1 0.4 0 0.4 0 0.4-0.1 0.4-0.2 0.4-0.2 0.4-0.1 0.4 0.1 0.4 0.2 0.4 0.2 0.4 0.1 0.4 0 0.4-0.1 0.4-0.1 0.4-0.2 0.4-0.1 0.4 0.1 0.4 0.2 0.4 0.1 0.4 0.1 0.4 0 0.4 0 0.4-0.1 0.4-0.1 0.4 0 0.4 0 0.4 0.1 0.4 0.1 0.4 0.1 0.4-0.1 0.4 0 0.4-0.2 0.4-0.1 0.4-0.1 0.4 0.1 0.4 0.1 0.4 0.2 0.4 0 0.4 0 0.4 0 0.4-0.2 0.4-0.2 0.4-0.1 0.4 0.1 0.4 0.2 0.4 0.1 0.4 0.1 0.4 0 0.4-0.1 0.4-0.2 0.4-0.2 0.4-0.1 0.4 0.1 0.4 0.2 0.4 0.2 0.4 0.1 0.4 0 0.4 0 0.4-0.1 0.4-0.2 0.4 0 0.4 0 0.4 0.2 0.4 0.1 0.4 0 0.4 0 0.4 0 0.4-0.2 0.4-0.2 0.4 0 0.4 0 0.4 0.2 0.4 0.2 0.4 0 0.4 0 0.4-0.1 0.4-0.2 0.4-0.2 0.4-0.1 0.4 0.1 0.4 0.2 0.4 0.2 0.4 0.1 0.4 0 0.4-0.1 0.4-0.2 0.4-0.2 0.4-0.1 0.4 0.1 0.4 0.2 0.4 0.2 0.4 0.1 0.4 0 0.4-0.1 0.4-0.2 0.4-0.2 0.4-0.1 0.4 0.1 0.4 0.2 0.4 0.2 0.4 0.1 0.4 0 0.4 0 0.4-0.2 0.4-0.1 0.4-0.1 0.4 0.1 0.4 0.1 0.4 0.2 0.4 0 0.4 0 0.4-0.1 0.4-0.1 0.4-0.2 0.4-0.1 0.4 0.1 0.4 0.2 0.4 0.1 0.4 0.1 0.4 0 0.4-0.1 0.4-0.2 0.4-0.2 0.4-0.1 0.4 0.1 0.4 0.2 0.4 0.2 0.4 0.1 0.4 0 0.4 0 0.4-0.2 0.4-0.1 0.4-0.1 0.4 0.1 0.4 0.1 0.4 0.2 0.4 0 0.4 0 0.4-0.1 0.4-0.1 0.4-0.2 0.4-0.1 0.4 0.1 0.4 0.2 0.4 0.2 0.4 0 0.4 0 0.4 0 0.4-0.1 0.4-0.1 0.4-0.1 0.4 0.1 0.4 0.1 0.4 0.1 0.4 0 0.4 0 0.4-0.1 0.4-0.1 0.4-0.2 0.4-0.1 0.4 0.1 0.4 0.2 0.4 0.1 0.4 0.1 0.4 0 0.4-0.1 0.4-0.1 0.4-0.2 0.4-0.1 0.4 0.1 0.4 0.2 0.4 0.1 0.4 0.1 0.4 0 0.4-0.1 0.4-0.1 0.4-0.2 0.4-0.1 0.4 0.1 0.4 0.2 0.4 0.1 0.4 0.1 0.4 0 0.4-0.1 0.4-0.1 0.4-0.2 0.4-0.1 0.4 0.1 0.4 0.2 0.4 0.1 0.4 0.1 0.4 0 0.4 0 0.4-0.1 0.4-0.1 0.4-0.1 0.4 0.1 0.4 0.1 0.4 0.1 0.4 0 0.4 0 0.4-0.1 0.4-0.2 0.4-0.2 0.4-0.1 0.4 0.1 0.4 0.2 0.4 0.2 0.4 0.1 0.4 0 0.4-0.1 0.4-0.2 0.4-0.2 0.4-0.1 0.4 0.1 0.4 0.2 0.4 0.2 0.4 0.1 0.4 0 0.4-0.1 0.4-0.2 0.4-0.2 0.4-0.1 0.4 0.1 0.4 0.2 0.4 0.2 0.4 0.1 0.4 0 0.4 0 0.4-0.2 0.4-0.1 0.4-0.1 0.4 0.1 0.4 0.1 0.4 0.2 0.4 0 0.4 0 0.4-0.1 0.4-0.1 0.4-0.2 0.4-0.1 0.4 0.1 0.4 0.2 0.4 0.1 0.4 0.1 0.4 0 0.4 0 0.4-0.1 0.4-0.2 0.4 0 0.4 0 0.4 0.2 0.4 0.1 0.4 0 0.4 0 0.4-0.1 0.4-0.2 0.4-0.2 0.4-0.1 0.4 0.1 0.4 0.2 0.4 0.2 0.4 0.1 0.4 0 0.4-0.1 0.4-0.2 0.4-0.2 0.4-0.1 0.4 0.1 0.4 0.2 0.4 0.2 0.4 0.1 0.4 0 0.4 0 0.4-0.1 0.4-0.2 0.4 0 0.4 0 0.4 0.2 0.4 0.1 0.4 0 0.4 0.1 0.4-0.1 0.4-0.1 0.4-0.1 0.4 0 0.4 0 0.4 0.1 0.4 0.1 0.4 0.1 0.4-0.1 0.4 0 0.4-0.2 0.4-0.1 0.4-0.1 0.4 0.1 0.4 0.1 0.4 0.2 0.4 0 0.4 0 0.4 0 0.4-0.2 0.4-0.1 0.4-0.1 0.4 0.1 0.4 0.1 0.4 0.2 0.4 0 0.4 0 0.4-0.1 0.4-0.1 0.4-0.2 0.4-0.1 0.4 0.1 0.4 0.2 0.4 0.1 0.4 0.1 0.4 0 0.4 0 0.4-0.2 0.4-0.1 0.4-0.1 0.4 0.1 0.4 0.1 0.4 0.2 0.4 0 0.4 0.1 0.4-0.1 0.4-0.1 0.4 0 0.4-0.1 0.4 0.1 0.4 0 0.4 0.1 0.4 0 0.4 0 0.4-0.1 0.4-0.1 0.4-0.2 0.4-0.1 0.4 0.1 0.4 0.2 0.4 0.1 0.4 0.1 0.4 0 0.4-0.1 0.4-0.2 0.4-0.3 0.4-0.1 0.4 0.1 0.4 0.3 0.4 0.2 0.4 0.1 0.4 0 0.4-0.1 0.4-0.1 0.4-0.2 0.4-0.1 0.4 0.1 0.4 0.2 0.4 0.1 0.4 0.1 0.4 0 0.4-0.1 0.4-0.2 0.4-0.3 0.4-0.1 0.4 0.1 0.4 0.3 0.4 0.2 0.4 0.1 0.4 0 0.4 0 0.4-0.2 0.4-0.1 0.4-0.1 0.4 0.1 0.4 0.1 0.4 0.2 0.4 0 0.4 0.1 0.4-0.1 0.4-0.1 0.4-0.1 0.4 0 0.4 0 0.4 0.1 0.4 0.1 0.4 0 0.4 0 0.4-0.1 0.4-0.1 0.4-0.2 0.4-0.1 0.4 0.1 0.4 0.2 0.4 0.1 0.4 0.1 0.4 0 0.4 0 0.4-0.1 0.4-0.1 0.4-0.1 0.4 0.1 0.4 0.1 0.4 0.1 0.4 0.1 0.4-0.1 0.4 0 0.4-0.1 0.4-0.2 0.4 0 0.4 0 0.4 0.2 0.4 0.1 0.4 0 0.4 0 0.4-0.1 0.4-0.1 0.4-0.2 0.4-0.1 0.4 0.1 0.4 0.2 0.4 0.1 0.4 0.1 0.4 0 0.4 0 0.4-0.1 0.4-0.1 0.4 0 0.4 0 0.4 0.1 0.4 0.1 0.4 0.1 0.4 0 0.4-0.1 0.4-0.1 0.4-0.1 0.4 0 0.4 0 0.4 0.1 0.4 0.1 0.4 0 0.4 0 0.4 0 0.4-0.2 0.4-0.1 0.4-0.1 0.4 0.1 0.4 0.1 0.4 0.2 0.4 0 0.4 0 0.4-0.1 0.4-0.1 0.4-0.2 0.4-0.1 0.4 0.1 0.4 0.2 0.4 0.1 0.4 0.1 0.4 0 0.4-0.1 0.4-0.2 0.4-0.2 0.4-0.1 0.4 0.1 0.4 0.2 0.4 0.2 0.4 0.1 0.4 0 0.4-0.1 0.4-0.1 0.4-0.2 0.4-0.1 0.4 0.1 0.4 0.2 0.4 0.1 0.4 0.1 0.4 0 0.4-0.1 0.4-0.2 0.4-0.2 0.4-0.1 0.4 0.1 0.4 0.2 0.4 0.2 0.4 0.1 0.4 0 0.4 0 0.4-0.2 0.4-0.1 0.4-0.1 0.4 0.1 0.4 0.1 0.4 0.2 0.4 0 0.4 0 0.4-0.1 0.4-0.2 0.4-0.2 0.4-0.1 0.4 0.1 0.4 0.2 0.4 0.2 0.4 0.1 0.4 0 0.4 0 0.4-0.1 0.4-0.1 0.4 0 0.4 0 0.4 0.1 0.4 0.1 0.4 0.1 0.4 0 0.4-0.1 0.4-0.1 0.4-0.1 0.4-0.1 0.4 0.1 0.4 0.1 0.4 0.1 0.4 0 0.4 0 0.4 0 0.4-0.2 0.4-0.1 0.4-0.1 0.4 0.1 0.4 0.1 0.4 0.2 0.4 0 0.4 0 0.4 0 0.4-0.1 0.4-0.1 0.4-0.1 0.4 0.1 0.4 0.1 0.4 0.1 0.4 0 0.4 0 0.4-0.1 0.4-0.1 0.4-0.2 0.4-0.1 0.4 0.1 0.4 0.2 0.4 0.1 0.4 0.1 0.4 0 0.4-0.1 0.4-0.1 0.4-0.2 0.4-0.1 0.4 0.1 0.4 0.2 0.4 0.1 0.4 0.1 0.4 0 0.4 0 0.4-0.2 0.4-0.1 0.4-0.1 0.4 0.1 0.4 0.1 0.4 0.2 0.4 0 0.4 0 0.4-0.1 0.4-0.2 0.4-0.2 0.4-0.1 0.4 0.1 0.4 0.2 0.4 0.1 0.4 0 0.4-0.3 0.4-0.8 0.4-1.6 0.4-1.7 0.4-0.8 0.4 0.8 0.4 1.7 0.4 1.5 0.4 0.8 0.4 0.1 0.4-0.6 0.4-1.2 0.4-1.3 0.4-0.6 0.4 0.6 0.4 1.3 0.4 1.2 0.4 0.5 0.4-0.2 0.4-1.2 0.4-2.2 0.4-2.6 0.4-1.1 0.4 1.1 0.4 2.5 0.4 2.3 0.4 1.1 0.4 0.2 0.4-0.6 0.4-1.4 0.4-1.5 0.4-0.7 0.4 0.7 0.4 1.6 0.4 1.4 0.4 0.7 0.4 0.1 0.4-0.4 0.4-0.9 0.4-1 0.4-0.5 0.4 0.5 0.4 1 0.4 0.9 0.4 0.5 0.4 0.2 0.4-0.1 0.4-0.2 0.4-0.2 0.4-0.1 0.4 0.1 0.4 0.3 0.4 0.2 0.4 0.1 0.4 0 0.4 0 0.4-0.2 0.4-0.2 0.4 0 0.4 0.1 0.4 0.1 0.4 0.2 0.4 0 0.4 0 0.4 0 0.4-0.1 0.4-0.2 0.4 0 0.4 0 0.4 0.2 0.4 0.1 0.4 0 0.4 0 0.4 0 0.4-0.1 0.4-0.2 0.4 0 0.4 0 0.4 0.2 0.4 0.1 0.4 0 0.4 0 0.4-0.1 0.4-0.2 0.4-0.2 0.4-0.1 0.4 0.1 0.4 0.2 0.4 0.2 0.4 0.1 0.4 0 0.4-0.1 0.4-0.2 0.4-0.2 0.4-0.1 0.4 0.1 0.4 0.2 0.4 0.2 0.4 0.1 0.4 0 0.4 0 0.4-0.1 0.4-0.1 0.4-0.1 0.4 0.1 0.4 0.1 0.4 0.1 0.4 0 0.4 0 0.4-0.1 0.4-0.2 0.4-0.2 0.4-0.1 0.4 0.1 0.4 0.2 0.4 0.2 0.4 0.1 0.4 0 0.4-0.1 0.4-0.2 0.4-0.2 0.4-0.1 0.4 0.1 0.4 0.2 0.4 0.2 0.4 0.1 0.4 0 0.4-0.1 0.4-0.2 0.4-0.2 0.4-0.1 0.4 0.1 0.4 0.2 0.4 0.2 0.4 0.1 0.4 0 0.4 0 0.4-0.2 0.4-0.1 0.4-0.1 0.4 0.1 0.4 0.1 0.4 0.2 0.4 0 0.4 0 0.4-0.1 0.4-0.3 0.4-0.3 0.4-0.1 0.4 0.1 0.4 0.3 0.4 0.3 0.4 0.1 0.4 0 0.4-0.1 0.4-0.2 0.4-0.2 0.4-0.1 0.4 0.1 0.4 0.2 0.4 0.2 0.4 0.1 0.4 0 0.4 0 0.4-0.2 0.4-0.1 0.4-0.1 0.4 0.1 0.4 0.1 0.4 0.2 0.4 0 0.4 0 0.4 0 0.4-0.2 0.4-0.2 0.4 0 0.4 0 0.4 0.2 0.4 0.2 0.4 0 0.4 0 0.4 0 0.4-0.1 0.4-0.1 0.4-0.1 0.4 0.1 0.4 0.1 0.4 0.1 0.4 0 0.4 0 0.4 0 0.4-0.2 0.4-0.1 0.4-0.1 0.4 0.1 0.4 0.1 0.4 0.2 0.4 0 0.4 0 0.4-0.1 0.4-0.2 0.4-0.2 0.4-0.1 0.4 0.1 0.4 0.2 0.4 0.2 0.4 0.1 0.4 0 0.4 0 0.4-0.2 0.4-0.1 0.4-0.1 0.4 0.1 0.4 0.1 0.4 0.1 0.4 0.1 0.4-0.2 0.4-0.3 0.4-0.7 0.4-0.8 0.4-0.4 0.4 0.4 0.4 0.7 0.4 0.7 0.4 0.4 0.4 0.1 0.4-0.1 0.4-0.2 0.4-0.3 0.4-0.1 0.4 0.1 0.4 0.2 0.4 0.2 0.4 0 0.4-0.4 0.4-1.1 0.4-2.1 0.4-2.4 0.4-1.1 0.4 1.1 0.4 2.3 0.4 2.1 0.4 1 0.4 0.1 0.4-0.7 0.4-1.5 0.4-1.7 0.4-0.8 0.4 0.7 0.4 1.5 0.4 1.3 0.4 0.2 0.4-1.8 0.4-5.2 0.4-9.4 0.4-10.6 0.4-4.9 0.4 4.8 0.4 10.5 0.4 9.2 0.4 4.7 0.4 0.4 0.4-3.6 0.4-7.5 0.4-8.5 0.4-3.9 0.4 4 0.4 8.5 0.4 7.6 0.4 3.8 0.4 0.2 0.4-3.1 0.4-6.4 0.4-7.4 0.4-3.3 0.4 3.4 0.4 7.4 0.4 6.6 0.4 3.4 0.4 0.6 0.4-1.5 0.4-3.6 0.4-4 0.4-1.9 0.4 2 0.4 4.1 0.4 3.7 0.4 2 0.4 0.5 0.4-0.7 0.4-1.5 0.4-1.7 0.4-0.8 0.4 0.8 0.4 1.9 0.4 1.6 0.4 0.9 0.4 0.2 0.4 0 0.4-0.4 0.4-0.3 0.4-0.2 0.4 0.2 0.4 0.4 0.4 0.4 0.4 0.2 0.4 0 0.4-0.1 0.4-0.1 0.4-0.2 0.4 0 0.4 0 0.4 0.2 0.4 0.2 0.4 0 0.4 0.1 0.4-0.1 0.4-0.1 0.4 0 0.4-0.1 0.4 0.1 0.4 0 0.4 0.1 0.4 0 0.4 0 0.4-0.1 0.4-0.2 0.4-0.2 0.4-0.1 0.4 0.1 0.4 0.2 0.4 0.2 0.4 0.1 0.4 0 0.4 0 0.4-0.2 0.4-0.1 0.4-0.1 0.4 0.1 0.4 0.1 0.4 0.2 0.4 0 0.4 0 0.4 0 0.4-0.1 0.4-0.2 0.4-0.1 0.4 0.1 0.4 0.2 0.4 0.1 0.4 0 0.4 0 0.4-0.1 0.4-0.1 0.4-0.2 0.4-0.1 0.4 0.1 0.4 0.2 0.4 0.1 0.4 0.1 0.4 0 0.4-0.2 0.4-0.2 0.4-0.4 0.4-0.1 0.4 0.1 0.4 0.4 0.4 0.2 0.4 0.2 0.4 0 0.4-0.1 0.4-0.1 0.4-0.2 0.4 0 0.4 0 0.4 0.2 0.4 0.1 0.4 0 0.4-0.2 0.4-0.6 0.4-1.1 0.4-1.2 0.4-0.6 0.4 0.5 0.4 1.3 0.4 1.1 0.4 0.5 0.4 0.1 0.4-0.4 0.4-0.9 0.4-0.9 0.4-0.4 0.4 0.4 0.4 1 0.4 0.8 0.4 0.4 0.4 0 0.4-0.4 0.4-0.8 0.4-1 0.4-0.4 0.4 0.4 0.4 1 0.4 0.8 0.4 0.4 0.4 0.1 0.4-0.3 0.4-0.5 0.4-0.6 0.4-0.3 0.4 0.3 0.4 0.6 0.4 0.6 0.4 0.3 0.4 0.1 0.4-0.1 0.4-0.1 0.4-0.1 0.4-0.1 0.4 0.1 0.4 0.1 0.4 0.2 0.4 0 0.4 0 0.4-0.1 0.4-0.1 0.4-0.2 0.4-0.1 0.4 0.1 0.4 0.2 0.4 0.1 0.4 0.1 0.4-0.1 0.4-0.2 0.4-0.4 0.4-0.5 0.4-0.2 0.4 0.2 0.4 0.5 0.4 0.4 0.4 0.2 0.4 0.1 0.4-0.1 0.4-0.2 0.4-0.3 0.4-0.1 0.4 0.1 0.4 0.2 0.4 0.2 0.4-0.1 0.4-0.4 0.4-1.3 0.4-2.3 0.4-2.5 0.4-1.2 0.4 1.1 0.4 2.6 0.4 2.2 0.4 1.2 0.4 0 0.4-0.9 0.4-1.8 0.4-2.2 0.4-0.9 0.4 0.9 0.4 2.2 0.4 1.8 0.4 0.9 0.4-0.2 0.4-1.4 0.4-2.6 0.4-3.1 0.4-1.3 0.4 1.3 0.4 3.1 0.4 2.6 0.4 1.4 0.4 0.1 0.4-0.9 0.4-2 0.4-2.2 0.4-1.1 0.4 1 0.4 2.1 0.4 1.9 0.4 0.6 0.4-1 0.4-3.5 0.4-6.5 0.4-7.3 0.4-3.4 0.4 3.3 0.4 7.3 0.4 6.3 0.4 3.3 0.4 0.2 0.4-2.4 0.4-5 0.4-5.7 0.4-2.7 0.4 2.4 0.4 5.3 0.4 4.4 0.4 0.9 0.4-4.5 0.4-13.9 0.4-25.7 0.4-28.9 0.4-13.3 0.4 13 0.4 28.6 0.4 25.2 0.4 12.8 0.4 1.1 0.4-9.6 0.4-19.9 0.4-22.7 0.4-10.4 0.4 10.7 0.4 23 0.4 20.4 0.4 10.7 0.4 2.4 0.4-4.1 0.4-9.6 0.4-11 0.4-4.9 0.4 5.2 0.4 11.4 0.4 10.1 0.4 5.3 0.4 1.4 0.4-1.4 0.4-3.6 0.4-4.2 0.4-1.9 0.4 2 0.4 4.5 0.4 3.9 0.4 2.1 0.4 0.6 0.4-0.3 0.4-1 0.4-1.1 0.4-0.5 0.4 0.5 0.4 1.3 0.4 1.1 0.4 0.6 0.4 0.2 0.4 0 0.4 0 0.4-0.1 0.4 0 0.4 0 0.4 0.1 0.4 0.1 0.4 0.1 0.4-0.1 0.4 0 0.4-0.2 0.4-0.1 0.4-0.1 0.4 0.1 0.4 0.1 0.4 0.2 0.4 0 0.4 0 0.4 0 0.4-0.2 0.4-0.1 0.4-0.1 0.4 0.1 0.4 0.1 0.4 0.2 0.4 0 0.4 0 0.4-0.1 0.4-0.2 0.4-0.2 0.4-0.1 0.4 0.1 0.4 0.2 0.4 0.2 0.4 0.1 0.4 0 0.4-0.1 0.4-0.2 0.4-0.2 0.4-0.1 0.4 0.1 0.4 0.2 0.4 0.2 0.4 0.1 0.4 0 0.4 0 0.4-0.1 0.4-0.1 0.4-0.1 0.4 0.1 0.4 0.1 0.4 0.1 0.4 0 0.4 0 0.4 0 0.4-0.2 0.4-0.1 0.4-0.1 0.4 0.1 0.4 0.1 0.4 0.2 0.4 0 0.4 0.1 0.4-0.1 0.4-0.1 0.4-0.1 0.4 0 0.4 0 0.4 0.1 0.4 0.1 0.4 0.1 0.4-0.1 0.4 0 0.4-0.2 0.4-0.1 0.4-0.1 0.4 0.1 0.4 0.1 0.4 0.1 0.4 0 0.4-0.1 0.4-0.4 0.4-0.9 0.4-0.9 0.4-0.4 0.4 0.4 0.4 0.9 0.4 0.8 0.4 0.4 0.4 0.1 0.4-0.2 0.4-0.5 0.4-0.6 0.4-0.3 0.4 0.3 0.4 0.6 0.4 0.5 0.4 0.3 0.4 0 0.4-0.1 0.4-0.4 0.4-0.3 0.4-0.2 0.4 0.2 0.4 0.3 0.4 0.4 0.4 0.2 0.4 0 0.4-0.1 0.4-0.2 0.4-0.2 0.4 0 0.4 0 0.4 0.2 0.4 0.2 0.4 0.1 0.4 0 0.4-0.2 0.4-0.2 0.4-0.4 0.4-0.1 0.4 0.1 0.4 0.4 0.4 0.2 0.4 0.2 0.4 0 0.4-0.1 0.4-0.2 0.4-0.2 0.4-0.1 0.4 0.1 0.4 0.2 0.4 0.1 0.4 0 0.4-0.3 0.4-0.9 0.4-1.7 0.4-1.9 0.4-0.8 0.4 0.8 0.4 1.9 0.4 1.6 0.4 0.9 0.4 0.1 0.4-0.5 0.4-1.1 0.4-1.3 0.4-0.6 0.4 0.5 0.4 1.2 0.4 0.9 0.4 0.1 0.4-1.1 0.4-3.5 0.4-6.4 0.4-7.2 0.4-3.4 0.4 3.3 0.4 7.1 0.4 6.3 0.4 3.1 0.4 0.2 0.4-2.5 0.4-5.3 0.4-6.1 0.4-2.7 0.4 2.8 0.4 6.1 0.4 5.3 0.4 2.7 0.4 0.3 0.4-1.9 0.4-4.2 0.4-4.6 0.4-2.2 0.4 2.2 0.4 4.8 0.4 4.2 0.4 2.2 0.4 0.5 0.4-1 0.4-2.2 0.4-2.5 0.4-1.2 0.4 1.2 0.4 2.6 0.4 2.3 0.4 1.1 0.4 0.1 0.4-1 0.4-2 0.4-2.2 0.4-1 0.4 1 0.4 2.3 0.4 2 0.4 1 0.4 0.2 0.4-0.6 0.4-1.4 0.4-1.5 0.4-0.6 0.4 0.6 0.4 1.5 0.4 1.3 0.4 0.6 0.4-0.2 0.4-1.2 0.4-2.3 0.4-2.5 0.4-1.2 0.4 1.2 0.4 2.5 0.4 2.3 0.4 1.2 0.4 0.1 0.4-0.7 0.4-1.5 0.4-1.8 0.4-0.8 0.4 0.8 0.4 1.8 0.4 1.6 0.4 0.9 0.4 0.2 0.4-0.2 0.4-0.5 0.4-0.6 0.4-0.2 0.4 0.3 0.4 0.6 0.4 0.5 0.4 0.3 0.4 0.1 0.4-0.1 0.4-0.1 0.4-0.1 0.4-0.1 0.4 0.1 0.4 0.1 0.4 0.2 0.4 0 0.4 0 0.4 0 0.4-0.1 0.4-0.2 0.4 0 0.4 0 0.4 0.2 0.4 0.1 0.4 0 0.4 0 0.4 0 0.4-0.1 0.4-0.1 0.4-0.1 0.4 0.1 0.4 0.1 0.4 0.1 0.4 0 0.4 0 0.4 0 0.4-0.2 0.4-0.2 0.4-0.1 0.4 0.1 0.4 0.2 0.4 0.1 0.4 0.1 0.4 0 0.4-0.1 0.4-0.2 0.4-0.2 0.4-0.1 0.4 0.1 0.4 0.2 0.4 0.2 0.4 0.1 0.4 0 0.4 0 0.4-0.1 0.4-0.1 0.4 0 0.4 0 0.4 0.1 0.4 0.1 0.4 0 0.4 0 0.4-0.1 0.4-0.1 0.4-0.2 0.4-0.1 0.4 0.1 0.4 0.2 0.4 0.1 0.4 0.1 0.4 0 0.4 0 0.4-0.1 0.4 0 0.4-0.1 0.4 0.1 0.4 0 0.4 0.1 0.4 0.1 0.4 0 0.4-0.1 0.4-0.1 0.4-0.1 0.4-0.1 0.4 0.1 0.4 0.1 0.4 0.1 0.4 0.1 0.4 0 0.4-0.1 0.4-0.1 0.4-0.1 0.4-0.1 0.4 0.1 0.4 0.1 0.4 0.1 0.4 0 0.4 0 0.4-0.1 0.4-0.1 0.4-0.2 0.4-0.1 0.4 0.1 0.4 0.2 0.4 0.1 0.4 0.1 0.4 0 0.4 0 0.4-0.1 0.4-0.2 0.4 0 0.4 0 0.4 0.2 0.4 0.1 0.4 0 0.4 0 0.4 0 0.4-0.1 0.4-0.2 0.4 0 0.4 0 0.4 0.2 0.4 0.1 0.4 0 0.4 0 0.4 0 0.4-0.2 0.4-0.2 0.4-0.1 0.4 0.1 0.4 0.2 0.4 0.2 0.4 0" fill="none" stroke="#1c1c1c" stroke-width="1.1" stroke-linejoin="round"/>
<path d="M47.0 529.1l0.4 0.1 0.4 0 0.4 0.1 0.4 0.1 0.4 0 0.4-0.1 0.4 0 0.4-0.1 0.4-0.1 0.4 0.1 0.4 0.1 0.4 0 0.4 0.1 0.4 0 0.4-0.1 0.4-0.1 0.4-0.1 0.4-0.1 0.4 0.1 0.4 0.1 0.4 0.1 0.4 0 0.4 0.1 0.4-0.1 0.4-0.1 0.4-0.1 0.4-0.1 0.4 0.1 0.4 0.1 0.4 0.1 0.4 0.1 0.4 0 0.4-0.1 0.4-0.1 0.4-0.1 0.4 0 0.4 0 0.4 0.1 0.4 0.1 0.4 0.1 0.4 0 0.4-0.1 0.4-0.1 0.4-0.1 0.4 0 0.4 0 0.4 0.1 0.4 0.1 0.4 0.1 0.4 0 0.4-0.1 0.4-0.1 0.4-0.1 0.4-0.1 0.4 0.1 0.4 0.1 0.4 0.1 0.4 0.1 0.4 0 0.4-0.1 0.4 0 0.4-0.1 0.4-0.1 0.4 0.1 0.4 0.1 0.4 0 0.4 0.1 0.4 0 0.4-0.1 0.4 0 0.4-0.1 0.4-0.1 0.4 0.1 0.4 0.1 0.4 0 0.4 0.1 0.4-0.1 0.4 0 0.4-0.1 0.4-0.2 0.4 0 0.4 0 0.4 0.2 0.4 0.1 0.4 0 0.4 0 0.4 0 0.4-0.1 0.4-0.2 0.4 0 0.4 0 0.4 0.2 0.4 0.1 0.4 0 0.4 0 0.4 0 0.4-0.1 0.4-0.1 0.4-0.1 0.4 0.1 0.4 0.1 0.4 0.1 0.4 0 0.4 0 0.4 0 0.4-0.2 0.4-0.1 0.4-0.1 0.4 0.1 0.4 0.1 0.4 0.2 0.4 0 0.4 0 0.4 0 0.4-0.1 0.4-0.2 0.4 0 0.4 0 0.4 0.2 0.4 0.1 0.4 0 0.4 0 0.4 0 0.4-0.2 0.4-0.1 0.4-0.1 0.4 0.1 0.4 0.1 0.4 0.2 0.4 0 0.4 0.1 0.4-0.1 0.4-0.1 0.4 0 0.4-0.1 0.4 0.1 0.4 0 0.4 0.1 0.4 0 0.4-0.1 0.4-0.2 0.4-0.4 0.4-0.5 0.4-0.2 0.4 0.2 0.4 0.5 0.4 0.4 0.4 0.2 0.4 0.1 0.4-0.1 0.4-0.1 0.4-0.1 0.4-0.1 0.4 0.1 0.4 0.1 0.4 0.2 0.4 0 0.4 0 0.4 0 0.4-0.1 0.4-0.2 0.4-0.1 0.4 0.1 0.4 0.2 0.4 0.1 0.4 0 0.4 0 0.4 0 0.4-0.2 0.4-0.1 0.4-0.1 0.4 0.1 0.4 0.1 0.4 0.2 0.4 0 0.4 0 0.4 0 0.4-0.2 0.4-0.1 0.4-0.1 0.4 0.1 0.4 0.1 0.4 0.2 0.4 0 0.4 0.1 0.4-0.1 0.4-0.1 0.4-0.1 0.4 0 0.4 0 0.4 0.1 0.4 0.1 0.4 0.1 0.4 0 0.4-0.1 0.4-0.1 0.4-0.1 0.4 0 0.4 0 0.4 0.1 0.4 0.1 0.4 0.1 0.4-0.1 0.4 0 0.4-0.2 0.4-0.1 0.4-0.1 0.4 0.1 0.4 0.1 0.4 0.2 0.4 0 0.4 0.1 0.4-0.1 0.4-0.1 0.4 0 0.4-0.1 0.4 0.1 0.4 0 0.4 0.1 0.4 0.1 0.4-0.1 0.4 0 0.4-0.2 0.4-0.2 0.4 0 0.4 0 0.4 0.2 0.4 0.2 0.4 0 0.4 0 0.4 0 0.4-0.2 0.4-0.1 0.4-0.1 0.4 0.1 0.4 0.1 0.4 0.2 0.4 0 0.4 0.1 0.4-0.1 0.4 0 0.4-0.1 0.4 0 0.4 0 0.4 0.1 0.4 0 0.4 0.1 0.4 0 0.4-0.1 0.4-0.1 0.4 0 0.4-0.1 0.4 0.1 0.4 0 0.4 0.1 0.4 0.1 0.4-0.1 0.4 0 0.4-0.1 0.4-0.2 0.4 0 0.4 0 0.4 0.2 0.4 0.1 0.4 0 0.4 0.1 0.4-0.1 0.4-0.1 0.4-0.1 0.4 0 0.4 0.1 0.4 0 0.4 0.1 0.4 0.1 0.4 0 0.4-0.1 0.4 0 0.4-0.1 0.4 0 0.4 0 0.4 0.1 0.4 0 0.4 0.1 0.4-0.1 0.4 0 0.4-0.2 0.4-0.1 0.4-0.1 0.4 0.1 0.4 0.1 0.4 0.2 0.4 0 0.4 0 0.4 0 0.4-0.1 0.4-0.1 0.4 0 0.4 0 0.4 0.1 0.4 0.1 0.4 0 0.4 0 0.4 0 0.4-0.2 0.4-0.1 0.4-0.1 0.4 0.1 0.4 0.1 0.4 0.2 0.4 0 0.4 0.1 0.4-0.1 0.4 0 0.4-0.1 0.4 0 0.4 0 0.4 0.1 0.4 0 0.4 0.1 0.4 0 0.4-0.1 0.4-0.1 0.4-0.1 0.4 0 0.4 0 0.4 0.1 0.4 0.1 0.4 0.1 0.4-0.1 0.4 0 0.4-0.1 0.4-0.2 0.4 0 0.4 0 0.4 0.2 0.4 0.1 0.4 0 0.4 0.1 0.4-0.1 0.4 0 0.4-0.1 0.4 0 0.4 0 0.4 0.1 0.4 0 0.4 0.1 0.4 0 0.4-0.1 0.4 0 0.4-0.1 0.4-0.1 0.4 0.1 0.4 0.1 0.4 0 0.4 0.1 0.4-0.1 0.4 0 0.4-0.1 0.4-0.2 0.4 0 0.4 0 0.4 0.2 0.4 0.1 0.4 0 0.4 0 0.4 0 0.4-0.2 0.4-0.1 0.4-0.1 0.4 0.1 0.4 0.1 0.4 0.2 0.4 0 0.4 0 0.4 0 0.4-0.2 0.4-0.2 0.4 0 0.4 0 0.4 0.2 0.4 0.2 0.4 0 0.4 0.1 0.4-0.1 0.4 0 0.4-0.1 0.4 0 0.4 0 0.4 0.1 0.4 0 0.4 0.1 0.4 0 0.4-0.1 0.4-0.1 0.4-0.1 0.4-0.1 0.4 0.1 0.4 0.1 0.4 0.1 0.4 0 0.4 0 0.4 0 0.4-0.2 0.4-0.1 0.4-0.1 0.4 0.1 0.4 0.1 0.4 0.2 0.4 0 0.4 0 0.4 0 0.4-0.1 0.4-0.1 0.4-0.1 0.4 0.1 0.4 0.1 0.4 0.1 0.4 0 0.4 0 0.4 0 0.4-0.1 0.4-0.2 0.4 0 0.4 0 0.4 0.2 0.4 0.1 0.4 0 0.4 0.1 0.4-0.1 0.4 0 0.4-0.1 0.4-0.1 0.4 0.1 0.4 0.1 0.4 0 0.4 0.1 0.4 0 0.4-0.1 0.4 0 0.4-0.1 0.4 0 0.4 0 0.4 0.1 0.4 0 0.4 0.1 0.4 0 0.4-0.1 0.4 0 0.4-0.1 0.4 0 0.4 0 0.4 0.1 0.4 0 0.4 0.1 0.4 0 0.4-0.1 0.4 0 0.4-0.1 0.4 0 0.4 0 0.4 0.1 0.4 0 0.4 0.1 0.4 0 0.4-0.1 0.4-0.1 0.4-0.1 0.4-0.1 0.4 0.1 0.4 0.1 0.4 0.1 0.4 0 0.4 0 0.4 0 0.4-0.1 0.4-0.1 0.4-0.1 0.4 0.1 0.4 0.1 0.4 0.1 0.4 0 0.4 0 0.4 0 0.4-0.1 0.4-0.1 0.4-0.1 0.4 0.1 0.4 0.1 0.4 0.1 0.4 0.1 0.4 0 0.4-0.1 0.4 0 0.4-0.1 0.4-0.1 0.4 0.1 0.4 0.1 0.4 0 0.4 0.1 0.4 0 0.4-0.1 0.4 0 0.4-0.1 0.4-0.1 0.4 0.1 0.4 0.1 0.4 0 0.4 0.1 0.4 0 0.4-0.1 0.4 0 0.4-0.1 0.4-0.1 0.4 0.1 0.4 0 0.4 0.1 0.4 0.1 0.4-0.1 0.4 0 0.4-0.2 0.4-0.1 0.4-0.1 0.4 0.1 0.4 0.1 0.4 0.2 0.4 0 0.4 0 0.4 0 0.4-0.2 0.4-0.2 0.4 0 0.4 0 0.4 0.2 0.4 0.2 0.4 0 0.4 0 0.4 0 0.4-0.2 0.4-0.1 0.4-0.1 0.4 0.1 0.4 0.1 0.4 0.2 0.4 0 0.4 0.1 0.4-0.1 0.4 0 0.4-0.1 0.4 0 0.4 0 0.4 0.1 0.4 0 0.4 0.1 0.4 0 0.4-0.1 0.4 0 0.4-0.1 0.4 0 0.4 0 0.4 0.1 0.4 0 0.4 0.1 0.4-0.1 0.4 0 0.4-0.2 0.4-0.1 0.4-0.1 0.4 0.1 0.4 0.1 0.4 0.2 0.4 0 0.4 0 0.4 0 0.4-0.1 0.4-0.1 0.4-0.1 0.4 0.1 0.4 0.1 0.4 0.1 0.4 0 0.4 0 0.4 0 0.4-0.2 0.4-0.1 0.4-0.1 0.4 0.1 0.4 0.1 0.4 0.2 0.4 0 0.4 0 0.4-0.2 0.4-0.2 0.4-0.4 0.4-0.1 0.4 0.1 0.4 0.4 0.4 0.2 0.4 0.2 0.4 0 0.4 0 0.4-0.1 0.4-0.1 0.4 0 0.4 0 0.4 0.1 0.4 0.1 0.4 0.1 0.4 0 0.4-0.1 0.4-0.1 0.4-0.1 0.4-0.1 0.4 0.1 0.4 0.1 0.4 0.1 0.4 0.1 0.4-0.1 0.4 0 0.4-0.1 0.4-0.1 0.4-0.1 0.4 0.1 0.4 0.1 0.4 0.1 0.4 0.1 0.4 0 0.4-0.1 0.4-0.1 0.4-0.1 0.4-0.1 0.4 0.1 0.4 0.1 0.4 0 0.4 0 0.4-0.2 0.4-0.7 0.4-1.1 0.4-1.3 0.4-0.6 0.4 0.6 0.4 1.3 0.4 1.1 0.4 0.6 0.4 0 0.4-0.4 0.4-0.8 0.4-1 0.4-0.4 0.4 0.4 0.4 1 0.4 0.8 0.4 0.4 0.4-0.2 0.4-0.8 0.4-1.5 0.4-1.8 0.4-0.8 0.4 0.8 0.4 1.8 0.4 1.5 0.4 0.8 0.4 0.1 0.4-0.4 0.4-1 0.4-1.1 0.4-0.5 0.4 0.5 0.4 1.1 0.4 1 0.4 0.6 0.4 0 0.4-0.3 0.4-0.6 0.4-0.8 0.4-0.3 0.4 0.3 0.4 0.8 0.4 0.7 0.4 0.3 0.4 0.1 0.4-0.1 0.4-0.2 0.4-0.3 0.4-0.1 0.4 0.1 0.4 0.3 0.4 0.3 0.4 0.1 0.4 0 0.4 0 0.4-0.1 0.4-0.2 0.4 0 0.4 0.1 0.4 0.1 0.4 0.1 0.4 0.1 0.4 0 0.4-0.1 0.4 0 0.4-0.1 0.4 0 0.4 0 0.4 0.1 0.4 0 0.4 0.1 0.4-0.1 0.4 0 0.4-0.1 0.4-0.2 0.4 0 0.4 0 0.4 0.2 0.4 0.1 0.4 0 0.4 0 0.4 0 0.4-0.2 0.4-0.1 0.4-0.1 0.4 0.1 0.4 0.1 0.4 0.2 0.4 0 0.4 0.1 0.4-0.1 0.4 0 0.4-0.1 0.4-0.1 0.4 0.1 0.4 0.1 0.4 0 0.4 0.1 0.4 0 0.4-0.1 0.4-0.1 0.4-0.1 0.4-0.1 0.4 0.1 0.4 0.1 0.4 0.1 0.4 0 0.4 0 0.4 0 0.4-0.1 0.4-0.2 0.4-0.1 0.4 0.1 0.4 0.2 0.4 0.1 0.4 0 0.4 0.1 0.4-0.1 0.4-0.1 0.4-0.1 0.4 0 0.4 0 0.4 0.1 0.4 0.1 0.4 0 0.4 0 0.4-0.1 0.4-0.1 0.4-0.2 0.4-0.1 0.4 0.1 0.4 0.2 0.4 0.1 0.4 0.1 0.4 0.1 0.4-0.1 0.4-0.1 0.4 0 0.4-0.1 0.4 0.1 0.4 0 0.4 0.1 0.4 0 0.4 0 0.4-0.2 0.4-0.3 0.4-0.3 0.4-0.2 0.4 0.2 0.4 0.3 0.4 0.3 0.4 0.2 0.4 0 0.4 0 0.4-0.2 0.4-0.1 0.4-0.1 0.4 0.1 0.4 0.1 0.4 0.2 0.4 0 0.4 0.1 0.4-0.1 0.4 0 0.4-0.1 0.4-0.1 0.4 0.1 0.4 0.1 0.4 0 0.4 0.1 0.4 0 0.4-0.1 0.4-0.1 0.4-0.1 0.4-0.1 0.4 0.1 0.4 0.1 0.4 0.1 0.4 0.1 0.4 0 0.4-0.1 0.4 0 0.4-0.1 0.4 0 0.4 0 0.4 0.1 0.4 0 0.4 0.1 0.4-0.1 0.4 0 0.4-0.2 0.4-0.1 0.4-0.1 0.4 0.1 0.4 0.1 0.4 0.2 0.4 0 0.4 0 0.4-0.1 0.4-0.1 0.4-0.2 0.4-0.1 0.4 0.1 0.4 0.2 0.4 0.1 0.4 0.1 0.4 0 0.4 0 0.4-0.2 0.4-0.1 0.4-0.1 0.4 0.1 0.4 0.1 0.4 0.1 0.4 0.1 0.4-0.1 0.4-0.3 0.4-0.5 0.4-0.6 0.4-0.3 0.4 0.3 0.4 0.6 0.4 0.5 0.4 0.3 0.4 0 0.4-0.1 0.4-0.2 0.4-0.3 0.4-0.1 0.4 0.1 0.4 0.3 0.4 0.2 0.4 0 0.4-0.2 0.4-0.8 0.4-1.3 0.4-1.6 0.4-0.7 0.4 0.7 0.4 1.5 0.4 1.4 0.4 0.7 0.4 0 0.4-0.4 0.4-1 0.4-1.1 0.4-0.6 0.4 0.4 0.4 1 0.4 0.8 0.4 0 0.4-1.6 0.4-4.4 0.4-8 0.4-8.9 0.4-4.2 0.4 4.1 0.4 8.8 0.4 7.8 0.4 4 0.4 0.3 0.4-3 0.4-6.2 0.4-7.2 0.4-3.2 0.4 3.2 0.4 7.2 0.4 6.3 0.4 3.1 0.4 0 0.4-3.1 0.4-6.3 0.4-7.1 0.4-3.3 0.4 3.3 0.4 7.2 0.4 6.4 0.4 3.4 0.4 0.6 0.4-1.5 0.4-3.4 0.4-4 0.4-1.8 0.4 1.9 0.4 4.1 0.4 3.5 0.4 1.9 0.4 0.5 0.4-0.6 0.4-1.4 0.4-1.6 0.4-0.7 0.4 0.8 0.4 1.7 0.4 1.5 0.4 0.8 0.4 0.2 0.4-0.1 0.4-0.4 0.4-0.5 0.4-0.2 0.4 0.2 0.4 0.5 0.4 0.5 0.4 0.2 0.4 0.1 0.4 0 0.4-0.2 0.4-0.1 0.4 0 0.4 0 0.4 0.2 0.4 0.1 0.4 0 0.4 0 0.4 0 0.4-0.2 0.4-0.1 0.4-0.1 0.4 0.1 0.4 0.1 0.4 0.2 0.4 0 0.4 0 0.4 0 0.4-0.1 0.4-0.2 0.4 0 0.4 0 0.4 0.2 0.4 0.1 0.4 0 0.4 0.1 0.4-0.1 0.4-0.1 0.4-0.1 0.4 0 0.4 0 0.4 0.1 0.4 0.1 0.4 0.1 0.4-0.1 0.4 0 0.4-0.1 0.4-0.1 0.4-0.1 0.4 0.1 0.4 0.1 0.4 0.1 0.4 0 0.4 0 0.4 0 0.4-0.1 0.4-0.1 0.4-0.1 0.4 0.1 0.4 0.1 0.4 0.1 0.4 0 0.4 0 0.4-0.1 0.4-0.2 0.4-0.2 0.4-0.1 0.4 0.1 0.4 0.2 0.4 0.2 0.4 0.1 0.4 0 0.4 0 0.4-0.2 0.4-0.2 0.4 0 0.4 0 0.4 0.2 0.4 0.1 0.4 0 0.4-0.1 0.4-0.5 0.4-0.9 0.4-1 0.4-0.4 0.4 0.4 0.4 1 0.4 0.9 0.4 0.4 0.4 0.1 0.4-0.3 0.4-0.6 0.4-0.7 0.4-0.3 0.4 0.3 0.4 0.7 0.4 0.6 0.4 0.3 0.4 0 0.4-0.4 0.4-0.7 0.4-0.8 0.4-0.3 0.4 0.4 0.4 0.7 0.4 0.7 0.4 0.4 0.4 0.1 0.4-0.2 0.4-0.4 0.4-0.5 0.4-0.2 0.4 0.2 0.4 0.5 0.4 0.4 0.4 0.2 0.4 0.1 0.4 0 0.4-0.2 0.4-0.1 0.4-0.1 0.4 0.1 0.4 0.1 0.4 0.2 0.4 0 0.4 0.1 0.4-0.1 0.4-0.1 0.4-0.1 0.4 0 0.4 0 0.4 0.1 0.4 0.1 0.4 0 0.4 0 0.4-0.1 0.4-0.2 0.4-0.2 0.4-0.1 0.4 0.1 0.4 0.2 0.4 0.2 0.4 0.1 0.4 0 0.4 0 0.4-0.2 0.4-0.2 0.4 0 0.4 0 0.4 0.2 0.4 0 0.4 0 0.4-0.5 0.4-1.1 0.4-2.1 0.4-2.4 0.4-1.1 0.4 1.1 0.4 2.3 0.4 2.1 0.4 1.1 0.4 0.1 0.4-0.8 0.4-1.5 0.4-1.7 0.4-0.8 0.4 0.8 0.4 1.7 0.4 1.5 0.4 0.7 0.4-0.1 0.4-1.2 0.4-2.4 0.4-2.6 0.4-1.2 0.4 1.2 0.4 2.6 0.4 2.4 0.4 1.2 0.4 0.1 0.4-0.6 0.4-1.5 0.4-1.7 0.4-0.8 0.4 0.8 0.4 1.6 0.4 1.3 0.4 0.5 0.4-0.8 0.4-2.6 0.4-5 0.4-5.7 0.4-2.6 0.4 2.6 0.4 5.5 0.4 4.9 0.4 2.5 0.4 0.2 0.4-1.9 0.4-3.9 0.4-4.5 0.4-2.2 0.4 1.8 0.4 4.1 0.4 3.3 0.4 0.3 0.4-4.6 0.4-13.8 0.4-25.1 0.4-28.3 0.4-13 0.4 12.7 0.4 28 0.4 24.6 0.4 12.5 0.4 1 0.4-9.7 0.4-20 0.4-22.9 0.4-10.4 0.4 10.7 0.4 23.1 0.4 20.5 0.4 10.8 0.4 2.2 0.4-4.3 0.4-10 0.4-11.5 0.4-5.1 0.4 5.4 0.4 11.9 0.4 10.5 0.4 5.5 0.4 1.5 0.4-1.5 0.4-3.7 0.4-4.4 0.4-1.9 0.4 2.1 0.4 4.6 0.4 4 0.4 2.2 0.4 0.7 0.4-0.4 0.4-1 0.4-1.2 0.4-0.5 0.4 0.6 0.4 1.3 0.4 1.1 0.4 0.7 0.4 0.2 0.4 0 0.4-0.1 0.4-0.1 0.4-0.1 0.4 0.1 0.4 0.1 0.4 0.2 0.4 0 0.4 0 0.4 0 0.4-0.2 0.4-0.1 0.4-0.1 0.4 0.1 0.4 0.1 0.4 0.2 0.4 0 0.4 0 0.4 0 0.4-0.2 0.4-0.1 0.4-0.1 0.4 0.1 0.4 0.1 0.4 0.2 0.4 0 0.4 0 0.4 0 0.4-0.1 0.4-0.1 0.4 0 0.4 0 0.4 0.1 0.4 0.1 0.4 0 0.4 0 0.4 0 0.4-0.2 0.4-0.1 0.4-0.1 0.4 0.1 0.4 0.1 0.4 0.2 0.4 0 0.4 0 0.4 0 0.4-0.2 0.4-0.1 0.4-0.1 0.4 0.1 0.4 0.1 0.4 0.2 0.4 0 0.4 0 0.4 0 0.4-0.1 0.4-0.2 0.4 0 0.4 0 0.4 0.2 0.4 0.1 0.4 0 0.4 0 0.4 0 0.4-0.2 0.4-0.1 0.4-0.1 0.4 0.1 0.4 0.1 0.4 0.2 0.4 0 0.4 0 0.4 0 0.4-0.2 0.4-0.1 0.4-0.1 0.4 0.1 0.4 0.1 0.4 0.1 0.4 0 0.4-0.1 0.4-0.5 0.4-0.9 0.4-1 0.4-0.5 0.4 0.5 0.4 1 0.4 0.8 0.4 0.5 0.4 0.1 0.4-0.3 0.4-0.6 0.4-0.6 0.4-0.3 0.4 0.3 0.4 0.6 0.4 0.6 0.4 0.3 0.4 0 0.4-0.3 0.4-0.5 0.4-0.7 0.4-0.3 0.4 0.3 0.4 0.7 0.4 0.6 0.4 0.3 0.4 0.1 0.4 0 0.4-0.1 0.4-0.1 0.4 0 0.4 0 0.4 0.1 0.4 0.1 0.4 0 0.4 0 0.4-0.2 0.4-0.4 0.4-0.4 0.4-0.2 0.4 0.2 0.4 0.4 0.4 0.4 0.4 0.2 0.4 0 0.4 0 0.4-0.2 0.4-0.1 0.4-0.1 0.4 0.1 0.4 0.1 0.4 0.1 0.4 0 0.4-0.2 0.4-0.6 0.4-1.2 0.4-1.2 0.4-0.6 0.4 0.6 0.4 1.2 0.4 1.1 0.4 0.6 0.4 0 0.4-0.4 0.4-0.9 0.4-1 0.4-0.5 0.4 0.4 0.4 0.9 0.4 0.7 0.4 0 0.4-1.3 0.4-3.8 0.4-6.8 0.4-7.7 0.4-3.6 0.4 3.5 0.4 7.6 0.4 6.6 0.4 3.4 0.4 0.2 0.4-2.7 0.4-5.7 0.4-6.5 0.4-3 0.4 3 0.4 6.6 0.4 5.7 0.4 3 0.4 0.4 0.4-1.8 0.4-3.9 0.4-4.5 0.4-2 0.4 2.1 0.4 4.6 0.4 4 0.4 2.1 0.4 0.4 0.4-0.9 0.4-2 0.4-2.4 0.4-1.1 0.4 1.2 0.4 2.4 0.4 2.1 0.4 1.1 0.4 0 0.4-0.9 0.4-1.9 0.4-2.2 0.4-1 0.4 1 0.4 2.2 0.4 1.9 0.4 1 0.4 0.2 0.4-0.6 0.4-1.2 0.4-1.4 0.4-0.6 0.4 0.6 0.4 1.4 0.4 1.2 0.4 0.5 0.4-0.2 0.4-1.3 0.4-2.5 0.4-2.8 0.4-1.3 0.4 1.2 0.4 2.8 0.4 2.5 0.4 1.3 0.4 0.1 0.4-0.9 0.4-1.9 0.4-2.2 0.4-1 0.4 1 0.4 2.2 0.4 2 0.4 1 0.4 0.3 0.4-0.3 0.4-0.7 0.4-0.8 0.4-0.3 0.4 0.4 0.4 0.8 0.4 0.7 0.4 0.4 0.4 0.1 0.4-0.1 0.4-0.2 0.4-0.3 0.4-0.1 0.4 0.1 0.4 0.3 0.4 0.3 0.4 0.1 0.4 0 0.4 0 0.4 0 0.4-0.1 0.4 0 0.4 0 0.4 0.1 0.4 0 0.4 0.1 0.4 0 0.4-0.1 0.4-0.1 0.4-0.1 0.4 0 0.4 0 0.4 0.1 0.4 0.1 0.4 0.1 0.4 0 0.4-0.1 0.4-0.1 0.4-0.1 0.4-0.1 0.4 0.1 0.4 0.1 0.4 0.1 0.4 0.1 0.4 0 0.4-0.1 0.4 0 0.4-0.1 0.4 0 0.4 0 0.4 0.1 0.4 0 0.4 0.1 0.4 0 0.4-0.1 0.4-0.1 0.4-0.1 0.4 0 0.4 0 0.4 0.1 0.4 0.1 0.4 0.1 0.4-0.1 0.4 0 0.4-0.1 0.4-0.2 0.4 0 0.4 0 0.4 0.2 0.4 0.1 0.4 0 0.4 0 0.4 0 0.4-0.1 0.4-0.2 0.4 0 0.4 0 0.4 0.2 0.4 0.1 0.4 0 0.4 0.1 0.4-0.1 0.4-0.1 0.4 0 0.4-0.1 0.4 0.1 0.4 0 0.4 0.1 0.4 0.1 0.4-0.1 0.4 0 0.4-0.2 0.4-0.1 0.4-0.1 0.4 0.1 0.4 0.1 0.4 0.2 0.4 0 0.4 0 0.4 0 0.4-0.1 0.4-0.2 0.4 0 0.4 0 0.4 0.2 0.4 0.1 0.4 0 0.4 0.1 0.4-0.1 0.4-0.1 0.4-0.1 0.4 0 0.4 0 0.4 0.1 0.4 0.1 0.4 0.1 0.4-0.1 0.4 0 0.4-0.1 0.4-0.2 0.4 0 0.4 0 0.4 0.2 0.4 0.1 0.4 0 0.4 0 0.4 0 0.4-0.1 0.4-0.1 0.4-0.1 0.4 0.1 0.4 0.1 0.4 0.1 0.4 0L664.2 529.6L47.0 529.6Z" fill="#e8e8e8"/>
<path d="M47.0 529.1l0.4 0.1 0.4 0 0.4 0.1 0.4 0.1 0.4 0 0.4-0.1 0.4 0 0.4-0.1 0.4-0.1 0.4 0.1 0.4 0.1 0.4 0 0.4 0.1 0.4 0 0.4-0.1 0.4-0.1 0.4-0.1 0.4-0.1 0.4 0.1 0.4 0.1 0.4 0.1 0.4 0 0.4 0.1 0.4-0.1 0.4-0.1 0.4-0.1 0.4-0.1 0.4 0.1 0.4 0.1 0.4 0.1 0.4 0.1 0.4 0 0.4-0.1 0.4-0.1 0.4-0.1 0.4 0 0.4 0 0.4 0.1 0.4 0.1 0.4 0.1 0.4 0 0.4-0.1 0.4-0.1 0.4-0.1 0.4 0 0.4 0 0.4 0.1 0.4 0.1 0.4 0.1 0.4 0 0.4-0.1 0.4-0.1 0.4-0.1 0.4-0.1 0.4 0.1 0.4 0.1 0.4 0.1 0.4 0.1 0.4 0 0.4-0.1 0.4 0 0.4-0.1 0.4-0.1 0.4 0.1 0.4 0.1 0.4 0 0.4 0.1 0.4 0 0.4-0.1 0.4 0 0.4-0.1 0.4-0.1 0.4 0.1 0.4 0.1 0.4 0 0.4 0.1 0.4-0.1 0.4 0 0.4-0.1 0.4-0.2 0.4 0 0.4 0 0.4 0.2 0.4 0.1 0.4 0 0.4 0 0.4 0 0.4-0.1 0.4-0.2 0.4 0 0.4 0 0.4 0.2 0.4 0.1 0.4 0 0.4 0 0.4 0 0.4-0.1 0.4-0.1 0.4-0.1 0.4 0.1 0.4 0.1 0.4 0.1 0.4 0 0.4 0 0.4 0 0.4-0.2 0.4-0.1 0.4-0.1 0.4 0.1 0.4 0.1 0.4 0.2 0.4 0 0.4 0 0.4 0 0.4-0.1 0.4-0.2 0.4 0 0.4 0 0.4 0.2 0.4 0.1 0.4 0 0.4 0 0.4 0 0.4-0.2 0.4-0.1 0.4-0.1 0.4 0.1 0.4 0.1 0.4 0.2 0.4 0 0.4 0.1 0.4-0.1 0.4-0.1 0.4 0 0.4-0.1 0.4 0.1 0.4 0 0.4 0.1 0.4 0 0.4-0.1 0.4-0.2 0.4-0.4 0.4-0.5 0.4-0.2 0.4 0.2 0.4 0.5 0.4 0.4 0.4 0.2 0.4 0.1 0.4-0.1 0.4-0.1 0.4-0.1 0.4-0.1 0.4 0.1 0.4 0.1 0.4 0.2 0.4 0 0.4 0 0.4 0 0.4-0.1 0.4-0.2 0.4-0.1 0.4 0.1 0.4 0.2 0.4 0.1 0.4 0 0.4 0 0.4 0 0.4-0.2 0.4-0.1 0.4-0.1 0.4 0.1 0.4 0.1 0.4 0.2 0.4 0 0.4 0 0.4 0 0.4-0.2 0.4-0.1 0.4-0.1 0.4 0.1 0.4 0.1 0.4 0.2 0.4 0 0.4 0.1 0.4-0.1 0.4-0.1 0.4-0.1 0.4 0 0.4 0 0.4 0.1 0.4 0.1 0.4 0.1 0.4 0 0.4-0.1 0.4-0.1 0.4-0.1 0.4 0 0.4 0 0.4 0.1 0.4 0.1 0.4 0.1 0.4-0.1 0.4 0 0.4-0.2 0.4-0.1 0.4-0.1 0.4 0.1 0.4 0.1 0.4 0.2 0.4 0 0.4 0.1 0.4-0.1 0.4-0.1 0.4 0 0.4-0.1 0.4 0.1 0.4 0 0.4 0.1 0.4 0.1 0.4-0.1 0.4 0 0.4-0.2 0.4-0.2 0.4 0 0.4 0 0.4 0.2 0.4 0.2 0.4 0 0.4 0 0.4 0 0.4-0.2 0.4-0.1 0.4-0.1 0.4 0.1 0.4 0.1 0.4 0.2 0.4 0 0.4 0.1 0.4-0.1 0.4 0 0.4-0.1 0.4 0 0.4 0 0.4 0.1 0.4 0 0.4 0.1 0.4 0 0.4-0.1 0.4-0.1 0.4 0 0.4-0.1 0.4 0.1 0.4 0 0.4 0.1 0.4 0.1 0.4-0.1 0.4 0 0.4-0.1 0.4-0.2 0.4 0 0.4 0 0.4 0.2 0.4 0.1 0.4 0 0.4 0.1 0.4-0.1 0.4-0.1 0.4-0.1 0.4 0 0.4 0.1 0.4 0 0.4 0.1 0.4 0.1 0.4 0 0.4-0.1 0.4 0 0.4-0.1 0.4 0 0.4 0 0.4 0.1 0.4 0 0.4 0.1 0.4-0.1 0.4 0 0.4-0.2 0.4-0.1 0.4-0.1 0.4 0.1 0.4 0.1 0.4 0.2 0.4 0 0.4 0 0.4 0 0.4-0.1 0.4-0.1 0.4 0 0.4 0 0.4 0.1 0.4 0.1 0.4 0 0.4 0 0.4 0 0.4-0.2 0.4-0.1 0.4-0.1 0.4 0.1 0.4 0.1 0.4 0.2 0.4 0 0.4 0.1 0.4-0.1 0.4 0 0.4-0.1 0.4 0 0.4 0 0.4 0.1 0.4 0 0.4 0.1 0.4 0 0.4-0.1 0.4-0.1 0.4-0.1 0.4 0 0.4 0 0.4 0.1 0.4 0.1 0.4 0.1 0.4-0.1 0.4 0 0.4-0.1 0.4-0.2 0.4 0 0.4 0 0.4 0.2 0.4 0.1 0.4 0 0.4 0.1 0.4-0.1 0.4 0 0.4-0.1 0.4 0 0.4 0 0.4 0.1 0.4 0 0.4 0.1 0.4 0 0.4-0.1 0.4 0 0.4-0.1 0.4-0.1 0.4 0.1 0.4 0.1 0.4 0 0.4 0.1 0.4-0.1 0.4 0 0.4-0.1 0.4-0.2 0.4 0 0.4 0 0.4 0.2 0.4 0.1 0.4 0 0.4 0 0.4 0 0.4-0.2 0.4-0.1 0.4-0.1 0.4 0.1 0.4 0.1 0.4 0.2 0.4 0 0.4 0 0.4 0 0.4-0.2 0.4-0.2 0.4 0 0.4 0 0.4 0.2 0.4 0.2 0.4 0 0.4 0.1 0.4-0.1 0.4 0 0.4-0.1 0.4 0 0.4 0 0.4 0.1 0.4 0 0.4 0.1 0.4 0 0.4-0.1 0.4-0.1 0.4-0.1 0.4-0.1 0.4 0.1 0.4 0.1 0.4 0.1 0.4 0 0.4 0 0.4 0 0.4-0.2 0.4-0.1 0.4-0.1 0.4 0.1 0.4 0.1 0.4 0.2 0.4 0 0.4 0 0.4 0 0.4-0.1 0.4-0.1 0.4-0.1 0.4 0.1 0.4 0.1 0.4 0.1 0.4 0 0.4 0 0.4 0 0.4-0.1 0.4-0.2 0.4 0 0.4 0 0.4 0.2 0.4 0.1 0.4 0 0.4 0.1 0.4-0.1 0.4 0 0.4-0.1 0.4-0.1 0.4 0.1 0.4 0.1 0.4 0 0.4 0.1 0.4 0 0.4-0.1 0.4 0 0.4-0.1 0.4 0 0.4 0 0.4 0.1 0.4 0 0.4 0.1 0.4 0 0.4-0.1 0.4 0 0.4-0.1 0.4 0 0.4 0 0.4 0.1 0.4 0 0.4 0.1 0.4 0 0.4-0.1 0.4 0 0.4-0.1 0.4 0 0.4 0 0.4 0.1 0.4 0 0.4 0.1 0.4 0 0.4-0.1 0.4-0.1 0.4-0.1 0.4-0.1 0.4 0.1 0.4 0.1 0.4 0.1 0.4 0 0.4 0 0.4 0 0.4-0.1 0.4-0.1 0.4-0.1 0.4 0.1 0.4 0.1 0.4 0.1 0.4 0 0.4 0 0.4 0 0.4-0.1 0.4-0.1 0.4-0.1 0.4 0.1 0.4 0.1 0.4 0.1 0.4 0.1 0.4 0 0.4-0.1 0.4 0 0.4-0.1 0.4-0.1 0.4 0.1 0.4 0.1 0.4 0 0.4 0.1 0.4 0 0.4-0.1 0.4 0 0.4-0.1 0.4-0.1 0.4 0.1 0.4 0.1 0.4 0 0.4 0.1 0.4 0 0.4-0.1 0.4 0 0.4-0.1 0.4-0.1 0.4 0.1 0.4 0 0.4 0.1 0.4 0.1 0.4-0.1 0.4 0 0.4-0.2 0.4-0.1 0.4-0.1 0.4 0.1 0.4 0.1 0.4 0.2 0.4 0 0.4 0 0.4 0 0.4-0.2 0.4-0.2 0.4 0 0.4 0 0.4 0.2 0.4 0.2 0.4 0 0.4 0 0.4 0 0.4-0.2 0.4-0.1 0.4-0.1 0.4 0.1 0.4 0.1 0.4 0.2 0.4 0 0.4 0.1 0.4-0.1 0.4 0 0.4-0.1 0.4 0 0.4 0 0.4 0.1 0.4 0 0.4 0.1 0.4 0 0.4-0.1 0.4 0 0.4-0.1 0.4 0 0.4 0 0.4 0.1 0.4 0 0.4 0.1 0.4-0.1 0.4 0 0.4-0.2 0.4-0.1 0.4-0.1 0.4 0.1 0.4 0.1 0.4 0.2 0.4 0 0.4 0 0.4 0 0.4-0.1 0.4-0.1 0.4-0.1 0.4 0.1 0.4 0.1 0.4 0.1 0.4 0 0.4 0 0.4 0 0.4-0.2 0.4-0.1 0.4-0.1 0.4 0.1 0.4 0.1 0.4 0.2 0.4 0 0.4 0 0.4-0.2 0.4-0.2 0.4-0.4 0.4-0.1 0.4 0.1 0.4 0.4 0.4 0.2 0.4 0.2 0.4 0 0.4 0 0.4-0.1 0.4-0.1 0.4 0 0.4 0 0.4 0.1 0.4 0.1 0.4 0.1 0.4 0 0.4-0.1 0.4-0.1 0.4-0.1 0.4-0.1 0.4 0.1 0.4 0.1 0.4 0.1 0.4 0.1 0.4-0.1 0.4 0 0.4-0.1 0.4-0.1 0.4-0.1 0.4 0.1 0.4 0.1 0.4 0.1 0.4 0.1 0.4 0 0.4-0.1 0.4-0.1 0.4-0.1 0.4-0.1 0.4 0.1 0.4 0.1 0.4 0 0.4 0 0.4-0.2 0.4-0.7 0.4-1.1 0.4-1.3 0.4-0.6 0.4 0.6 0.4 1.3 0.4 1.1 0.4 0.6 0.4 0 0.4-0.4 0.4-0.8 0.4-1 0.4-0.4 0.4 0.4 0.4 1 0.4 0.8 0.4 0.4 0.4-0.2 0.4-0.8 0.4-1.5 0.4-1.8 0.4-0.8 0.4 0.8 0.4 1.8 0.4 1.5 0.4 0.8 0.4 0.1 0.4-0.4 0.4-1 0.4-1.1 0.4-0.5 0.4 0.5 0.4 1.1 0.4 1 0.4 0.6 0.4 0 0.4-0.3 0.4-0.6 0.4-0.8 0.4-0.3 0.4 0.3 0.4 0.8 0.4 0.7 0.4 0.3 0.4 0.1 0.4-0.1 0.4-0.2 0.4-0.3 0.4-0.1 0.4 0.1 0.4 0.3 0.4 0.3 0.4 0.1 0.4 0 0.4 0 0.4-0.1 0.4-0.2 0.4 0 0.4 0.1 0.4 0.1 0.4 0.1 0.4 0.1 0.4 0 0.4-0.1 0.4 0 0.4-0.1 0.4 0 0.4 0 0.4 0.1 0.4 0 0.4 0.1 0.4-0.1 0.4 0 0.4-0.1 0.4-0.2 0.4 0 0.4 0 0.4 0.2 0.4 0.1 0.4 0 0.4 0 0.4 0 0.4-0.2 0.4-0.1 0.4-0.1 0.4 0.1 0.4 0.1 0.4 0.2 0.4 0 0.4 0.1 0.4-0.1 0.4 0 0.4-0.1 0.4-0.1 0.4 0.1 0.4 0.1 0.4 0 0.4 0.1 0.4 0 0.4-0.1 0.4-0.1 0.4-0.1 0.4-0.1 0.4 0.1 0.4 0.1 0.4 0.1 0.4 0 0.4 0 0.4 0 0.4-0.1 0.4-0.2 0.4-0.1 0.4 0.1 0.4 0.2 0.4 0.1 0.4 0 0.4 0.1 0.4-0.1 0.4-0.1 0.4-0.1 0.4 0 0.4 0 0.4 0.1 0.4 0.1 0.4 0 0.4 0 0.4-0.1 0.4-0.1 0.4-0.2 0.4-0.1 0.4 0.1 0.4 0.2 0.4 0.1 0.4 0.1 0.4 0.1 0.4-0.1 0.4-0.1 0.4 0 0.4-0.1 0.4 0.1 0.4 0 0.4 0.1 0.4 0 0.4 0 0.4-0.2 0.4-0.3 0.4-0.3 0.4-0.2 0.4 0.2 0.4 0.3 0.4 0.3 0.4 0.2 0.4 0 0.4 0 0.4-0.2 0.4-0.1 0.4-0.1 0.4 0.1 0.4 0.1 0.4 0.2 0.4 0 0.4 0.1 0.4-0.1 0.4 0 0.4-0.1 0.4-0.1 0.4 0.1 0.4 0.1 0.4 0 0.4 0.1 0.4 0 0.4-0.1 0.4-0.1 0.4-0.1 0.4-0.1 0.4 0.1 0.4 0.1 0.4 0.1 0.4 0.1 0.4 0 0.4-0.1 0.4 0 0.4-0.1 0.4 0 0.4 0 0.4 0.1 0.4 0 0.4 0.1 0.4-0.1 0.4 0 0.4-0.2 0.4-0.1 0.4-0.1 0.4 0.1 0.4 0.1 0.4 0.2 0.4 0 0.4 0 0.4-0.1 0.4-0.1 0.4-0.2 0.4-0.1 0.4 0.1 0.4 0.2 0.4 0.1 0.4 0.1 0.4 0 0.4 0 0.4-0.2 0.4-0.1 0.4-0.1 0.4 0.1 0.4 0.1 0.4 0.1 0.4 0.1 0.4-0.1 0.4-0.3 0.4-0.5 0.4-0.6 0.4-0.3 0.4 0.3 0.4 0.6 0.4 0.5 0.4 0.3 0.4 0 0.4-0.1 0.4-0.2 0.4-0.3 0.4-0.1 0.4 0.1 0.4 0.3 0.4 0.2 0.4 0 0.4-0.2 0.4-0.8 0.4-1.3 0.4-1.6 0.4-0.7 0.4 0.7 0.4 1.5 0.4 1.4 0.4 0.7 0.4 0 0.4-0.4 0.4-1 0.4-1.1 0.4-0.6 0.4 0.4 0.4 1 0.4 0.8 0.4 0 0.4-1.6 0.4-4.4 0.4-8 0.4-8.9 0.4-4.2 0.4 4.1 0.4 8.8 0.4 7.8 0.4 4 0.4 0.3 0.4-3 0.4-6.2 0.4-7.2 0.4-3.2 0.4 3.2 0.4 7.2 0.4 6.3 0.4 3.1 0.4 0 0.4-3.1 0.4-6.3 0.4-7.1 0.4-3.3 0.4 3.3 0.4 7.2 0.4 6.4 0.4 3.4 0.4 0.6 0.4-1.5 0.4-3.4 0.4-4 0.4-1.8 0.4 1.9 0.4 4.1 0.4 3.5 0.4 1.9 0.4 0.5 0.4-0.6 0.4-1.4 0.4-1.6 0.4-0.7 0.4 0.8 0.4 1.7 0.4 1.5 0.4 0.8 0.4 0.2 0.4-0.1 0.4-0.4 0.4-0.5 0.4-0.2 0.4 0.2 0.4 0.5 0.4 0.5 0.4 0.2 0.4 0.1 0.4 0 0.4-0.2 0.4-0.1 0.4 0 0.4 0 0.4 0.2 0.4 0.1 0.4 0 0.4 0 0.4 0 0.4-0.2 0.4-0.1 0.4-0.1 0.4 0.1 0.4 0.1 0.4 0.2 0.4 0 0.4 0 0.4 0 0.4-0.1 0.4-0.2 0.4 0 0.4 0 0.4 0.2 0.4 0.1 0.4 0 0.4 0.1 0.4-0.1 0.4-0.1 0.4-0.1 0.4 0 0.4 0 0.4 0.1 0.4 0.1 0.4 0.1 0.4-0.1 0.4 0 0.4-0.1 0.4-0.1 0.4-0.1 0.4 0.1 0.4 0.1 0.4 0.1 0.4 0 0.4 0 0.4 0 0.4-0.1 0.4-0.1 0.4-0.1 0.4 0.1 0.4 0.1 0.4 0.1 0.4 0 0.4 0 0.4-0.1 0.4-0.2 0.4-0.2 0.4-0.1 0.4 0.1 0.4 0.2 0.4 0.2 0.4 0.1 0.4 0 0.4 0 0.4-0.2 0.4-0.2 0.4 0 0.4 0 0.4 0.2 0.4 0.1 0.4 0 0.4-0.1 0.4-0.5 0.4-0.9 0.4-1 0.4-0.4 0.4 0.4 0.4 1 0.4 0.9 0.4 0.4 0.4 0.1 0.4-0.3 0.4-0.6 0.4-0.7 0.4-0.3 0.4 0.3 0.4 0.7 0.4 0.6 0.4 0.3 0.4 0 0.4-0.4 0.4-0.7 0.4-0.8 0.4-0.3 0.4 0.4 0.4 0.7 0.4 0.7 0.4 0.4 0.4 0.1 0.4-0.2 0.4-0.4 0.4-0.5 0.4-0.2 0.4 0.2 0.4 0.5 0.4 0.4 0.4 0.2 0.4 0.1 0.4 0 0.4-0.2 0.4-0.1 0.4-0.1 0.4 0.1 0.4 0.1 0.4 0.2 0.4 0 0.4 0.1 0.4-0.1 0.4-0.1 0.4-0.1 0.4 0 0.4 0 0.4 0.1 0.4 0.1 0.4 0 0.4 0 0.4-0.1 0.4-0.2 0.4-0.2 0.4-0.1 0.4 0.1 0.4 0.2 0.4 0.2 0.4 0.1 0.4 0 0.4 0 0.4-0.2 0.4-0.2 0.4 0 0.4 0 0.4 0.2 0.4 0 0.4 0 0.4-0.5 0.4-1.1 0.4-2.1 0.4-2.4 0.4-1.1 0.4 1.1 0.4 2.3 0.4 2.1 0.4 1.1 0.4 0.1 0.4-0.8 0.4-1.5 0.4-1.7 0.4-0.8 0.4 0.8 0.4 1.7 0.4 1.5 0.4 0.7 0.4-0.1 0.4-1.2 0.4-2.4 0.4-2.6 0.4-1.2 0.4 1.2 0.4 2.6 0.4 2.4 0.4 1.2 0.4 0.1 0.4-0.6 0.4-1.5 0.4-1.7 0.4-0.8 0.4 0.8 0.4 1.6 0.4 1.3 0.4 0.5 0.4-0.8 0.4-2.6 0.4-5 0.4-5.7 0.4-2.6 0.4 2.6 0.4 5.5 0.4 4.9 0.4 2.5 0.4 0.2 0.4-1.9 0.4-3.9 0.4-4.5 0.4-2.2 0.4 1.8 0.4 4.1 0.4 3.3 0.4 0.3 0.4-4.6 0.4-13.8 0.4-25.1 0.4-28.3 0.4-13 0.4 12.7 0.4 28 0.4 24.6 0.4 12.5 0.4 1 0.4-9.7 0.4-20 0.4-22.9 0.4-10.4 0.4 10.7 0.4 23.1 0.4 20.5 0.4 10.8 0.4 2.2 0.4-4.3 0.4-10 0.4-11.5 0.4-5.1 0.4 5.4 0.4 11.9 0.4 10.5 0.4 5.5 0.4 1.5 0.4-1.5 0.4-3.7 0.4-4.4 0.4-1.9 0.4 2.1 0.4 4.6 0.4 4 0.4 2.2 0.4 0.7 0.4-0.4 0.4-1 0.4-1.2 0.4-0.5 0.4 0.6 0.4 1.3 0.4 1.1 0.4 0.7 0.4 0.2 0.4 0 0.4-0.1 0.4-0.1 0.4-0.1 0.4 0.1 0.4 0.1 0.4 0.2 0.4 0 0.4 0 0.4 0 0.4-0.2 0.4-0.1 0.4-0.1 0.4 0.1 0.4 0.1 0.4 0.2 0.4 0 0.4 0 0.4 0 0.4-0.2 0.4-0.1 0.4-0.1 0.4 0.1 0.4 0.1 0.4 0.2 0.4 0 0.4 0 0.4 0 0.4-0.1 0.4-0.1 0.4 0 0.4 0 0.4 0.1 0.4 0.1 0.4 0 0.4 0 0.4 0 0.4-0.2 0.4-0.1 0.4-0.1 0.4 0.1 0.4 0.1 0.4 0.2 0.4 0 0.4 0 0.4 0 0.4-0.2 0.4-0.1 0.4-0.1 0.4 0.1 0.4 0.1 0.4 0.2 0.4 0 0.4 0 0.4 0 0.4-0.1 0.4-0.2 0.4 0 0.4 0 0.4 0.2 0.4 0.1 0.4 0 0.4 0 0.4 0 0.4-0.2 0.4-0.1 0.4-0.1 0.4 0.1 0.4 0.1 0.4 0.2 0.4 0 0.4 0 0.4 0 0.4-0.2 0.4-0.1 0.4-0.1 0.4 0.1 0.4 0.1 0.4 0.1 0.4 0 0.4-0.1 0.4-0.5 0.4-0.9 0.4-1 0.4-0.5 0.4 0.5 0.4 1 0.4 0.8 0.4 0.5 0.4 0.1 0.4-0.3 0.4-0.6 0.4-0.6 0.4-0.3 0.4 0.3 0.4 0.6 0.4 0.6 0.4 0.3 0.4 0 0.4-0.3 0.4-0.5 0.4-0.7 0.4-0.3 0.4 0.3 0.4 0.7 0.4 0.6 0.4 0.3 0.4 0.1 0.4 0 0.4-0.1 0.4-0.1 0.4 0 0.4 0 0.4 0.1 0.4 0.1 0.4 0 0.4 0 0.4-0.2 0.4-0.4 0.4-0.4 0.4-0.2 0.4 0.2 0.4 0.4 0.4 0.4 0.4 0.2 0.4 0 0.4 0 0.4-0.2 0.4-0.1 0.4-0.1 0.4 0.1 0.4 0.1 0.4 0.1 0.4 0 0.4-0.2 0.4-0.6 0.4-1.2 0.4-1.2 0.4-0.6 0.4 0.6 0.4 1.2 0.4 1.1 0.4 0.6 0.4 0 0.4-0.4 0.4-0.9 0.4-1 0.4-0.5 0.4 0.4 0.4 0.9 0.4 0.7 0.4 0 0.4-1.3 0.4-3.8 0.4-6.8 0.4-7.7 0.4-3.6 0.4 3.5 0.4 7.6 0.4 6.6 0.4 3.4 0.4 0.2 0.4-2.7 0.4-5.7 0.4-6.5 0.4-3 0.4 3 0.4 6.6 0.4 5.7 0.4 3 0.4 0.4 0.4-1.8 0.4-3.9 0.4-4.5 0.4-2 0.4 2.1 0.4 4.6 0.4 4 0.4 2.1 0.4 0.4 0.4-0.9 0.4-2 0.4-2.4 0.4-1.1 0.4 1.2 0.4 2.4 0.4 2.1 0.4 1.1 0.4 0 0.4-0.9 0.4-1.9 0.4-2.2 0.4-1 0.4 1 0.4 2.2 0.4 1.9 0.4 1 0.4 0.2 0.4-0.6 0.4-1.2 0.4-1.4 0.4-0.6 0.4 0.6 0.4 1.4 0.4 1.2 0.4 0.5 0.4-0.2 0.4-1.3 0.4-2.5 0.4-2.8 0.4-1.3 0.4 1.2 0.4 2.8 0.4 2.5 0.4 1.3 0.4 0.1 0.4-0.9 0.4-1.9 0.4-2.2 0.4-1 0.4 1 0.4 2.2 0.4 2 0.4 1 0.4 0.3 0.4-0.3 0.4-0.7 0.4-0.8 0.4-0.3 0.4 0.4 0.4 0.8 0.4 0.7 0.4 0.4 0.4 0.1 0.4-0.1 0.4-0.2 0.4-0.3 0.4-0.1 0.4 0.1 0.4 0.3 0.4 0.3 0.4 0.1 0.4 0 0.4 0 0.4 0 0.4-0.1 0.4 0 0.4 0 0.4 0.1 0.4 0 0.4 0.1 0.4 0 0.4-0.1 0.4-0.1 0.4-0.1 0.4 0 0.4 0 0.4 0.1 0.4 0.1 0.4 0.1 0.4 0 0.4-0.1 0.4-0.1 0.4-0.1 0.4-0.1 0.4 0.1 0.4 0.1 0.4 0.1 0.4 0.1 0.4 0 0.4-0.1 0.4 0 0.4-0.1 0.4 0 0.4 0 0.4 0.1 0.4 0 0.4 0.1 0.4 0 0.4-0.1 0.4-0.1 0.4-0.1 0.4 0 0.4 0 0.4 0.1 0.4 0.1 0.4 0.1 0.4-0.1 0.4 0 0.4-0.1 0.4-0.2 0.4 0 0.4 0 0.4 0.2 0.4 0.1 0.4 0 0.4 0 0.4 0 0.4-0.1 0.4-0.2 0.4 0 0.4 0 0.4 0.2 0.4 0.1 0.4 0 0.4 0.1 0.4-0.1 0.4-0.1 0.4 0 0.4-0.1 0.4 0.1 0.4 0 0.4 0.1 0.4 0.1 0.4-0.1 0.4 0 0.4-0.2 0.4-0.1 0.4-0.1 0.4 0.1 0.4 0.1 0.4 0.2 0.4 0 0.4 0 0.4 0 0.4-0.1 0.4-0.2 0.4 0 0.4 0 0.4 0.2 0.4 0.1 0.4 0 0.4 0.1 0.4-0.1 0.4-0.1 0.4-0.1 0.4 0 0.4 0 0.4 0.1 0.4 0.1 0.4 0.1 0.4-0.1 0.4 0 0.4-0.1 0.4-0.2 0.4 0 0.4 0 0.4 0.2 0.4 0.1 0.4 0 0.4 0 0.4 0 0.4-0.1 0.4-0.1 0.4-0.1 0.4 0.1 0.4 0.1 0.4 0.1 0.4 0" fill="none" stroke="#1c1c1c" stroke-width="1.1" stroke-linejoin="round"/>
</g>
<g id="axes">
<path d="M47.0 12.3V530.5 M46.4 12.9H664.8 M664.2 12.3V530.5" stroke="#333" stroke-width="1.4" fill="none"/>
<path d="M46.4 116.1H664.8" stroke="#111" stroke-width="1.4" fill="none"/>
<path d="M53.2 115.8v3.0M89.2 115.8v4.8M125.2 115.8v3.0M161.2 115.8v4.8M197.2 115.8v3.0M233.2 115.8v4.8M269.2 115.8v3.0M305.2 115.8v4.8M341.2 115.8v3.0M377.2 115.8v4.8M413.2 115.8v3.0M449.2 115.8v4.8M485.2 115.8v3.0M521.2 115.8v4.8M557.2 115.8v3.0M593.2 115.8v4.8M629.2 115.8v3.0" stroke="#111" stroke-width="1.1" fill="none"/>
<path d="M46.4 218.9H664.8" stroke="#111" stroke-width="1.4" fill="none"/>
<path d="M53.2 218.6v3.0M89.2 218.6v4.8M125.2 218.6v3.0M161.2 218.6v4.8M197.2 218.6v3.0M233.2 218.6v4.8M269.2 218.6v3.0M305.2 218.6v4.8M341.2 218.6v3.0M377.2 218.6v4.8M413.2 218.6v3.0M449.2 218.6v4.8M485.2 218.6v3.0M521.2 218.6v4.8M557.2 218.6v3.0M593.2 218.6v4.8M629.2 218.6v3.0" stroke="#111" stroke-width="1.1" fill="none"/>
<path d="M46.4 322.9H664.8" stroke="#111" stroke-width="1.4" fill="none"/>
<path d="M53.2 322.6v3.0M89.2 322.6v4.8M125.2 322.6v3.0M161.2 322.6v4.8M197.2 322.6v3.0M233.2 322.6v4.8M269.2 322.6v3.0M305.2 322.6v4.8M341.2 322.6v3.0M377.2 322.6v4.8M413.2 322.6v3.0M449.2 322.6v4.8M485.2 322.6v3.0M521.2 322.6v4.8M557.2 322.6v3.0M593.2 322.6v4.8M629.2 322.6v3.0" stroke="#111" stroke-width="1.1" fill="none"/>
<path d="M46.4 426.8H664.8" stroke="#111" stroke-width="1.4" fill="none"/>
<path d="M53.2 426.5v3.0M89.2 426.5v4.8M125.2 426.5v3.0M161.2 426.5v4.8M197.2 426.5v3.0M233.2 426.5v4.8M269.2 426.5v3.0M305.2 426.5v4.8M341.2 426.5v3.0M377.2 426.5v4.8M413.2 426.5v3.0M449.2 426.5v4.8M485.2 426.5v3.0M521.2 426.5v4.8M557.2 426.5v3.0M593.2 426.5v4.8M629.2 426.5v3.0" stroke="#111" stroke-width="1.1" fill="none"/>
<path d="M46.4 529.9H664.8" stroke="#111" stroke-width="1.4" fill="none"/>
<path d="M53.2 529.6v3.0M89.2 529.6v4.8M125.2 529.6v3.0M161.2 529.6v4.8M197.2 529.6v3.0M233.2 529.6v4.8M269.2 529.6v3.0M305.2 529.6v4.8M341.2 529.6v3.0M377.2 529.6v4.8M413.2 529.6v3.0M449.2 529.6v4.8M485.2 529.6v3.0M521.2 529.6v4.8M557.2 529.6v3.0M593.2 529.6v4.8M629.2 529.6v3.0" stroke="#111" stroke-width="1.1" fill="none"/>
<path d="M47.0 115.8h-4.9M47.0 99.0h-4.4M47.0 82.3h-4.9M47.0 65.5h-4.4M47.0 48.8h-4.9M47.0 32.0h-4.4M47.0 15.3h-4.4" stroke="#222" stroke-width="1.1" fill="none"/>
<path d="M47.0 218.6h-4.9M47.0 201.1h-4.4M47.0 183.6h-4.9M47.0 166.2h-4.4M47.0 148.7h-4.9" stroke="#222" stroke-width="1.1" fill="none"/>
<path d="M47.0 322.6h-4.9M47.0 299.8h-4.9M47.0 277.0h-4.9M47.0 254.2h-4.9" stroke="#222" stroke-width="1.1" fill="none"/>
<path d="M47.0 426.5h-4.9M47.0 402.2h-4.9M47.0 377.9h-4.9M47.0 353.6h-4.9" stroke="#222" stroke-width="1.1" fill="none"/>
<path d="M47.0 529.6h-4.9M47.0 514.3h-4.9M47.0 499.0h-4.9M47.0 483.6h-4.9M47.0 468.3h-4.9M47.0 453.0h-4.9" stroke="#222" stroke-width="1.1" fill="none"/>
</g>
<g id="labels">
<text transform="translate(40.9 120.8) scale(1.040 1)" font-size="12.5" text-anchor="end">0.0</text>
<text transform="translate(40.9 87.3) scale(1.040 1)" font-size="12.5" text-anchor="end">0.5</text>
<text transform="translate(40.9 53.8) scale(1.040 1)" font-size="12.5" text-anchor="end">1.0</text>
<text transform="translate(40.1 223.2) scale(1.040 1)" font-size="12.5" text-anchor="end">0.0</text>
<text transform="translate(40.1 188.2) scale(1.040 1)" font-size="12.5" text-anchor="end">0.5</text>
<text transform="translate(40.1 153.3) scale(1.040 1)" font-size="12.5" text-anchor="end">1.0</text>
<text transform="translate(39.1 327.0) scale(1.040 1)" font-size="12.5" text-anchor="end">0.0</text>
<text transform="translate(39.1 304.2) scale(1.040 1)" font-size="12.5" text-anchor="end">0.5</text>
<text transform="translate(39.1 281.4) scale(1.040 1)" font-size="12.5" text-anchor="end">1.0</text>
<text transform="translate(39.1 258.6) scale(1.040 1)" font-size="12.5" text-anchor="end">1.5</text>
<text transform="translate(38.1 431.8) scale(1.040 1)" font-size="12.5" text-anchor="end">0.0</text>
<text transform="translate(38.1 407.5) scale(1.040 1)" font-size="12.5" text-anchor="end">0.5</text>
<text transform="translate(38.1 383.2) scale(1.040 1)" font-size="12.5" text-anchor="end">1.0</text>
<text transform="translate(38.1 358.9) scale(1.040 1)" font-size="12.5" text-anchor="end">1.5</text>
<text transform="translate(38.3 534.9) scale(1.040 1)" font-size="12.5" text-anchor="end">0.0</text>
<text transform="translate(38.3 519.6) scale(1.040 1)" font-size="12.5" text-anchor="end">0.2</text>
<text transform="translate(38.3 504.3) scale(1.040 1)" font-size="12.5" text-anchor="end">0.4</text>
<text transform="translate(38.3 488.9) scale(1.040 1)" font-size="12.5" text-anchor="end">0.6</text>
<text transform="translate(38.3 473.6) scale(1.040 1)" font-size="12.5" text-anchor="end">0.8</text>
<text transform="translate(38.3 458.3) scale(1.040 1)" font-size="12.5" text-anchor="end">1.0</text>
<text transform="translate(87.5 551.1) scale(1.015 1)" font-size="12.6" text-anchor="middle">1340</text>
<text transform="translate(159.5 551.1) scale(1.015 1)" font-size="12.6" text-anchor="middle">1360</text>
<text transform="translate(231.5 551.1) scale(1.015 1)" font-size="12.6" text-anchor="middle">1380</text>
<text transform="translate(303.5 551.1) scale(1.015 1)" font-size="12.6" text-anchor="middle">1400</text>
<text transform="translate(375.5 551.1) scale(1.015 1)" font-size="12.6" text-anchor="middle">1420</text>
<text transform="translate(447.5 551.1) scale(1.015 1)" font-size="12.6" text-anchor="middle">1440</text>
<text transform="translate(519.5 551.1) scale(1.015 1)" font-size="12.6" text-anchor="middle">1460</text>
<text transform="translate(591.5 551.1) scale(1.015 1)" font-size="12.6" text-anchor="middle">1480</text>
<text transform="translate(641.5 550.8) scale(1.000 1)" font-size="12.6" text-anchor="start">m/z</text>
<text transform="translate(0.1 9.6) scale(1.140 1)" font-size="11.4" text-anchor="start">Intens.</text>
<text transform="translate(0.8 35.4) scale(1.040 1)" font-size="12.0" text-anchor="start">x10</text>
<text transform="translate(19.6 28.2) scale(1.000 1)" font-size="12.0" text-anchor="start">4</text>
<text transform="translate(59.6 42.3) scale(1.024 1)" font-size="15.3" text-anchor="start">Control</text>
<text transform="translate(98.8 102.4) scale(0.900 1)" font-size="15.3" text-anchor="start">CL 64</text>
<text transform="translate(196.4 86.9) scale(0.900 1)" font-size="15.3" text-anchor="start">CL 66</text>
<text transform="translate(301.0 35.0) scale(0.900 1)" font-size="15.3" text-anchor="start">CL 68</text>
<text transform="translate(413.8 31.8) scale(0.900 1)" font-size="15.3" text-anchor="start">CL 70</text>
<text transform="translate(484.2 68.1) scale(0.900 1)" font-size="15.3" text-anchor="start">CL 72</text>
<text transform="translate(570.8 98.7) scale(0.900 1)" font-size="15.3" text-anchor="start">CL 74</text>
<text transform="translate(54.8 148.2) scale(0.959 1)" font-size="15.3" text-anchor="start">PG(18:1)<tspan font-size="11" dy="4">2</tspan><tspan dy="-4">x1</tspan></text>
<text transform="translate(56.8 246.8) scale(0.959 1)" font-size="15.3" text-anchor="start">PG(18:1)<tspan font-size="11" dy="4">2</tspan><tspan dy="-4">x2</tspan></text>
<text transform="translate(59.3 350.8) scale(0.959 1)" font-size="15.3" text-anchor="start">PG(18:1)<tspan font-size="11" dy="4">2</tspan><tspan dy="-4">x3</tspan></text>
<text transform="translate(59.3 456.2) scale(0.959 1)" font-size="15.3" text-anchor="start">PG(18:1)<tspan font-size="11" dy="4">2</tspan><tspan dy="-4">x4</tspan></text>
<text transform="translate(504.4 443.3) scale(0.995 1)" font-size="15.6" text-anchor="start">1455</text>
</g>
</svg>
</body></html>
